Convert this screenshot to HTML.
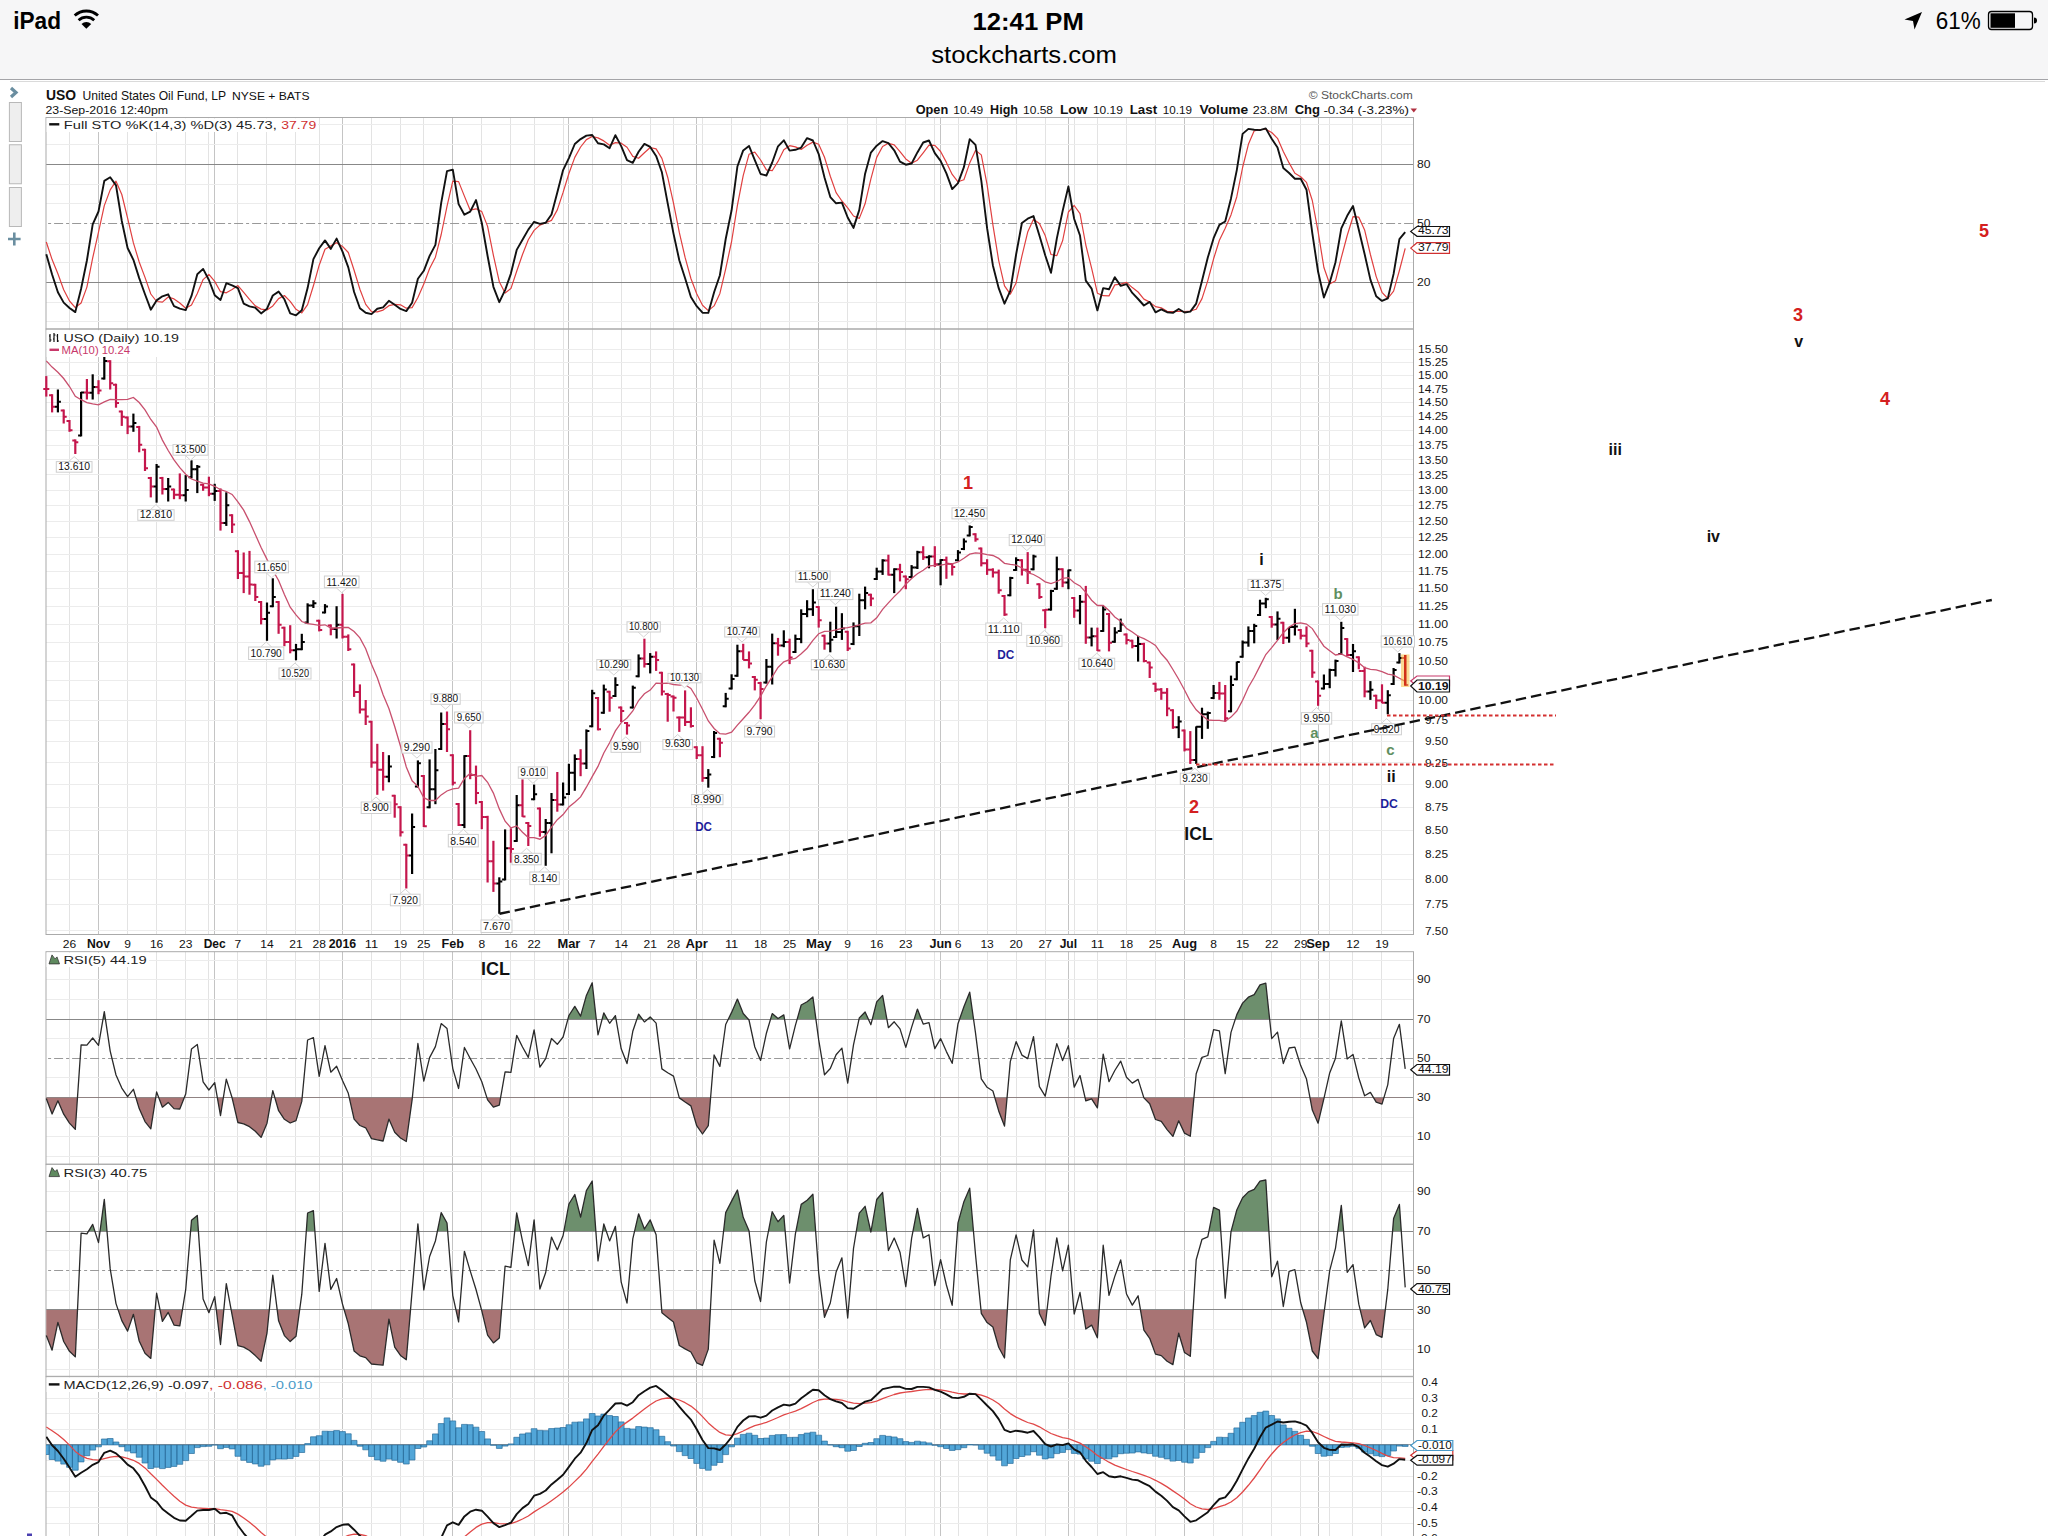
<!DOCTYPE html><html><head><meta charset="utf-8"><style>
html,body{margin:0;padding:0;width:2048px;height:1536px;overflow:hidden;background:#fff;font-family:"Liberation Sans",sans-serif}
#sb{position:absolute;left:0;top:0;width:2048px;height:79px;background:#f6f6f7;border-bottom:1px solid #a4a4a8}
#sh{position:absolute;left:10px;top:81px;width:2035px;height:1px;background:#dadada}
.t{position:absolute;white-space:nowrap;color:#000}
svg{position:absolute;left:0;top:0}
svg text{font-family:"Liberation Sans",sans-serif}
</style></head><body>
<div id="sb"></div><div id="sh"></div>
<svg width="2048" height="1536" viewBox="0 0 2048 1536">
<line x1="69.5" y1="117.5" x2="69.5" y2="329.0" stroke="#e3e3e3" stroke-width="1" />
<line x1="127.5" y1="117.5" x2="127.5" y2="329.0" stroke="#e3e3e3" stroke-width="1" />
<line x1="156.5" y1="117.5" x2="156.5" y2="329.0" stroke="#e3e3e3" stroke-width="1" />
<line x1="185.5" y1="117.5" x2="185.5" y2="329.0" stroke="#e3e3e3" stroke-width="1" />
<line x1="208.5" y1="117.5" x2="208.5" y2="329.0" stroke="#e3e3e3" stroke-width="1" />
<line x1="237.5" y1="117.5" x2="237.5" y2="329.0" stroke="#e3e3e3" stroke-width="1" />
<line x1="266.5" y1="117.5" x2="266.5" y2="329.0" stroke="#e3e3e3" stroke-width="1" />
<line x1="295.5" y1="117.5" x2="295.5" y2="329.0" stroke="#e3e3e3" stroke-width="1" />
<line x1="319.5" y1="117.5" x2="319.5" y2="329.0" stroke="#e3e3e3" stroke-width="1" />
<line x1="371.5" y1="117.5" x2="371.5" y2="329.0" stroke="#e3e3e3" stroke-width="1" />
<line x1="400.5" y1="117.5" x2="400.5" y2="329.0" stroke="#e3e3e3" stroke-width="1" />
<line x1="423.5" y1="117.5" x2="423.5" y2="329.0" stroke="#e3e3e3" stroke-width="1" />
<line x1="481.5" y1="117.5" x2="481.5" y2="329.0" stroke="#e3e3e3" stroke-width="1" />
<line x1="510.5" y1="117.5" x2="510.5" y2="329.0" stroke="#e3e3e3" stroke-width="1" />
<line x1="534.5" y1="117.5" x2="534.5" y2="329.0" stroke="#e3e3e3" stroke-width="1" />
<line x1="563.5" y1="117.5" x2="563.5" y2="329.0" stroke="#e3e3e3" stroke-width="1" />
<line x1="592.5" y1="117.5" x2="592.5" y2="329.0" stroke="#e3e3e3" stroke-width="1" />
<line x1="621.5" y1="117.5" x2="621.5" y2="329.0" stroke="#e3e3e3" stroke-width="1" />
<line x1="650.5" y1="117.5" x2="650.5" y2="329.0" stroke="#e3e3e3" stroke-width="1" />
<line x1="673.5" y1="117.5" x2="673.5" y2="329.0" stroke="#e3e3e3" stroke-width="1" />
<line x1="702.5" y1="117.5" x2="702.5" y2="329.0" stroke="#e3e3e3" stroke-width="1" />
<line x1="731.5" y1="117.5" x2="731.5" y2="329.0" stroke="#e3e3e3" stroke-width="1" />
<line x1="760.5" y1="117.5" x2="760.5" y2="329.0" stroke="#e3e3e3" stroke-width="1" />
<line x1="789.5" y1="117.5" x2="789.5" y2="329.0" stroke="#e3e3e3" stroke-width="1" />
<line x1="847.5" y1="117.5" x2="847.5" y2="329.0" stroke="#e3e3e3" stroke-width="1" />
<line x1="876.5" y1="117.5" x2="876.5" y2="329.0" stroke="#e3e3e3" stroke-width="1" />
<line x1="905.5" y1="117.5" x2="905.5" y2="329.0" stroke="#e3e3e3" stroke-width="1" />
<line x1="934.5" y1="117.5" x2="934.5" y2="329.0" stroke="#e3e3e3" stroke-width="1" />
<line x1="958.5" y1="117.5" x2="958.5" y2="329.0" stroke="#e3e3e3" stroke-width="1" />
<line x1="987.5" y1="117.5" x2="987.5" y2="329.0" stroke="#e3e3e3" stroke-width="1" />
<line x1="1016.5" y1="117.5" x2="1016.5" y2="329.0" stroke="#e3e3e3" stroke-width="1" />
<line x1="1045.5" y1="117.5" x2="1045.5" y2="329.0" stroke="#e3e3e3" stroke-width="1" />
<line x1="1074.5" y1="117.5" x2="1074.5" y2="329.0" stroke="#e3e3e3" stroke-width="1" />
<line x1="1097.5" y1="117.5" x2="1097.5" y2="329.0" stroke="#e3e3e3" stroke-width="1" />
<line x1="1126.5" y1="117.5" x2="1126.5" y2="329.0" stroke="#e3e3e3" stroke-width="1" />
<line x1="1155.5" y1="117.5" x2="1155.5" y2="329.0" stroke="#e3e3e3" stroke-width="1" />
<line x1="1213.5" y1="117.5" x2="1213.5" y2="329.0" stroke="#e3e3e3" stroke-width="1" />
<line x1="1242.5" y1="117.5" x2="1242.5" y2="329.0" stroke="#e3e3e3" stroke-width="1" />
<line x1="1271.5" y1="117.5" x2="1271.5" y2="329.0" stroke="#e3e3e3" stroke-width="1" />
<line x1="1300.5" y1="117.5" x2="1300.5" y2="329.0" stroke="#e3e3e3" stroke-width="1" />
<line x1="1329.5" y1="117.5" x2="1329.5" y2="329.0" stroke="#e3e3e3" stroke-width="1" />
<line x1="1352.5" y1="117.5" x2="1352.5" y2="329.0" stroke="#e3e3e3" stroke-width="1" />
<line x1="1381.5" y1="117.5" x2="1381.5" y2="329.0" stroke="#e3e3e3" stroke-width="1" />
<line x1="98.5" y1="117.5" x2="98.5" y2="329.0" stroke="#c4c4c4" stroke-width="1" />
<line x1="214.5" y1="117.5" x2="214.5" y2="329.0" stroke="#c4c4c4" stroke-width="1" />
<line x1="342.5" y1="117.5" x2="342.5" y2="329.0" stroke="#c4c4c4" stroke-width="1" />
<line x1="452.5" y1="117.5" x2="452.5" y2="329.0" stroke="#c4c4c4" stroke-width="1" />
<line x1="568.5" y1="117.5" x2="568.5" y2="329.0" stroke="#c4c4c4" stroke-width="1" />
<line x1="696.5" y1="117.5" x2="696.5" y2="329.0" stroke="#c4c4c4" stroke-width="1" />
<line x1="818.5" y1="117.5" x2="818.5" y2="329.0" stroke="#c4c4c4" stroke-width="1" />
<line x1="940.5" y1="117.5" x2="940.5" y2="329.0" stroke="#c4c4c4" stroke-width="1" />
<line x1="1068.5" y1="117.5" x2="1068.5" y2="329.0" stroke="#c4c4c4" stroke-width="1" />
<line x1="1184.5" y1="117.5" x2="1184.5" y2="329.0" stroke="#c4c4c4" stroke-width="1" />
<line x1="1318.5" y1="117.5" x2="1318.5" y2="329.0" stroke="#c4c4c4" stroke-width="1" />
<line x1="69.5" y1="329.0" x2="69.5" y2="934.5" stroke="#e3e3e3" stroke-width="1" />
<line x1="127.5" y1="329.0" x2="127.5" y2="934.5" stroke="#e3e3e3" stroke-width="1" />
<line x1="156.5" y1="329.0" x2="156.5" y2="934.5" stroke="#e3e3e3" stroke-width="1" />
<line x1="185.5" y1="329.0" x2="185.5" y2="934.5" stroke="#e3e3e3" stroke-width="1" />
<line x1="208.5" y1="329.0" x2="208.5" y2="934.5" stroke="#e3e3e3" stroke-width="1" />
<line x1="237.5" y1="329.0" x2="237.5" y2="934.5" stroke="#e3e3e3" stroke-width="1" />
<line x1="266.5" y1="329.0" x2="266.5" y2="934.5" stroke="#e3e3e3" stroke-width="1" />
<line x1="295.5" y1="329.0" x2="295.5" y2="934.5" stroke="#e3e3e3" stroke-width="1" />
<line x1="319.5" y1="329.0" x2="319.5" y2="934.5" stroke="#e3e3e3" stroke-width="1" />
<line x1="371.5" y1="329.0" x2="371.5" y2="934.5" stroke="#e3e3e3" stroke-width="1" />
<line x1="400.5" y1="329.0" x2="400.5" y2="934.5" stroke="#e3e3e3" stroke-width="1" />
<line x1="423.5" y1="329.0" x2="423.5" y2="934.5" stroke="#e3e3e3" stroke-width="1" />
<line x1="481.5" y1="329.0" x2="481.5" y2="934.5" stroke="#e3e3e3" stroke-width="1" />
<line x1="510.5" y1="329.0" x2="510.5" y2="934.5" stroke="#e3e3e3" stroke-width="1" />
<line x1="534.5" y1="329.0" x2="534.5" y2="934.5" stroke="#e3e3e3" stroke-width="1" />
<line x1="563.5" y1="329.0" x2="563.5" y2="934.5" stroke="#e3e3e3" stroke-width="1" />
<line x1="592.5" y1="329.0" x2="592.5" y2="934.5" stroke="#e3e3e3" stroke-width="1" />
<line x1="621.5" y1="329.0" x2="621.5" y2="934.5" stroke="#e3e3e3" stroke-width="1" />
<line x1="650.5" y1="329.0" x2="650.5" y2="934.5" stroke="#e3e3e3" stroke-width="1" />
<line x1="673.5" y1="329.0" x2="673.5" y2="934.5" stroke="#e3e3e3" stroke-width="1" />
<line x1="702.5" y1="329.0" x2="702.5" y2="934.5" stroke="#e3e3e3" stroke-width="1" />
<line x1="731.5" y1="329.0" x2="731.5" y2="934.5" stroke="#e3e3e3" stroke-width="1" />
<line x1="760.5" y1="329.0" x2="760.5" y2="934.5" stroke="#e3e3e3" stroke-width="1" />
<line x1="789.5" y1="329.0" x2="789.5" y2="934.5" stroke="#e3e3e3" stroke-width="1" />
<line x1="847.5" y1="329.0" x2="847.5" y2="934.5" stroke="#e3e3e3" stroke-width="1" />
<line x1="876.5" y1="329.0" x2="876.5" y2="934.5" stroke="#e3e3e3" stroke-width="1" />
<line x1="905.5" y1="329.0" x2="905.5" y2="934.5" stroke="#e3e3e3" stroke-width="1" />
<line x1="934.5" y1="329.0" x2="934.5" y2="934.5" stroke="#e3e3e3" stroke-width="1" />
<line x1="958.5" y1="329.0" x2="958.5" y2="934.5" stroke="#e3e3e3" stroke-width="1" />
<line x1="987.5" y1="329.0" x2="987.5" y2="934.5" stroke="#e3e3e3" stroke-width="1" />
<line x1="1016.5" y1="329.0" x2="1016.5" y2="934.5" stroke="#e3e3e3" stroke-width="1" />
<line x1="1045.5" y1="329.0" x2="1045.5" y2="934.5" stroke="#e3e3e3" stroke-width="1" />
<line x1="1074.5" y1="329.0" x2="1074.5" y2="934.5" stroke="#e3e3e3" stroke-width="1" />
<line x1="1097.5" y1="329.0" x2="1097.5" y2="934.5" stroke="#e3e3e3" stroke-width="1" />
<line x1="1126.5" y1="329.0" x2="1126.5" y2="934.5" stroke="#e3e3e3" stroke-width="1" />
<line x1="1155.5" y1="329.0" x2="1155.5" y2="934.5" stroke="#e3e3e3" stroke-width="1" />
<line x1="1213.5" y1="329.0" x2="1213.5" y2="934.5" stroke="#e3e3e3" stroke-width="1" />
<line x1="1242.5" y1="329.0" x2="1242.5" y2="934.5" stroke="#e3e3e3" stroke-width="1" />
<line x1="1271.5" y1="329.0" x2="1271.5" y2="934.5" stroke="#e3e3e3" stroke-width="1" />
<line x1="1300.5" y1="329.0" x2="1300.5" y2="934.5" stroke="#e3e3e3" stroke-width="1" />
<line x1="1329.5" y1="329.0" x2="1329.5" y2="934.5" stroke="#e3e3e3" stroke-width="1" />
<line x1="1352.5" y1="329.0" x2="1352.5" y2="934.5" stroke="#e3e3e3" stroke-width="1" />
<line x1="1381.5" y1="329.0" x2="1381.5" y2="934.5" stroke="#e3e3e3" stroke-width="1" />
<line x1="98.5" y1="329.0" x2="98.5" y2="934.5" stroke="#c4c4c4" stroke-width="1" />
<line x1="214.5" y1="329.0" x2="214.5" y2="934.5" stroke="#c4c4c4" stroke-width="1" />
<line x1="342.5" y1="329.0" x2="342.5" y2="934.5" stroke="#c4c4c4" stroke-width="1" />
<line x1="452.5" y1="329.0" x2="452.5" y2="934.5" stroke="#c4c4c4" stroke-width="1" />
<line x1="568.5" y1="329.0" x2="568.5" y2="934.5" stroke="#c4c4c4" stroke-width="1" />
<line x1="696.5" y1="329.0" x2="696.5" y2="934.5" stroke="#c4c4c4" stroke-width="1" />
<line x1="818.5" y1="329.0" x2="818.5" y2="934.5" stroke="#c4c4c4" stroke-width="1" />
<line x1="940.5" y1="329.0" x2="940.5" y2="934.5" stroke="#c4c4c4" stroke-width="1" />
<line x1="1068.5" y1="329.0" x2="1068.5" y2="934.5" stroke="#c4c4c4" stroke-width="1" />
<line x1="1184.5" y1="329.0" x2="1184.5" y2="934.5" stroke="#c4c4c4" stroke-width="1" />
<line x1="1318.5" y1="329.0" x2="1318.5" y2="934.5" stroke="#c4c4c4" stroke-width="1" />
<line x1="69.5" y1="951.7" x2="69.5" y2="1164.2" stroke="#e3e3e3" stroke-width="1" />
<line x1="127.5" y1="951.7" x2="127.5" y2="1164.2" stroke="#e3e3e3" stroke-width="1" />
<line x1="156.5" y1="951.7" x2="156.5" y2="1164.2" stroke="#e3e3e3" stroke-width="1" />
<line x1="185.5" y1="951.7" x2="185.5" y2="1164.2" stroke="#e3e3e3" stroke-width="1" />
<line x1="208.5" y1="951.7" x2="208.5" y2="1164.2" stroke="#e3e3e3" stroke-width="1" />
<line x1="237.5" y1="951.7" x2="237.5" y2="1164.2" stroke="#e3e3e3" stroke-width="1" />
<line x1="266.5" y1="951.7" x2="266.5" y2="1164.2" stroke="#e3e3e3" stroke-width="1" />
<line x1="295.5" y1="951.7" x2="295.5" y2="1164.2" stroke="#e3e3e3" stroke-width="1" />
<line x1="319.5" y1="951.7" x2="319.5" y2="1164.2" stroke="#e3e3e3" stroke-width="1" />
<line x1="371.5" y1="951.7" x2="371.5" y2="1164.2" stroke="#e3e3e3" stroke-width="1" />
<line x1="400.5" y1="951.7" x2="400.5" y2="1164.2" stroke="#e3e3e3" stroke-width="1" />
<line x1="423.5" y1="951.7" x2="423.5" y2="1164.2" stroke="#e3e3e3" stroke-width="1" />
<line x1="481.5" y1="951.7" x2="481.5" y2="1164.2" stroke="#e3e3e3" stroke-width="1" />
<line x1="510.5" y1="951.7" x2="510.5" y2="1164.2" stroke="#e3e3e3" stroke-width="1" />
<line x1="534.5" y1="951.7" x2="534.5" y2="1164.2" stroke="#e3e3e3" stroke-width="1" />
<line x1="563.5" y1="951.7" x2="563.5" y2="1164.2" stroke="#e3e3e3" stroke-width="1" />
<line x1="592.5" y1="951.7" x2="592.5" y2="1164.2" stroke="#e3e3e3" stroke-width="1" />
<line x1="621.5" y1="951.7" x2="621.5" y2="1164.2" stroke="#e3e3e3" stroke-width="1" />
<line x1="650.5" y1="951.7" x2="650.5" y2="1164.2" stroke="#e3e3e3" stroke-width="1" />
<line x1="673.5" y1="951.7" x2="673.5" y2="1164.2" stroke="#e3e3e3" stroke-width="1" />
<line x1="702.5" y1="951.7" x2="702.5" y2="1164.2" stroke="#e3e3e3" stroke-width="1" />
<line x1="731.5" y1="951.7" x2="731.5" y2="1164.2" stroke="#e3e3e3" stroke-width="1" />
<line x1="760.5" y1="951.7" x2="760.5" y2="1164.2" stroke="#e3e3e3" stroke-width="1" />
<line x1="789.5" y1="951.7" x2="789.5" y2="1164.2" stroke="#e3e3e3" stroke-width="1" />
<line x1="847.5" y1="951.7" x2="847.5" y2="1164.2" stroke="#e3e3e3" stroke-width="1" />
<line x1="876.5" y1="951.7" x2="876.5" y2="1164.2" stroke="#e3e3e3" stroke-width="1" />
<line x1="905.5" y1="951.7" x2="905.5" y2="1164.2" stroke="#e3e3e3" stroke-width="1" />
<line x1="934.5" y1="951.7" x2="934.5" y2="1164.2" stroke="#e3e3e3" stroke-width="1" />
<line x1="958.5" y1="951.7" x2="958.5" y2="1164.2" stroke="#e3e3e3" stroke-width="1" />
<line x1="987.5" y1="951.7" x2="987.5" y2="1164.2" stroke="#e3e3e3" stroke-width="1" />
<line x1="1016.5" y1="951.7" x2="1016.5" y2="1164.2" stroke="#e3e3e3" stroke-width="1" />
<line x1="1045.5" y1="951.7" x2="1045.5" y2="1164.2" stroke="#e3e3e3" stroke-width="1" />
<line x1="1074.5" y1="951.7" x2="1074.5" y2="1164.2" stroke="#e3e3e3" stroke-width="1" />
<line x1="1097.5" y1="951.7" x2="1097.5" y2="1164.2" stroke="#e3e3e3" stroke-width="1" />
<line x1="1126.5" y1="951.7" x2="1126.5" y2="1164.2" stroke="#e3e3e3" stroke-width="1" />
<line x1="1155.5" y1="951.7" x2="1155.5" y2="1164.2" stroke="#e3e3e3" stroke-width="1" />
<line x1="1213.5" y1="951.7" x2="1213.5" y2="1164.2" stroke="#e3e3e3" stroke-width="1" />
<line x1="1242.5" y1="951.7" x2="1242.5" y2="1164.2" stroke="#e3e3e3" stroke-width="1" />
<line x1="1271.5" y1="951.7" x2="1271.5" y2="1164.2" stroke="#e3e3e3" stroke-width="1" />
<line x1="1300.5" y1="951.7" x2="1300.5" y2="1164.2" stroke="#e3e3e3" stroke-width="1" />
<line x1="1329.5" y1="951.7" x2="1329.5" y2="1164.2" stroke="#e3e3e3" stroke-width="1" />
<line x1="1352.5" y1="951.7" x2="1352.5" y2="1164.2" stroke="#e3e3e3" stroke-width="1" />
<line x1="1381.5" y1="951.7" x2="1381.5" y2="1164.2" stroke="#e3e3e3" stroke-width="1" />
<line x1="98.5" y1="951.7" x2="98.5" y2="1164.2" stroke="#c4c4c4" stroke-width="1" />
<line x1="214.5" y1="951.7" x2="214.5" y2="1164.2" stroke="#c4c4c4" stroke-width="1" />
<line x1="342.5" y1="951.7" x2="342.5" y2="1164.2" stroke="#c4c4c4" stroke-width="1" />
<line x1="452.5" y1="951.7" x2="452.5" y2="1164.2" stroke="#c4c4c4" stroke-width="1" />
<line x1="568.5" y1="951.7" x2="568.5" y2="1164.2" stroke="#c4c4c4" stroke-width="1" />
<line x1="696.5" y1="951.7" x2="696.5" y2="1164.2" stroke="#c4c4c4" stroke-width="1" />
<line x1="818.5" y1="951.7" x2="818.5" y2="1164.2" stroke="#c4c4c4" stroke-width="1" />
<line x1="940.5" y1="951.7" x2="940.5" y2="1164.2" stroke="#c4c4c4" stroke-width="1" />
<line x1="1068.5" y1="951.7" x2="1068.5" y2="1164.2" stroke="#c4c4c4" stroke-width="1" />
<line x1="1184.5" y1="951.7" x2="1184.5" y2="1164.2" stroke="#c4c4c4" stroke-width="1" />
<line x1="1318.5" y1="951.7" x2="1318.5" y2="1164.2" stroke="#c4c4c4" stroke-width="1" />
<line x1="69.5" y1="1164.3" x2="69.5" y2="1376.3" stroke="#e3e3e3" stroke-width="1" />
<line x1="127.5" y1="1164.3" x2="127.5" y2="1376.3" stroke="#e3e3e3" stroke-width="1" />
<line x1="156.5" y1="1164.3" x2="156.5" y2="1376.3" stroke="#e3e3e3" stroke-width="1" />
<line x1="185.5" y1="1164.3" x2="185.5" y2="1376.3" stroke="#e3e3e3" stroke-width="1" />
<line x1="208.5" y1="1164.3" x2="208.5" y2="1376.3" stroke="#e3e3e3" stroke-width="1" />
<line x1="237.5" y1="1164.3" x2="237.5" y2="1376.3" stroke="#e3e3e3" stroke-width="1" />
<line x1="266.5" y1="1164.3" x2="266.5" y2="1376.3" stroke="#e3e3e3" stroke-width="1" />
<line x1="295.5" y1="1164.3" x2="295.5" y2="1376.3" stroke="#e3e3e3" stroke-width="1" />
<line x1="319.5" y1="1164.3" x2="319.5" y2="1376.3" stroke="#e3e3e3" stroke-width="1" />
<line x1="371.5" y1="1164.3" x2="371.5" y2="1376.3" stroke="#e3e3e3" stroke-width="1" />
<line x1="400.5" y1="1164.3" x2="400.5" y2="1376.3" stroke="#e3e3e3" stroke-width="1" />
<line x1="423.5" y1="1164.3" x2="423.5" y2="1376.3" stroke="#e3e3e3" stroke-width="1" />
<line x1="481.5" y1="1164.3" x2="481.5" y2="1376.3" stroke="#e3e3e3" stroke-width="1" />
<line x1="510.5" y1="1164.3" x2="510.5" y2="1376.3" stroke="#e3e3e3" stroke-width="1" />
<line x1="534.5" y1="1164.3" x2="534.5" y2="1376.3" stroke="#e3e3e3" stroke-width="1" />
<line x1="563.5" y1="1164.3" x2="563.5" y2="1376.3" stroke="#e3e3e3" stroke-width="1" />
<line x1="592.5" y1="1164.3" x2="592.5" y2="1376.3" stroke="#e3e3e3" stroke-width="1" />
<line x1="621.5" y1="1164.3" x2="621.5" y2="1376.3" stroke="#e3e3e3" stroke-width="1" />
<line x1="650.5" y1="1164.3" x2="650.5" y2="1376.3" stroke="#e3e3e3" stroke-width="1" />
<line x1="673.5" y1="1164.3" x2="673.5" y2="1376.3" stroke="#e3e3e3" stroke-width="1" />
<line x1="702.5" y1="1164.3" x2="702.5" y2="1376.3" stroke="#e3e3e3" stroke-width="1" />
<line x1="731.5" y1="1164.3" x2="731.5" y2="1376.3" stroke="#e3e3e3" stroke-width="1" />
<line x1="760.5" y1="1164.3" x2="760.5" y2="1376.3" stroke="#e3e3e3" stroke-width="1" />
<line x1="789.5" y1="1164.3" x2="789.5" y2="1376.3" stroke="#e3e3e3" stroke-width="1" />
<line x1="847.5" y1="1164.3" x2="847.5" y2="1376.3" stroke="#e3e3e3" stroke-width="1" />
<line x1="876.5" y1="1164.3" x2="876.5" y2="1376.3" stroke="#e3e3e3" stroke-width="1" />
<line x1="905.5" y1="1164.3" x2="905.5" y2="1376.3" stroke="#e3e3e3" stroke-width="1" />
<line x1="934.5" y1="1164.3" x2="934.5" y2="1376.3" stroke="#e3e3e3" stroke-width="1" />
<line x1="958.5" y1="1164.3" x2="958.5" y2="1376.3" stroke="#e3e3e3" stroke-width="1" />
<line x1="987.5" y1="1164.3" x2="987.5" y2="1376.3" stroke="#e3e3e3" stroke-width="1" />
<line x1="1016.5" y1="1164.3" x2="1016.5" y2="1376.3" stroke="#e3e3e3" stroke-width="1" />
<line x1="1045.5" y1="1164.3" x2="1045.5" y2="1376.3" stroke="#e3e3e3" stroke-width="1" />
<line x1="1074.5" y1="1164.3" x2="1074.5" y2="1376.3" stroke="#e3e3e3" stroke-width="1" />
<line x1="1097.5" y1="1164.3" x2="1097.5" y2="1376.3" stroke="#e3e3e3" stroke-width="1" />
<line x1="1126.5" y1="1164.3" x2="1126.5" y2="1376.3" stroke="#e3e3e3" stroke-width="1" />
<line x1="1155.5" y1="1164.3" x2="1155.5" y2="1376.3" stroke="#e3e3e3" stroke-width="1" />
<line x1="1213.5" y1="1164.3" x2="1213.5" y2="1376.3" stroke="#e3e3e3" stroke-width="1" />
<line x1="1242.5" y1="1164.3" x2="1242.5" y2="1376.3" stroke="#e3e3e3" stroke-width="1" />
<line x1="1271.5" y1="1164.3" x2="1271.5" y2="1376.3" stroke="#e3e3e3" stroke-width="1" />
<line x1="1300.5" y1="1164.3" x2="1300.5" y2="1376.3" stroke="#e3e3e3" stroke-width="1" />
<line x1="1329.5" y1="1164.3" x2="1329.5" y2="1376.3" stroke="#e3e3e3" stroke-width="1" />
<line x1="1352.5" y1="1164.3" x2="1352.5" y2="1376.3" stroke="#e3e3e3" stroke-width="1" />
<line x1="1381.5" y1="1164.3" x2="1381.5" y2="1376.3" stroke="#e3e3e3" stroke-width="1" />
<line x1="98.5" y1="1164.3" x2="98.5" y2="1376.3" stroke="#c4c4c4" stroke-width="1" />
<line x1="214.5" y1="1164.3" x2="214.5" y2="1376.3" stroke="#c4c4c4" stroke-width="1" />
<line x1="342.5" y1="1164.3" x2="342.5" y2="1376.3" stroke="#c4c4c4" stroke-width="1" />
<line x1="452.5" y1="1164.3" x2="452.5" y2="1376.3" stroke="#c4c4c4" stroke-width="1" />
<line x1="568.5" y1="1164.3" x2="568.5" y2="1376.3" stroke="#c4c4c4" stroke-width="1" />
<line x1="696.5" y1="1164.3" x2="696.5" y2="1376.3" stroke="#c4c4c4" stroke-width="1" />
<line x1="818.5" y1="1164.3" x2="818.5" y2="1376.3" stroke="#c4c4c4" stroke-width="1" />
<line x1="940.5" y1="1164.3" x2="940.5" y2="1376.3" stroke="#c4c4c4" stroke-width="1" />
<line x1="1068.5" y1="1164.3" x2="1068.5" y2="1376.3" stroke="#c4c4c4" stroke-width="1" />
<line x1="1184.5" y1="1164.3" x2="1184.5" y2="1376.3" stroke="#c4c4c4" stroke-width="1" />
<line x1="1318.5" y1="1164.3" x2="1318.5" y2="1376.3" stroke="#c4c4c4" stroke-width="1" />
<line x1="69.5" y1="1376.7" x2="69.5" y2="1540.0" stroke="#e3e3e3" stroke-width="1" />
<line x1="127.5" y1="1376.7" x2="127.5" y2="1540.0" stroke="#e3e3e3" stroke-width="1" />
<line x1="156.5" y1="1376.7" x2="156.5" y2="1540.0" stroke="#e3e3e3" stroke-width="1" />
<line x1="185.5" y1="1376.7" x2="185.5" y2="1540.0" stroke="#e3e3e3" stroke-width="1" />
<line x1="208.5" y1="1376.7" x2="208.5" y2="1540.0" stroke="#e3e3e3" stroke-width="1" />
<line x1="237.5" y1="1376.7" x2="237.5" y2="1540.0" stroke="#e3e3e3" stroke-width="1" />
<line x1="266.5" y1="1376.7" x2="266.5" y2="1540.0" stroke="#e3e3e3" stroke-width="1" />
<line x1="295.5" y1="1376.7" x2="295.5" y2="1540.0" stroke="#e3e3e3" stroke-width="1" />
<line x1="319.5" y1="1376.7" x2="319.5" y2="1540.0" stroke="#e3e3e3" stroke-width="1" />
<line x1="371.5" y1="1376.7" x2="371.5" y2="1540.0" stroke="#e3e3e3" stroke-width="1" />
<line x1="400.5" y1="1376.7" x2="400.5" y2="1540.0" stroke="#e3e3e3" stroke-width="1" />
<line x1="423.5" y1="1376.7" x2="423.5" y2="1540.0" stroke="#e3e3e3" stroke-width="1" />
<line x1="481.5" y1="1376.7" x2="481.5" y2="1540.0" stroke="#e3e3e3" stroke-width="1" />
<line x1="510.5" y1="1376.7" x2="510.5" y2="1540.0" stroke="#e3e3e3" stroke-width="1" />
<line x1="534.5" y1="1376.7" x2="534.5" y2="1540.0" stroke="#e3e3e3" stroke-width="1" />
<line x1="563.5" y1="1376.7" x2="563.5" y2="1540.0" stroke="#e3e3e3" stroke-width="1" />
<line x1="592.5" y1="1376.7" x2="592.5" y2="1540.0" stroke="#e3e3e3" stroke-width="1" />
<line x1="621.5" y1="1376.7" x2="621.5" y2="1540.0" stroke="#e3e3e3" stroke-width="1" />
<line x1="650.5" y1="1376.7" x2="650.5" y2="1540.0" stroke="#e3e3e3" stroke-width="1" />
<line x1="673.5" y1="1376.7" x2="673.5" y2="1540.0" stroke="#e3e3e3" stroke-width="1" />
<line x1="702.5" y1="1376.7" x2="702.5" y2="1540.0" stroke="#e3e3e3" stroke-width="1" />
<line x1="731.5" y1="1376.7" x2="731.5" y2="1540.0" stroke="#e3e3e3" stroke-width="1" />
<line x1="760.5" y1="1376.7" x2="760.5" y2="1540.0" stroke="#e3e3e3" stroke-width="1" />
<line x1="789.5" y1="1376.7" x2="789.5" y2="1540.0" stroke="#e3e3e3" stroke-width="1" />
<line x1="847.5" y1="1376.7" x2="847.5" y2="1540.0" stroke="#e3e3e3" stroke-width="1" />
<line x1="876.5" y1="1376.7" x2="876.5" y2="1540.0" stroke="#e3e3e3" stroke-width="1" />
<line x1="905.5" y1="1376.7" x2="905.5" y2="1540.0" stroke="#e3e3e3" stroke-width="1" />
<line x1="934.5" y1="1376.7" x2="934.5" y2="1540.0" stroke="#e3e3e3" stroke-width="1" />
<line x1="958.5" y1="1376.7" x2="958.5" y2="1540.0" stroke="#e3e3e3" stroke-width="1" />
<line x1="987.5" y1="1376.7" x2="987.5" y2="1540.0" stroke="#e3e3e3" stroke-width="1" />
<line x1="1016.5" y1="1376.7" x2="1016.5" y2="1540.0" stroke="#e3e3e3" stroke-width="1" />
<line x1="1045.5" y1="1376.7" x2="1045.5" y2="1540.0" stroke="#e3e3e3" stroke-width="1" />
<line x1="1074.5" y1="1376.7" x2="1074.5" y2="1540.0" stroke="#e3e3e3" stroke-width="1" />
<line x1="1097.5" y1="1376.7" x2="1097.5" y2="1540.0" stroke="#e3e3e3" stroke-width="1" />
<line x1="1126.5" y1="1376.7" x2="1126.5" y2="1540.0" stroke="#e3e3e3" stroke-width="1" />
<line x1="1155.5" y1="1376.7" x2="1155.5" y2="1540.0" stroke="#e3e3e3" stroke-width="1" />
<line x1="1213.5" y1="1376.7" x2="1213.5" y2="1540.0" stroke="#e3e3e3" stroke-width="1" />
<line x1="1242.5" y1="1376.7" x2="1242.5" y2="1540.0" stroke="#e3e3e3" stroke-width="1" />
<line x1="1271.5" y1="1376.7" x2="1271.5" y2="1540.0" stroke="#e3e3e3" stroke-width="1" />
<line x1="1300.5" y1="1376.7" x2="1300.5" y2="1540.0" stroke="#e3e3e3" stroke-width="1" />
<line x1="1329.5" y1="1376.7" x2="1329.5" y2="1540.0" stroke="#e3e3e3" stroke-width="1" />
<line x1="1352.5" y1="1376.7" x2="1352.5" y2="1540.0" stroke="#e3e3e3" stroke-width="1" />
<line x1="1381.5" y1="1376.7" x2="1381.5" y2="1540.0" stroke="#e3e3e3" stroke-width="1" />
<line x1="98.5" y1="1376.7" x2="98.5" y2="1540.0" stroke="#c4c4c4" stroke-width="1" />
<line x1="214.5" y1="1376.7" x2="214.5" y2="1540.0" stroke="#c4c4c4" stroke-width="1" />
<line x1="342.5" y1="1376.7" x2="342.5" y2="1540.0" stroke="#c4c4c4" stroke-width="1" />
<line x1="452.5" y1="1376.7" x2="452.5" y2="1540.0" stroke="#c4c4c4" stroke-width="1" />
<line x1="568.5" y1="1376.7" x2="568.5" y2="1540.0" stroke="#c4c4c4" stroke-width="1" />
<line x1="696.5" y1="1376.7" x2="696.5" y2="1540.0" stroke="#c4c4c4" stroke-width="1" />
<line x1="818.5" y1="1376.7" x2="818.5" y2="1540.0" stroke="#c4c4c4" stroke-width="1" />
<line x1="940.5" y1="1376.7" x2="940.5" y2="1540.0" stroke="#c4c4c4" stroke-width="1" />
<line x1="1068.5" y1="1376.7" x2="1068.5" y2="1540.0" stroke="#c4c4c4" stroke-width="1" />
<line x1="1184.5" y1="1376.7" x2="1184.5" y2="1540.0" stroke="#c4c4c4" stroke-width="1" />
<line x1="1318.5" y1="1376.7" x2="1318.5" y2="1540.0" stroke="#c4c4c4" stroke-width="1" />
<line x1="46.0" y1="321.5" x2="1413.5" y2="321.5" stroke="#ececec" stroke-width="1" />
<line x1="46.0" y1="302.5" x2="1413.5" y2="302.5" stroke="#ececec" stroke-width="1" />
<line x1="46.0" y1="282.5" x2="1413.5" y2="282.5" stroke="#888" stroke-width="1.2" />
<line x1="46.0" y1="262.5" x2="1413.5" y2="262.5" stroke="#ececec" stroke-width="1" />
<line x1="46.0" y1="243.5" x2="1413.5" y2="243.5" stroke="#ececec" stroke-width="1" />
<line x1="46.0" y1="223.5" x2="1413.5" y2="223.5" stroke="#999" stroke-width="1.2" stroke-dasharray="9,3,3,3" stroke-dashoffset="9.9"/>
<line x1="46.0" y1="203.5" x2="1413.5" y2="203.5" stroke="#ececec" stroke-width="1" />
<line x1="46.0" y1="184.5" x2="1413.5" y2="184.5" stroke="#ececec" stroke-width="1" />
<line x1="46.0" y1="164.5" x2="1413.5" y2="164.5" stroke="#888" stroke-width="1.2" />
<line x1="46.0" y1="144.5" x2="1413.5" y2="144.5" stroke="#ececec" stroke-width="1" />
<line x1="46.0" y1="124.5" x2="1413.5" y2="124.5" stroke="#ececec" stroke-width="1" />
<line x1="46.0" y1="930.5" x2="1413.5" y2="930.5" stroke="#ececec" stroke-width="1" />
<line x1="46.0" y1="904.5" x2="1413.5" y2="904.5" stroke="#ececec" stroke-width="1" />
<line x1="46.0" y1="879.5" x2="1413.5" y2="879.5" stroke="#ececec" stroke-width="1" />
<line x1="46.0" y1="854.5" x2="1413.5" y2="854.5" stroke="#ececec" stroke-width="1" />
<line x1="46.0" y1="830.5" x2="1413.5" y2="830.5" stroke="#ececec" stroke-width="1" />
<line x1="46.0" y1="807.5" x2="1413.5" y2="807.5" stroke="#ececec" stroke-width="1" />
<line x1="46.0" y1="784.5" x2="1413.5" y2="784.5" stroke="#ececec" stroke-width="1" />
<line x1="46.0" y1="762.5" x2="1413.5" y2="762.5" stroke="#ececec" stroke-width="1" />
<line x1="46.0" y1="741.5" x2="1413.5" y2="741.5" stroke="#ececec" stroke-width="1" />
<line x1="46.0" y1="720.5" x2="1413.5" y2="720.5" stroke="#ececec" stroke-width="1" />
<line x1="46.0" y1="700.5" x2="1413.5" y2="700.5" stroke="#ececec" stroke-width="1" />
<line x1="46.0" y1="680.5" x2="1413.5" y2="680.5" stroke="#ececec" stroke-width="1" />
<line x1="46.0" y1="661.5" x2="1413.5" y2="661.5" stroke="#ececec" stroke-width="1" />
<line x1="46.0" y1="642.5" x2="1413.5" y2="642.5" stroke="#ececec" stroke-width="1" />
<line x1="46.0" y1="624.5" x2="1413.5" y2="624.5" stroke="#ececec" stroke-width="1" />
<line x1="46.0" y1="606.5" x2="1413.5" y2="606.5" stroke="#ececec" stroke-width="1" />
<line x1="46.0" y1="588.5" x2="1413.5" y2="588.5" stroke="#ececec" stroke-width="1" />
<line x1="46.0" y1="571.5" x2="1413.5" y2="571.5" stroke="#ececec" stroke-width="1" />
<line x1="46.0" y1="554.5" x2="1413.5" y2="554.5" stroke="#ececec" stroke-width="1" />
<line x1="46.0" y1="537.5" x2="1413.5" y2="537.5" stroke="#ececec" stroke-width="1" />
<line x1="46.0" y1="521.5" x2="1413.5" y2="521.5" stroke="#ececec" stroke-width="1" />
<line x1="46.0" y1="505.5" x2="1413.5" y2="505.5" stroke="#ececec" stroke-width="1" />
<line x1="46.0" y1="490.5" x2="1413.5" y2="490.5" stroke="#ececec" stroke-width="1" />
<line x1="46.0" y1="474.5" x2="1413.5" y2="474.5" stroke="#ececec" stroke-width="1" />
<line x1="46.0" y1="459.5" x2="1413.5" y2="459.5" stroke="#ececec" stroke-width="1" />
<line x1="46.0" y1="445.5" x2="1413.5" y2="445.5" stroke="#ececec" stroke-width="1" />
<line x1="46.0" y1="430.5" x2="1413.5" y2="430.5" stroke="#ececec" stroke-width="1" />
<line x1="46.0" y1="416.5" x2="1413.5" y2="416.5" stroke="#ececec" stroke-width="1" />
<line x1="46.0" y1="402.5" x2="1413.5" y2="402.5" stroke="#ececec" stroke-width="1" />
<line x1="46.0" y1="388.5" x2="1413.5" y2="388.5" stroke="#ececec" stroke-width="1" />
<line x1="46.0" y1="375.5" x2="1413.5" y2="375.5" stroke="#ececec" stroke-width="1" />
<line x1="46.0" y1="362.5" x2="1413.5" y2="362.5" stroke="#ececec" stroke-width="1" />
<line x1="46.0" y1="349.5" x2="1413.5" y2="349.5" stroke="#ececec" stroke-width="1" />
<line x1="46.0" y1="1156.5" x2="1413.5" y2="1156.5" stroke="#ececec" stroke-width="1" />
<line x1="46.0" y1="1136.5" x2="1413.5" y2="1136.5" stroke="#ececec" stroke-width="1" />
<line x1="46.0" y1="1117.5" x2="1413.5" y2="1117.5" stroke="#ececec" stroke-width="1" />
<line x1="46.0" y1="1097.5" x2="1413.5" y2="1097.5" stroke="#888" stroke-width="1.2" />
<line x1="46.0" y1="1077.5" x2="1413.5" y2="1077.5" stroke="#ececec" stroke-width="1" />
<line x1="46.0" y1="1058.5" x2="1413.5" y2="1058.5" stroke="#999" stroke-width="1.2" stroke-dasharray="9,3,3,3" stroke-dashoffset="9.9"/>
<line x1="46.0" y1="1038.5" x2="1413.5" y2="1038.5" stroke="#ececec" stroke-width="1" />
<line x1="46.0" y1="1019.5" x2="1413.5" y2="1019.5" stroke="#888" stroke-width="1.2" />
<line x1="46.0" y1="999.5" x2="1413.5" y2="999.5" stroke="#ececec" stroke-width="1" />
<line x1="46.0" y1="979.5" x2="1413.5" y2="979.5" stroke="#ececec" stroke-width="1" />
<line x1="46.0" y1="960.5" x2="1413.5" y2="960.5" stroke="#ececec" stroke-width="1" />
<line x1="46.0" y1="1369.5" x2="1413.5" y2="1369.5" stroke="#ececec" stroke-width="1" />
<line x1="46.0" y1="1349.5" x2="1413.5" y2="1349.5" stroke="#ececec" stroke-width="1" />
<line x1="46.0" y1="1329.5" x2="1413.5" y2="1329.5" stroke="#ececec" stroke-width="1" />
<line x1="46.0" y1="1309.5" x2="1413.5" y2="1309.5" stroke="#888" stroke-width="1.2" />
<line x1="46.0" y1="1290.5" x2="1413.5" y2="1290.5" stroke="#ececec" stroke-width="1" />
<line x1="46.0" y1="1270.5" x2="1413.5" y2="1270.5" stroke="#999" stroke-width="1.2" stroke-dasharray="9,3,3,3" stroke-dashoffset="9.9"/>
<line x1="46.0" y1="1250.5" x2="1413.5" y2="1250.5" stroke="#ececec" stroke-width="1" />
<line x1="46.0" y1="1231.5" x2="1413.5" y2="1231.5" stroke="#888" stroke-width="1.2" />
<line x1="46.0" y1="1211.5" x2="1413.5" y2="1211.5" stroke="#ececec" stroke-width="1" />
<line x1="46.0" y1="1191.5" x2="1413.5" y2="1191.5" stroke="#ececec" stroke-width="1" />
<line x1="46.0" y1="1171.5" x2="1413.5" y2="1171.5" stroke="#ececec" stroke-width="1" />
<line x1="46.0" y1="1538.5" x2="1413.5" y2="1538.5" stroke="#ececec" stroke-width="1" />
<line x1="46.0" y1="1523.5" x2="1413.5" y2="1523.5" stroke="#ececec" stroke-width="1" />
<line x1="46.0" y1="1507.5" x2="1413.5" y2="1507.5" stroke="#ececec" stroke-width="1" />
<line x1="46.0" y1="1491.5" x2="1413.5" y2="1491.5" stroke="#ececec" stroke-width="1" />
<line x1="46.0" y1="1476.5" x2="1413.5" y2="1476.5" stroke="#ececec" stroke-width="1" />
<line x1="46.0" y1="1460.5" x2="1413.5" y2="1460.5" stroke="#ececec" stroke-width="1" />
<line x1="46.0" y1="1444.5" x2="1413.5" y2="1444.5" stroke="#999" stroke-width="1" />
<line x1="46.0" y1="1429.5" x2="1413.5" y2="1429.5" stroke="#ececec" stroke-width="1" />
<line x1="46.0" y1="1413.5" x2="1413.5" y2="1413.5" stroke="#ececec" stroke-width="1" />
<line x1="46.0" y1="1398.5" x2="1413.5" y2="1398.5" stroke="#ececec" stroke-width="1" />
<line x1="46.0" y1="1382.5" x2="1413.5" y2="1382.5" stroke="#ececec" stroke-width="1" />
<rect x="46" y="117.5" width="1367.5" height="211.5" fill="none" stroke="#aaa" stroke-width="1"/>
<rect x="46" y="329" width="1367.5" height="605.5" fill="none" stroke="#aaa" stroke-width="1"/>
<rect x="46" y="951.7" width="1367.5" height="212.5" fill="none" stroke="#aaa" stroke-width="1"/>
<rect x="46" y="1164.3" width="1367.5" height="212.0" fill="none" stroke="#aaa" stroke-width="1"/>
<rect x="46" y="1376.7" width="1367.5" height="163.29999999999995" fill="none" stroke="#aaa" stroke-width="1"/>
<text x="1430.4" y="167.9" font-size="11.5" fill="#151515" text-anchor="end" textLength="13.5" lengthAdjust="spacingAndGlyphs">80</text>
<text x="1430.4" y="226.9" font-size="11.5" fill="#151515" text-anchor="end" textLength="13.5" lengthAdjust="spacingAndGlyphs">50</text>
<text x="1430.4" y="286.0" font-size="11.5" fill="#151515" text-anchor="end" textLength="13.5" lengthAdjust="spacingAndGlyphs">20</text>
<text x="1448.0" y="934.6" font-size="11.5" fill="#151515" text-anchor="end" textLength="23.1" lengthAdjust="spacingAndGlyphs">7.50</text>
<text x="1448.0" y="908.3" font-size="11.5" fill="#151515" text-anchor="end" textLength="23.1" lengthAdjust="spacingAndGlyphs">7.75</text>
<text x="1448.0" y="882.8" font-size="11.5" fill="#151515" text-anchor="end" textLength="23.1" lengthAdjust="spacingAndGlyphs">8.00</text>
<text x="1448.0" y="858.2" font-size="11.5" fill="#151515" text-anchor="end" textLength="23.1" lengthAdjust="spacingAndGlyphs">8.25</text>
<text x="1448.0" y="834.3" font-size="11.5" fill="#151515" text-anchor="end" textLength="23.1" lengthAdjust="spacingAndGlyphs">8.50</text>
<text x="1448.0" y="811.0" font-size="11.5" fill="#151515" text-anchor="end" textLength="23.1" lengthAdjust="spacingAndGlyphs">8.75</text>
<text x="1448.0" y="788.4" font-size="11.5" fill="#151515" text-anchor="end" textLength="23.1" lengthAdjust="spacingAndGlyphs">9.00</text>
<text x="1448.0" y="766.5" font-size="11.5" fill="#151515" text-anchor="end" textLength="23.1" lengthAdjust="spacingAndGlyphs">9.25</text>
<text x="1448.0" y="745.1" font-size="11.5" fill="#151515" text-anchor="end" textLength="23.1" lengthAdjust="spacingAndGlyphs">9.50</text>
<text x="1448.0" y="724.3" font-size="11.5" fill="#151515" text-anchor="end" textLength="23.1" lengthAdjust="spacingAndGlyphs">9.75</text>
<text x="1448.0" y="704.0" font-size="11.5" fill="#151515" text-anchor="end" textLength="29.9" lengthAdjust="spacingAndGlyphs">10.00</text>
<text x="1448.0" y="684.2" font-size="11.5" fill="#151515" text-anchor="end" textLength="29.9" lengthAdjust="spacingAndGlyphs">10.25</text>
<text x="1448.0" y="664.9" font-size="11.5" fill="#151515" text-anchor="end" textLength="29.9" lengthAdjust="spacingAndGlyphs">10.50</text>
<text x="1448.0" y="646.1" font-size="11.5" fill="#151515" text-anchor="end" textLength="29.9" lengthAdjust="spacingAndGlyphs">10.75</text>
<text x="1448.0" y="627.6" font-size="11.5" fill="#151515" text-anchor="end" textLength="29.9" lengthAdjust="spacingAndGlyphs">11.00</text>
<text x="1448.0" y="609.6" font-size="11.5" fill="#151515" text-anchor="end" textLength="29.9" lengthAdjust="spacingAndGlyphs">11.25</text>
<text x="1448.0" y="592.0" font-size="11.5" fill="#151515" text-anchor="end" textLength="29.9" lengthAdjust="spacingAndGlyphs">11.50</text>
<text x="1448.0" y="574.8" font-size="11.5" fill="#151515" text-anchor="end" textLength="29.9" lengthAdjust="spacingAndGlyphs">11.75</text>
<text x="1448.0" y="557.9" font-size="11.5" fill="#151515" text-anchor="end" textLength="29.9" lengthAdjust="spacingAndGlyphs">12.00</text>
<text x="1448.0" y="541.4" font-size="11.5" fill="#151515" text-anchor="end" textLength="29.9" lengthAdjust="spacingAndGlyphs">12.25</text>
<text x="1448.0" y="525.2" font-size="11.5" fill="#151515" text-anchor="end" textLength="29.9" lengthAdjust="spacingAndGlyphs">12.50</text>
<text x="1448.0" y="509.3" font-size="11.5" fill="#151515" text-anchor="end" textLength="29.9" lengthAdjust="spacingAndGlyphs">12.75</text>
<text x="1448.0" y="493.7" font-size="11.5" fill="#151515" text-anchor="end" textLength="29.9" lengthAdjust="spacingAndGlyphs">13.00</text>
<text x="1448.0" y="478.5" font-size="11.5" fill="#151515" text-anchor="end" textLength="29.9" lengthAdjust="spacingAndGlyphs">13.25</text>
<text x="1448.0" y="463.5" font-size="11.5" fill="#151515" text-anchor="end" textLength="29.9" lengthAdjust="spacingAndGlyphs">13.50</text>
<text x="1448.0" y="448.8" font-size="11.5" fill="#151515" text-anchor="end" textLength="29.9" lengthAdjust="spacingAndGlyphs">13.75</text>
<text x="1448.0" y="434.4" font-size="11.5" fill="#151515" text-anchor="end" textLength="29.9" lengthAdjust="spacingAndGlyphs">14.00</text>
<text x="1448.0" y="420.2" font-size="11.5" fill="#151515" text-anchor="end" textLength="29.9" lengthAdjust="spacingAndGlyphs">14.25</text>
<text x="1448.0" y="406.2" font-size="11.5" fill="#151515" text-anchor="end" textLength="29.9" lengthAdjust="spacingAndGlyphs">14.50</text>
<text x="1448.0" y="392.5" font-size="11.5" fill="#151515" text-anchor="end" textLength="29.9" lengthAdjust="spacingAndGlyphs">14.75</text>
<text x="1448.0" y="379.1" font-size="11.5" fill="#151515" text-anchor="end" textLength="29.9" lengthAdjust="spacingAndGlyphs">15.00</text>
<text x="1448.0" y="365.8" font-size="11.5" fill="#151515" text-anchor="end" textLength="29.9" lengthAdjust="spacingAndGlyphs">15.25</text>
<text x="1448.0" y="352.8" font-size="11.5" fill="#151515" text-anchor="end" textLength="29.9" lengthAdjust="spacingAndGlyphs">15.50</text>
<text x="1430.4" y="1140.4" font-size="11.5" fill="#151515" text-anchor="end" textLength="13.5" lengthAdjust="spacingAndGlyphs">10</text>
<text x="1430.4" y="1353.0" font-size="11.5" fill="#151515" text-anchor="end" textLength="13.5" lengthAdjust="spacingAndGlyphs">10</text>
<text x="1430.4" y="1101.1" font-size="11.5" fill="#151515" text-anchor="end" textLength="13.5" lengthAdjust="spacingAndGlyphs">30</text>
<text x="1430.4" y="1313.5" font-size="11.5" fill="#151515" text-anchor="end" textLength="13.5" lengthAdjust="spacingAndGlyphs">30</text>
<text x="1430.4" y="1061.9" font-size="11.5" fill="#151515" text-anchor="end" textLength="13.5" lengthAdjust="spacingAndGlyphs">50</text>
<text x="1430.4" y="1274.1" font-size="11.5" fill="#151515" text-anchor="end" textLength="13.5" lengthAdjust="spacingAndGlyphs">50</text>
<text x="1430.4" y="1022.6" font-size="11.5" fill="#151515" text-anchor="end" textLength="13.5" lengthAdjust="spacingAndGlyphs">70</text>
<text x="1430.4" y="1234.6" font-size="11.5" fill="#151515" text-anchor="end" textLength="13.5" lengthAdjust="spacingAndGlyphs">70</text>
<text x="1430.4" y="983.4" font-size="11.5" fill="#151515" text-anchor="end" textLength="13.5" lengthAdjust="spacingAndGlyphs">90</text>
<text x="1430.4" y="1195.2" font-size="11.5" fill="#151515" text-anchor="end" textLength="13.5" lengthAdjust="spacingAndGlyphs">90</text>
<text x="1437.8" y="1542.2" font-size="11.5" fill="#151515" text-anchor="end" textLength="20.7" lengthAdjust="spacingAndGlyphs">-0.6</text>
<text x="1437.8" y="1526.6" font-size="11.5" fill="#151515" text-anchor="end" textLength="20.7" lengthAdjust="spacingAndGlyphs">-0.5</text>
<text x="1437.8" y="1511.0" font-size="11.5" fill="#151515" text-anchor="end" textLength="20.7" lengthAdjust="spacingAndGlyphs">-0.4</text>
<text x="1437.8" y="1495.4" font-size="11.5" fill="#151515" text-anchor="end" textLength="20.7" lengthAdjust="spacingAndGlyphs">-0.3</text>
<text x="1437.8" y="1479.7" font-size="11.5" fill="#151515" text-anchor="end" textLength="20.7" lengthAdjust="spacingAndGlyphs">-0.2</text>
<text x="1437.8" y="1432.9" font-size="11.5" fill="#151515" text-anchor="end" textLength="16.4" lengthAdjust="spacingAndGlyphs">0.1</text>
<text x="1437.8" y="1417.3" font-size="11.5" fill="#151515" text-anchor="end" textLength="16.4" lengthAdjust="spacingAndGlyphs">0.2</text>
<text x="1437.8" y="1401.6" font-size="11.5" fill="#151515" text-anchor="end" textLength="16.4" lengthAdjust="spacingAndGlyphs">0.3</text>
<text x="1437.8" y="1386.0" font-size="11.5" fill="#151515" text-anchor="end" textLength="16.4" lengthAdjust="spacingAndGlyphs">0.4</text>
<text x="69.5" y="948" font-size="11.5" fill="#111" text-anchor="middle" textLength="13.4" lengthAdjust="spacingAndGlyphs">26</text>
<text x="98.5" y="948" font-size="12" fill="#111" font-weight="bold" text-anchor="middle" textLength="23" lengthAdjust="spacingAndGlyphs">Nov</text>
<text x="127.6" y="948" font-size="11.5" fill="#111" text-anchor="middle" textLength="6.7" lengthAdjust="spacingAndGlyphs">9</text>
<text x="156.6" y="948" font-size="11.5" fill="#111" text-anchor="middle" textLength="13.4" lengthAdjust="spacingAndGlyphs">16</text>
<text x="185.7" y="948" font-size="11.5" fill="#111" text-anchor="middle" textLength="13.4" lengthAdjust="spacingAndGlyphs">23</text>
<text x="214.7" y="948" font-size="12" fill="#111" font-weight="bold" text-anchor="middle" textLength="22" lengthAdjust="spacingAndGlyphs">Dec</text>
<text x="237.9" y="948" font-size="11.5" fill="#111" text-anchor="middle" textLength="6.7" lengthAdjust="spacingAndGlyphs">7</text>
<text x="267.0" y="948" font-size="11.5" fill="#111" text-anchor="middle" textLength="13.4" lengthAdjust="spacingAndGlyphs">14</text>
<text x="296.0" y="948" font-size="11.5" fill="#111" text-anchor="middle" textLength="13.4" lengthAdjust="spacingAndGlyphs">21</text>
<text x="319.2" y="948" font-size="11.5" fill="#111" text-anchor="middle" textLength="13.4" lengthAdjust="spacingAndGlyphs">28</text>
<text x="342.5" y="948" font-size="12" fill="#111" font-weight="bold" text-anchor="middle" textLength="27.5" lengthAdjust="spacingAndGlyphs">2016</text>
<text x="371.5" y="948" font-size="11.5" fill="#111" text-anchor="middle" textLength="13.4" lengthAdjust="spacingAndGlyphs">11</text>
<text x="400.5" y="948" font-size="11.5" fill="#111" text-anchor="middle" textLength="13.4" lengthAdjust="spacingAndGlyphs">19</text>
<text x="423.8" y="948" font-size="11.5" fill="#111" text-anchor="middle" textLength="13.4" lengthAdjust="spacingAndGlyphs">25</text>
<text x="452.8" y="948" font-size="12" fill="#111" font-weight="bold" text-anchor="middle" textLength="22.5" lengthAdjust="spacingAndGlyphs">Feb</text>
<text x="481.8" y="948" font-size="11.5" fill="#111" text-anchor="middle" textLength="6.7" lengthAdjust="spacingAndGlyphs">8</text>
<text x="510.9" y="948" font-size="11.5" fill="#111" text-anchor="middle" textLength="13.4" lengthAdjust="spacingAndGlyphs">16</text>
<text x="534.1" y="948" font-size="11.5" fill="#111" text-anchor="middle" textLength="13.4" lengthAdjust="spacingAndGlyphs">22</text>
<text x="568.9" y="948" font-size="12" fill="#111" font-weight="bold" text-anchor="middle" textLength="22.9" lengthAdjust="spacingAndGlyphs">Mar</text>
<text x="592.2" y="948" font-size="11.5" fill="#111" text-anchor="middle" textLength="6.7" lengthAdjust="spacingAndGlyphs">7</text>
<text x="621.2" y="948" font-size="11.5" fill="#111" text-anchor="middle" textLength="13.4" lengthAdjust="spacingAndGlyphs">14</text>
<text x="650.2" y="948" font-size="11.5" fill="#111" text-anchor="middle" textLength="13.4" lengthAdjust="spacingAndGlyphs">21</text>
<text x="673.5" y="948" font-size="11.5" fill="#111" text-anchor="middle" textLength="13.4" lengthAdjust="spacingAndGlyphs">28</text>
<text x="696.7" y="948" font-size="12" fill="#111" font-weight="bold" text-anchor="middle" textLength="22.5" lengthAdjust="spacingAndGlyphs">Apr</text>
<text x="731.6" y="948" font-size="11.5" fill="#111" text-anchor="middle" textLength="13.4" lengthAdjust="spacingAndGlyphs">11</text>
<text x="760.6" y="948" font-size="11.5" fill="#111" text-anchor="middle" textLength="13.4" lengthAdjust="spacingAndGlyphs">18</text>
<text x="789.6" y="948" font-size="11.5" fill="#111" text-anchor="middle" textLength="13.4" lengthAdjust="spacingAndGlyphs">25</text>
<text x="818.7" y="948" font-size="12" fill="#111" font-weight="bold" text-anchor="middle" textLength="25.4" lengthAdjust="spacingAndGlyphs">May</text>
<text x="847.7" y="948" font-size="11.5" fill="#111" text-anchor="middle" textLength="6.7" lengthAdjust="spacingAndGlyphs">9</text>
<text x="876.7" y="948" font-size="11.5" fill="#111" text-anchor="middle" textLength="13.4" lengthAdjust="spacingAndGlyphs">16</text>
<text x="905.8" y="948" font-size="11.5" fill="#111" text-anchor="middle" textLength="13.4" lengthAdjust="spacingAndGlyphs">23</text>
<text x="940.6" y="948" font-size="12" fill="#111" font-weight="bold" text-anchor="middle" textLength="22.4" lengthAdjust="spacingAndGlyphs">Jun</text>
<text x="958.0" y="948" font-size="11.5" fill="#111" text-anchor="middle" textLength="6.7" lengthAdjust="spacingAndGlyphs">6</text>
<text x="987.1" y="948" font-size="11.5" fill="#111" text-anchor="middle" textLength="13.4" lengthAdjust="spacingAndGlyphs">13</text>
<text x="1016.1" y="948" font-size="11.5" fill="#111" text-anchor="middle" textLength="13.4" lengthAdjust="spacingAndGlyphs">20</text>
<text x="1045.2" y="948" font-size="11.5" fill="#111" text-anchor="middle" textLength="13.4" lengthAdjust="spacingAndGlyphs">27</text>
<text x="1068.4" y="948" font-size="12" fill="#111" font-weight="bold" text-anchor="middle" textLength="17.5" lengthAdjust="spacingAndGlyphs">Jul</text>
<text x="1097.4" y="948" font-size="11.5" fill="#111" text-anchor="middle" textLength="13.4" lengthAdjust="spacingAndGlyphs">11</text>
<text x="1126.5" y="948" font-size="11.5" fill="#111" text-anchor="middle" textLength="13.4" lengthAdjust="spacingAndGlyphs">18</text>
<text x="1155.5" y="948" font-size="11.5" fill="#111" text-anchor="middle" textLength="13.4" lengthAdjust="spacingAndGlyphs">25</text>
<text x="1184.5" y="948" font-size="12" fill="#111" font-weight="bold" text-anchor="middle" textLength="25" lengthAdjust="spacingAndGlyphs">Aug</text>
<text x="1213.6" y="948" font-size="11.5" fill="#111" text-anchor="middle" textLength="6.7" lengthAdjust="spacingAndGlyphs">8</text>
<text x="1242.6" y="948" font-size="11.5" fill="#111" text-anchor="middle" textLength="13.4" lengthAdjust="spacingAndGlyphs">15</text>
<text x="1271.7" y="948" font-size="11.5" fill="#111" text-anchor="middle" textLength="13.4" lengthAdjust="spacingAndGlyphs">22</text>
<text x="1300.7" y="948" font-size="11.5" fill="#111" text-anchor="middle" textLength="13.4" lengthAdjust="spacingAndGlyphs">29</text>
<text x="1318.1" y="948" font-size="12" fill="#111" font-weight="bold" text-anchor="middle" textLength="23.75" lengthAdjust="spacingAndGlyphs">Sep</text>
<text x="1353.0" y="948" font-size="11.5" fill="#111" text-anchor="middle" textLength="13.4" lengthAdjust="spacingAndGlyphs">12</text>
<text x="1382.0" y="948" font-size="11.5" fill="#111" text-anchor="middle" textLength="13.4" lengthAdjust="spacingAndGlyphs">19</text>
<path d="M46.3,376.1V396.6" stroke="#c4164c" stroke-width="2.2"/>
<path d="M43.3,389.1H46.3M46.3,389.1H49.3" stroke="#c4164c" stroke-width="2"/>
<path d="M52.1,394.2V412.4" stroke="#c4164c" stroke-width="2.2"/>
<path d="M49.1,395.2H52.1M52.1,406.8H55.1" stroke="#c4164c" stroke-width="2"/>
<path d="M57.9,389.5V412.4" stroke="#000" stroke-width="2.2"/>
<path d="M54.9,406.8H57.9M57.9,401.8H60.9" stroke="#000" stroke-width="2"/>
<path d="M63.7,409.5V423.5" stroke="#c4164c" stroke-width="2.2"/>
<path d="M60.7,410.5H63.7M63.7,416.7H66.7" stroke="#c4164c" stroke-width="2"/>
<path d="M69.5,420.0V431.8" stroke="#c4164c" stroke-width="2.2"/>
<path d="M66.5,421.0H69.5M69.5,430.2H72.5" stroke="#c4164c" stroke-width="2"/>
<path d="M75.3,439.4V454.0" stroke="#c4164c" stroke-width="2.2"/>
<path d="M72.3,440.4H75.3M75.3,442.2H78.3" stroke="#c4164c" stroke-width="2"/>
<path d="M81.1,391.9V436.4" stroke="#000" stroke-width="2.2"/>
<path d="M78.1,435.4H81.1M81.1,392.5H84.1" stroke="#000" stroke-width="2"/>
<path d="M86.9,379.0V399.5" stroke="#c4164c" stroke-width="2.2"/>
<path d="M83.9,392.5H86.9M86.9,392.7H89.9" stroke="#c4164c" stroke-width="2"/>
<path d="M92.7,374.3V399.5" stroke="#000" stroke-width="2.2"/>
<path d="M89.7,392.7H92.7M92.7,387.0H95.7" stroke="#000" stroke-width="2"/>
<path d="M98.5,380.2V394.2" stroke="#c4164c" stroke-width="2.2"/>
<path d="M95.5,387.0H98.5M98.5,390.6H101.5" stroke="#c4164c" stroke-width="2"/>
<path d="M104.3,356.7V379.6" stroke="#000" stroke-width="2.2"/>
<path d="M101.3,378.6H104.3M104.3,360.9H107.3" stroke="#000" stroke-width="2"/>
<path d="M110.2,360.2V389.5" stroke="#c4164c" stroke-width="2.2"/>
<path d="M107.2,361.2H110.2M110.2,383.3H113.2" stroke="#c4164c" stroke-width="2"/>
<path d="M116.0,383.7V407.7" stroke="#c4164c" stroke-width="2.2"/>
<path d="M113.0,384.7H116.0M116.0,403.1H119.0" stroke="#c4164c" stroke-width="2"/>
<path d="M121.8,410.6V425.9" stroke="#c4164c" stroke-width="2.2"/>
<path d="M118.8,411.6H121.8M121.8,416.7H124.8" stroke="#c4164c" stroke-width="2"/>
<path d="M127.6,416.5V434.1" stroke="#c4164c" stroke-width="2.2"/>
<path d="M124.6,417.5H127.6M127.6,426.6H130.6" stroke="#c4164c" stroke-width="2"/>
<path d="M133.4,413.6V431.8" stroke="#000" stroke-width="2.2"/>
<path d="M130.4,426.6H133.4M133.4,423.0H136.4" stroke="#000" stroke-width="2"/>
<path d="M139.2,425.9V452.3" stroke="#c4164c" stroke-width="2.2"/>
<path d="M136.2,426.9H139.2M139.2,444.8H142.2" stroke="#c4164c" stroke-width="2"/>
<path d="M145.0,448.8V471.0" stroke="#c4164c" stroke-width="2.2"/>
<path d="M142.0,449.8H145.0M145.0,468.2H148.0" stroke="#c4164c" stroke-width="2"/>
<path d="M150.8,476.9V497.4" stroke="#c4164c" stroke-width="2.2"/>
<path d="M147.8,477.9H150.8M150.8,486.5H153.8" stroke="#c4164c" stroke-width="2"/>
<path d="M156.6,464.0V502.7" stroke="#000" stroke-width="2.2"/>
<path d="M153.6,486.5H156.6M156.6,466.7H159.6" stroke="#000" stroke-width="2"/>
<path d="M162.4,476.9V494.5" stroke="#c4164c" stroke-width="2.2"/>
<path d="M159.4,477.9H162.4M162.4,489.1H165.4" stroke="#c4164c" stroke-width="2"/>
<path d="M168.2,478.0V501.5" stroke="#000" stroke-width="2.2"/>
<path d="M165.2,489.1H168.2M168.2,486.5H171.2" stroke="#000" stroke-width="2"/>
<path d="M174.0,488.6V499.2" stroke="#c4164c" stroke-width="2.2"/>
<path d="M171.0,489.6H174.0M174.0,494.8H177.0" stroke="#c4164c" stroke-width="2"/>
<path d="M179.8,473.4V499.2" stroke="#c4164c" stroke-width="2.2"/>
<path d="M176.8,494.8H179.8M179.8,495.3H182.8" stroke="#c4164c" stroke-width="2"/>
<path d="M185.7,475.1V501.5" stroke="#000" stroke-width="2.2"/>
<path d="M182.7,495.3H185.7M185.7,490.1H188.7" stroke="#000" stroke-width="2"/>
<path d="M191.5,460.3V478.3" stroke="#000" stroke-width="2.2"/>
<path d="M188.5,477.3H191.5M191.5,469.3H194.5" stroke="#000" stroke-width="2"/>
<path d="M197.3,465.0V493.1" stroke="#000" stroke-width="2.2"/>
<path d="M194.3,469.3H197.3M197.3,466.7H200.3" stroke="#000" stroke-width="2"/>
<path d="M203.1,483.8V490.8" stroke="#c4164c" stroke-width="2.2"/>
<path d="M200.1,484.8H203.1M203.1,487.5H206.1" stroke="#c4164c" stroke-width="2"/>
<path d="M208.9,476.7V496.2" stroke="#c4164c" stroke-width="2.2"/>
<path d="M205.9,487.5H208.9M208.9,493.8H211.9" stroke="#c4164c" stroke-width="2"/>
<path d="M214.7,483.8V500.9" stroke="#000" stroke-width="2.2"/>
<path d="M211.7,493.8H214.7M214.7,491.0H217.7" stroke="#000" stroke-width="2"/>
<path d="M220.5,488.4V530.6" stroke="#c4164c" stroke-width="2.2"/>
<path d="M217.5,491.0H220.5M220.5,522.9H223.5" stroke="#c4164c" stroke-width="2"/>
<path d="M226.3,492.3V525.9" stroke="#000" stroke-width="2.2"/>
<path d="M223.3,522.9H226.3M226.3,505.2H229.3" stroke="#000" stroke-width="2"/>
<path d="M232.1,514.2V533.0" stroke="#c4164c" stroke-width="2.2"/>
<path d="M229.1,515.2H232.1M232.1,524.5H235.1" stroke="#c4164c" stroke-width="2"/>
<path d="M237.9,550.2V579.0" stroke="#c4164c" stroke-width="2.2"/>
<path d="M234.9,551.2H237.9M237.9,572.9H240.9" stroke="#c4164c" stroke-width="2"/>
<path d="M243.7,552.5V593.1" stroke="#c4164c" stroke-width="2.2"/>
<path d="M240.7,572.9H243.7M243.7,576.6H246.7" stroke="#c4164c" stroke-width="2"/>
<path d="M249.5,550.9V594.7" stroke="#c4164c" stroke-width="2.2"/>
<path d="M246.5,576.6H249.5M249.5,584.4H252.5" stroke="#c4164c" stroke-width="2"/>
<path d="M255.3,583.8V601.0" stroke="#c4164c" stroke-width="2.2"/>
<path d="M252.3,584.8H255.3M255.3,596.9H258.3" stroke="#c4164c" stroke-width="2"/>
<path d="M261.1,601.0V624.4" stroke="#c4164c" stroke-width="2.2"/>
<path d="M258.1,602.0H261.1M261.1,619.0H264.1" stroke="#c4164c" stroke-width="2"/>
<path d="M267.0,602.5V640.8" stroke="#000" stroke-width="2.2"/>
<path d="M264.0,619.0H267.0M267.0,612.7H270.0" stroke="#000" stroke-width="2"/>
<path d="M272.8,578.3V607.2" stroke="#000" stroke-width="2.2"/>
<path d="M269.8,606.2H272.8M272.8,597.1H275.8" stroke="#000" stroke-width="2"/>
<path d="M278.6,601.0V633.8" stroke="#c4164c" stroke-width="2.2"/>
<path d="M275.6,602.0H278.6M278.6,624.7H281.6" stroke="#c4164c" stroke-width="2"/>
<path d="M284.4,626.7V646.2" stroke="#c4164c" stroke-width="2.2"/>
<path d="M281.4,627.7H284.4M284.4,641.9H287.4" stroke="#c4164c" stroke-width="2"/>
<path d="M290.2,625.2V653.3" stroke="#c4164c" stroke-width="2.2"/>
<path d="M287.2,641.9H290.2M290.2,650.2H293.2" stroke="#c4164c" stroke-width="2"/>
<path d="M296.0,643.9V660.3" stroke="#000" stroke-width="2.2"/>
<path d="M293.0,650.2H296.0M296.0,649.2H299.0" stroke="#000" stroke-width="2"/>
<path d="M301.8,633.8V650.2" stroke="#000" stroke-width="2.2"/>
<path d="M298.8,649.2H301.8M301.8,641.9H304.8" stroke="#000" stroke-width="2"/>
<path d="M307.6,603.3V623.6" stroke="#000" stroke-width="2.2"/>
<path d="M304.6,622.6H307.6M307.6,605.4H310.6" stroke="#000" stroke-width="2"/>
<path d="M313.4,600.2V608.0" stroke="#000" stroke-width="2.2"/>
<path d="M310.4,605.4H313.4M313.4,603.3H316.4" stroke="#000" stroke-width="2"/>
<path d="M319.2,619.7V631.4" stroke="#c4164c" stroke-width="2.2"/>
<path d="M316.2,620.7H319.2M319.2,629.9H322.2" stroke="#c4164c" stroke-width="2"/>
<path d="M325.0,604.1V613.4" stroke="#000" stroke-width="2.2"/>
<path d="M322.0,612.4H325.0M325.0,606.5H328.0" stroke="#000" stroke-width="2"/>
<path d="M330.8,624.4V635.3" stroke="#c4164c" stroke-width="2.2"/>
<path d="M327.8,625.4H330.8M330.8,628.9H333.8" stroke="#c4164c" stroke-width="2"/>
<path d="M336.6,606.2V638.5" stroke="#000" stroke-width="2.2"/>
<path d="M333.6,628.9H336.6M336.6,624.7H339.6" stroke="#000" stroke-width="2"/>
<path d="M342.5,593.9V638.5" stroke="#c4164c" stroke-width="2.2"/>
<path d="M339.5,624.7H342.5M342.5,636.7H345.5" stroke="#c4164c" stroke-width="2"/>
<path d="M348.3,634.4V651.0" stroke="#c4164c" stroke-width="2.2"/>
<path d="M345.3,636.7H348.3M348.3,649.2H351.3" stroke="#c4164c" stroke-width="2"/>
<path d="M354.1,663.5V696.9" stroke="#c4164c" stroke-width="2.2"/>
<path d="M351.1,664.5H354.1M354.1,691.9H357.1" stroke="#c4164c" stroke-width="2"/>
<path d="M359.9,684.4V713.5" stroke="#c4164c" stroke-width="2.2"/>
<path d="M356.9,691.9H359.9M359.9,709.6H362.9" stroke="#c4164c" stroke-width="2"/>
<path d="M365.7,700.0V725.0" stroke="#c4164c" stroke-width="2.2"/>
<path d="M362.7,709.6H365.7M365.7,716.6H368.7" stroke="#c4164c" stroke-width="2"/>
<path d="M371.5,720.8V767.7" stroke="#c4164c" stroke-width="2.2"/>
<path d="M368.5,721.8H371.5M371.5,762.5H374.5" stroke="#c4164c" stroke-width="2"/>
<path d="M377.3,743.8V794.8" stroke="#c4164c" stroke-width="2.2"/>
<path d="M374.3,762.5H377.3M377.3,769.7H380.3" stroke="#c4164c" stroke-width="2"/>
<path d="M383.1,752.0V790.6" stroke="#c4164c" stroke-width="2.2"/>
<path d="M380.1,769.7H383.1M383.1,776.8H386.1" stroke="#c4164c" stroke-width="2"/>
<path d="M388.9,755.2V782.3" stroke="#000" stroke-width="2.2"/>
<path d="M385.9,776.8H388.9M388.9,766.4H391.9" stroke="#000" stroke-width="2"/>
<path d="M394.7,794.8V817.7" stroke="#c4164c" stroke-width="2.2"/>
<path d="M391.7,795.8H394.7M394.7,804.2H397.7" stroke="#c4164c" stroke-width="2"/>
<path d="M400.5,806.2V836.5" stroke="#c4164c" stroke-width="2.2"/>
<path d="M397.5,807.2H400.5M400.5,832.2H403.5" stroke="#c4164c" stroke-width="2"/>
<path d="M406.3,843.8V888.5" stroke="#c4164c" stroke-width="2.2"/>
<path d="M403.3,844.8H406.3M406.3,855.6H409.3" stroke="#c4164c" stroke-width="2"/>
<path d="M412.1,813.5V874.0" stroke="#000" stroke-width="2.2"/>
<path d="M409.1,855.6H412.1M412.1,827.0H415.1" stroke="#000" stroke-width="2"/>
<path d="M417.9,760.4V787.5" stroke="#000" stroke-width="2.2"/>
<path d="M414.9,786.5H417.9M417.9,763.2H420.9" stroke="#000" stroke-width="2"/>
<path d="M423.8,775.0V827.0" stroke="#c4164c" stroke-width="2.2"/>
<path d="M420.8,776.0H423.8M423.8,826.3H426.8" stroke="#c4164c" stroke-width="2"/>
<path d="M429.6,759.4V808.3" stroke="#000" stroke-width="2.2"/>
<path d="M426.6,807.3H429.6M429.6,789.2H432.6" stroke="#000" stroke-width="2"/>
<path d="M435.4,749.0V804.2" stroke="#000" stroke-width="2.2"/>
<path d="M432.4,789.2H435.4M435.4,770.3H438.4" stroke="#000" stroke-width="2"/>
<path d="M441.2,712.5V750.0" stroke="#000" stroke-width="2.2"/>
<path d="M438.2,749.0H441.2M441.2,724.1H444.2" stroke="#000" stroke-width="2"/>
<path d="M447.0,711.5V752.0" stroke="#c4164c" stroke-width="2.2"/>
<path d="M444.0,724.1H447.0M447.0,729.3H450.0" stroke="#c4164c" stroke-width="2"/>
<path d="M452.8,754.2V785.4" stroke="#c4164c" stroke-width="2.2"/>
<path d="M449.8,755.2H452.8M452.8,782.7H455.8" stroke="#c4164c" stroke-width="2"/>
<path d="M458.6,803.0V826.0" stroke="#c4164c" stroke-width="2.2"/>
<path d="M455.6,804.0H458.6M458.6,825.0H461.6" stroke="#c4164c" stroke-width="2"/>
<path d="M464.4,755.2V828.1" stroke="#000" stroke-width="2.2"/>
<path d="M461.4,825.0H464.4M464.4,756.0H467.4" stroke="#000" stroke-width="2"/>
<path d="M470.2,730.2V779.2" stroke="#c4164c" stroke-width="2.2"/>
<path d="M467.2,756.0H470.2M470.2,774.9H473.2" stroke="#c4164c" stroke-width="2"/>
<path d="M476.0,765.6V804.2" stroke="#c4164c" stroke-width="2.2"/>
<path d="M473.0,774.9H476.0M476.0,793.1H479.0" stroke="#c4164c" stroke-width="2"/>
<path d="M481.8,801.0V829.2" stroke="#c4164c" stroke-width="2.2"/>
<path d="M478.8,802.0H481.8M481.8,817.0H484.8" stroke="#c4164c" stroke-width="2"/>
<path d="M487.6,815.8V882.5" stroke="#c4164c" stroke-width="2.2"/>
<path d="M484.6,817.0H487.6M487.6,861.3H490.6" stroke="#c4164c" stroke-width="2"/>
<path d="M493.4,840.8V891.9" stroke="#c4164c" stroke-width="2.2"/>
<path d="M490.4,861.3H493.4M493.4,883.4H496.4" stroke="#c4164c" stroke-width="2"/>
<path d="M499.3,877.3V913.8" stroke="#000" stroke-width="2.2"/>
<path d="M496.3,883.4H499.3M499.3,881.5H502.3" stroke="#000" stroke-width="2"/>
<path d="M505.1,829.4V880.4" stroke="#000" stroke-width="2.2"/>
<path d="M502.1,879.4H505.1M505.1,848.3H508.1" stroke="#000" stroke-width="2"/>
<path d="M510.9,828.3V862.7" stroke="#c4164c" stroke-width="2.2"/>
<path d="M507.9,848.3H510.9M510.9,848.9H513.9" stroke="#c4164c" stroke-width="2"/>
<path d="M516.7,795.0V841.9" stroke="#000" stroke-width="2.2"/>
<path d="M513.7,840.9H516.7M516.7,805.3H519.7" stroke="#000" stroke-width="2"/>
<path d="M522.5,779.4V816.9" stroke="#c4164c" stroke-width="2.2"/>
<path d="M519.5,805.3H522.5M522.5,816.4H525.5" stroke="#c4164c" stroke-width="2"/>
<path d="M528.3,822.0V846.0" stroke="#c4164c" stroke-width="2.2"/>
<path d="M525.3,823.0H528.3M528.3,826.1H531.3" stroke="#c4164c" stroke-width="2"/>
<path d="M534.1,784.6V800.2" stroke="#000" stroke-width="2.2"/>
<path d="M531.1,799.2H534.1M534.1,794.2H537.1" stroke="#000" stroke-width="2"/>
<path d="M539.9,807.5V836.7" stroke="#c4164c" stroke-width="2.2"/>
<path d="M536.9,808.5H539.9M539.9,832.0H542.9" stroke="#c4164c" stroke-width="2"/>
<path d="M545.7,819.0V865.8" stroke="#000" stroke-width="2.2"/>
<path d="M542.7,832.0H545.7M545.7,822.9H548.7" stroke="#000" stroke-width="2"/>
<path d="M551.5,793.0V853.3" stroke="#000" stroke-width="2.2"/>
<path d="M548.5,822.9H551.5M551.5,800.0H554.5" stroke="#000" stroke-width="2"/>
<path d="M557.3,772.0V811.7" stroke="#c4164c" stroke-width="2.2"/>
<path d="M554.3,800.0H557.3M557.3,804.6H560.3" stroke="#c4164c" stroke-width="2"/>
<path d="M563.1,782.5V805.4" stroke="#000" stroke-width="2.2"/>
<path d="M560.1,804.4H563.1M563.1,797.5H566.1" stroke="#000" stroke-width="2"/>
<path d="M568.9,763.8V795.0" stroke="#000" stroke-width="2.2"/>
<path d="M565.9,794.0H568.9M568.9,772.7H571.9" stroke="#000" stroke-width="2"/>
<path d="M574.8,754.4V790.8" stroke="#000" stroke-width="2.2"/>
<path d="M571.8,772.7H574.8M574.8,759.0H577.8" stroke="#000" stroke-width="2"/>
<path d="M580.6,749.2V776.2" stroke="#c4164c" stroke-width="2.2"/>
<path d="M577.6,759.0H580.6M580.6,763.6H583.6" stroke="#c4164c" stroke-width="2"/>
<path d="M586.4,729.4V769.0" stroke="#000" stroke-width="2.2"/>
<path d="M583.4,763.6H586.4M586.4,730.9H589.4" stroke="#000" stroke-width="2"/>
<path d="M592.2,689.8V727.3" stroke="#000" stroke-width="2.2"/>
<path d="M589.2,726.3H592.2M592.2,693.3H595.2" stroke="#000" stroke-width="2"/>
<path d="M598.0,697.0V730.4" stroke="#c4164c" stroke-width="2.2"/>
<path d="M595.0,698.0H598.0M598.0,729.3H601.0" stroke="#c4164c" stroke-width="2"/>
<path d="M603.8,684.6V713.8" stroke="#000" stroke-width="2.2"/>
<path d="M600.8,712.8H603.8M603.8,689.4H606.8" stroke="#000" stroke-width="2"/>
<path d="M609.6,690.8V711.7" stroke="#c4164c" stroke-width="2.2"/>
<path d="M606.6,691.8H609.6M609.6,697.7H612.6" stroke="#c4164c" stroke-width="2"/>
<path d="M615.4,677.3V697.0" stroke="#000" stroke-width="2.2"/>
<path d="M612.4,696.0H615.4M615.4,685.0H618.4" stroke="#000" stroke-width="2"/>
<path d="M621.2,706.5V722.0" stroke="#c4164c" stroke-width="2.2"/>
<path d="M618.2,707.5H621.2M621.2,711.0H624.2" stroke="#c4164c" stroke-width="2"/>
<path d="M627.0,722.0V734.6" stroke="#c4164c" stroke-width="2.2"/>
<path d="M624.0,723.0H627.0M627.0,725.4H630.0" stroke="#c4164c" stroke-width="2"/>
<path d="M632.8,685.6V708.5" stroke="#000" stroke-width="2.2"/>
<path d="M629.8,707.5H632.8M632.8,687.8H635.8" stroke="#000" stroke-width="2"/>
<path d="M638.6,654.4V677.3" stroke="#000" stroke-width="2.2"/>
<path d="M635.6,676.3H638.6M638.6,658.4H641.6" stroke="#000" stroke-width="2"/>
<path d="M644.4,638.7V667.5" stroke="#c4164c" stroke-width="2.2"/>
<path d="M641.4,658.4H644.4M644.4,664.0H647.4" stroke="#c4164c" stroke-width="2"/>
<path d="M650.2,653.1V673.4" stroke="#000" stroke-width="2.2"/>
<path d="M647.2,664.0H650.2M650.2,656.8H653.2" stroke="#000" stroke-width="2"/>
<path d="M656.1,651.4V670.9" stroke="#c4164c" stroke-width="2.2"/>
<path d="M653.1,656.8H656.1M656.1,660.1H659.1" stroke="#c4164c" stroke-width="2"/>
<path d="M661.9,671.8V695.5" stroke="#c4164c" stroke-width="2.2"/>
<path d="M658.9,672.8H661.9M661.9,691.6H664.9" stroke="#c4164c" stroke-width="2"/>
<path d="M667.7,692.9V721.7" stroke="#c4164c" stroke-width="2.2"/>
<path d="M664.7,693.9H667.7M667.7,695.0H670.7" stroke="#c4164c" stroke-width="2"/>
<path d="M673.5,695.5V711.5" stroke="#c4164c" stroke-width="2.2"/>
<path d="M670.5,696.5H673.5M673.5,697.7H676.5" stroke="#c4164c" stroke-width="2"/>
<path d="M679.3,716.6V731.9" stroke="#c4164c" stroke-width="2.2"/>
<path d="M676.3,717.6H679.3M679.3,717.6H682.3" stroke="#c4164c" stroke-width="2"/>
<path d="M685.1,690.4V726.0" stroke="#c4164c" stroke-width="2.2"/>
<path d="M682.1,717.6H685.1M685.1,722.1H688.1" stroke="#c4164c" stroke-width="2"/>
<path d="M690.9,707.3V727.6" stroke="#c4164c" stroke-width="2.2"/>
<path d="M687.9,722.1H690.9M690.9,726.0H693.9" stroke="#c4164c" stroke-width="2"/>
<path d="M696.7,746.2V759.0" stroke="#c4164c" stroke-width="2.2"/>
<path d="M693.7,747.2H696.7M696.7,755.3H699.7" stroke="#c4164c" stroke-width="2"/>
<path d="M702.5,746.2V781.8" stroke="#c4164c" stroke-width="2.2"/>
<path d="M699.5,755.3H702.5M702.5,778.0H705.5" stroke="#c4164c" stroke-width="2"/>
<path d="M708.3,769.1V787.7" stroke="#000" stroke-width="2.2"/>
<path d="M705.3,778.0H708.3M708.3,774.6H711.3" stroke="#000" stroke-width="2"/>
<path d="M714.1,731.0V758.1" stroke="#000" stroke-width="2.2"/>
<path d="M711.1,757.1H714.1M714.1,733.0H717.1" stroke="#000" stroke-width="2"/>
<path d="M719.9,737.8V757.2" stroke="#c4164c" stroke-width="2.2"/>
<path d="M716.9,738.8H719.9M719.9,742.7H722.9" stroke="#c4164c" stroke-width="2"/>
<path d="M725.7,692.9V707.3" stroke="#000" stroke-width="2.2"/>
<path d="M722.7,706.3H725.7M725.7,698.8H728.7" stroke="#000" stroke-width="2"/>
<path d="M731.6,674.3V689.5" stroke="#000" stroke-width="2.2"/>
<path d="M728.6,688.5H731.6M731.6,679.0H734.6" stroke="#000" stroke-width="2"/>
<path d="M737.4,644.7V676.8" stroke="#000" stroke-width="2.2"/>
<path d="M734.4,675.8H737.4M737.4,651.2H740.4" stroke="#000" stroke-width="2"/>
<path d="M743.2,643.8V659.9" stroke="#c4164c" stroke-width="2.2"/>
<path d="M740.2,651.2H743.2M743.2,659.9H746.2" stroke="#c4164c" stroke-width="2"/>
<path d="M749.0,651.4V668.4" stroke="#c4164c" stroke-width="2.2"/>
<path d="M746.0,659.9H749.0M749.0,663.6H752.0" stroke="#c4164c" stroke-width="2"/>
<path d="M754.8,676.0V690.4" stroke="#c4164c" stroke-width="2.2"/>
<path d="M751.8,677.0H754.8M754.8,679.7H757.8" stroke="#c4164c" stroke-width="2"/>
<path d="M760.6,681.9V719.2" stroke="#c4164c" stroke-width="2.2"/>
<path d="M757.6,682.9H760.6M760.6,688.9H763.6" stroke="#c4164c" stroke-width="2"/>
<path d="M766.4,659.0V683.6" stroke="#000" stroke-width="2.2"/>
<path d="M763.4,682.6H766.4M766.4,666.7H769.4" stroke="#000" stroke-width="2"/>
<path d="M772.2,633.6V684.5" stroke="#000" stroke-width="2.2"/>
<path d="M769.2,666.7H772.2M772.2,643.2H775.2" stroke="#000" stroke-width="2"/>
<path d="M778.0,637.9V655.7" stroke="#c4164c" stroke-width="2.2"/>
<path d="M775.0,643.2H778.0M778.0,645.6H781.0" stroke="#c4164c" stroke-width="2"/>
<path d="M783.8,630.3V647.2" stroke="#000" stroke-width="2.2"/>
<path d="M780.8,645.6H783.8M783.8,641.9H786.8" stroke="#000" stroke-width="2"/>
<path d="M789.6,638.7V664.1" stroke="#c4164c" stroke-width="2.2"/>
<path d="M786.6,641.9H789.6M789.6,657.4H792.6" stroke="#c4164c" stroke-width="2"/>
<path d="M795.4,634.6V653.0" stroke="#000" stroke-width="2.2"/>
<path d="M792.4,652.0H795.4M795.4,638.9H798.4" stroke="#000" stroke-width="2"/>
<path d="M801.2,609.3V643.2" stroke="#000" stroke-width="2.2"/>
<path d="M798.2,638.9H801.2M801.2,614.1H804.2" stroke="#000" stroke-width="2"/>
<path d="M807.1,600.2V617.2" stroke="#000" stroke-width="2.2"/>
<path d="M804.1,614.1H807.1M807.1,609.2H810.1" stroke="#000" stroke-width="2"/>
<path d="M812.9,589.2V615.9" stroke="#000" stroke-width="2.2"/>
<path d="M809.9,609.2H812.9M812.9,602.4H815.9" stroke="#000" stroke-width="2"/>
<path d="M818.7,606.1V627.6" stroke="#c4164c" stroke-width="2.2"/>
<path d="M815.7,607.1H818.7M818.7,620.2H821.7" stroke="#c4164c" stroke-width="2"/>
<path d="M824.5,634.7V649.7" stroke="#c4164c" stroke-width="2.2"/>
<path d="M821.5,635.7H824.5M824.5,643.5H827.5" stroke="#c4164c" stroke-width="2"/>
<path d="M830.3,621.7V652.3" stroke="#000" stroke-width="2.2"/>
<path d="M827.3,643.5H830.3M830.3,639.8H833.3" stroke="#000" stroke-width="2"/>
<path d="M836.1,606.7V638.0" stroke="#000" stroke-width="2.2"/>
<path d="M833.1,637.0H836.1M836.1,632.1H839.1" stroke="#000" stroke-width="2"/>
<path d="M841.9,613.2V639.9" stroke="#000" stroke-width="2.2"/>
<path d="M838.9,632.1H841.9M841.9,628.5H844.9" stroke="#000" stroke-width="2"/>
<path d="M847.7,630.8V651.0" stroke="#c4164c" stroke-width="2.2"/>
<path d="M844.7,631.8H847.7M847.7,648.5H850.7" stroke="#c4164c" stroke-width="2"/>
<path d="M853.5,622.4V645.1" stroke="#000" stroke-width="2.2"/>
<path d="M850.5,644.1H853.5M853.5,626.2H856.5" stroke="#000" stroke-width="2"/>
<path d="M859.3,593.7V636.0" stroke="#000" stroke-width="2.2"/>
<path d="M856.3,626.2H859.3M859.3,600.2H862.3" stroke="#000" stroke-width="2"/>
<path d="M865.1,586.6V609.3" stroke="#000" stroke-width="2.2"/>
<path d="M862.1,600.2H865.1M865.1,592.9H868.1" stroke="#000" stroke-width="2"/>
<path d="M870.9,593.7V606.1" stroke="#c4164c" stroke-width="2.2"/>
<path d="M867.9,594.7H870.9M870.9,598.4H873.9" stroke="#c4164c" stroke-width="2"/>
<path d="M876.7,567.7V580.0" stroke="#000" stroke-width="2.2"/>
<path d="M873.7,579.0H876.7M876.7,571.5H879.7" stroke="#000" stroke-width="2"/>
<path d="M882.6,559.2V574.9" stroke="#000" stroke-width="2.2"/>
<path d="M879.6,571.5H882.6M882.6,560.5H885.6" stroke="#000" stroke-width="2"/>
<path d="M888.4,554.7V575.5" stroke="#c4164c" stroke-width="2.2"/>
<path d="M885.4,560.5H888.4M888.4,574.7H891.4" stroke="#c4164c" stroke-width="2"/>
<path d="M894.2,568.3V593.1" stroke="#000" stroke-width="2.2"/>
<path d="M891.2,574.7H894.2M894.2,569.2H897.2" stroke="#000" stroke-width="2"/>
<path d="M900.0,563.8V581.4" stroke="#c4164c" stroke-width="2.2"/>
<path d="M897.0,569.2H900.0M900.0,572.0H903.0" stroke="#c4164c" stroke-width="2"/>
<path d="M905.8,575.5V589.2" stroke="#c4164c" stroke-width="2.2"/>
<path d="M902.8,576.5H905.8M905.8,579.2H908.8" stroke="#c4164c" stroke-width="2"/>
<path d="M911.6,565.1V578.1" stroke="#000" stroke-width="2.2"/>
<path d="M908.6,577.1H911.6M911.6,567.4H914.6" stroke="#000" stroke-width="2"/>
<path d="M917.4,550.8V569.0" stroke="#000" stroke-width="2.2"/>
<path d="M914.4,567.4H917.4M917.4,552.3H920.4" stroke="#000" stroke-width="2"/>
<path d="M923.2,546.2V559.9" stroke="#c4164c" stroke-width="2.2"/>
<path d="M920.2,552.3H923.2M923.2,557.3H926.2" stroke="#c4164c" stroke-width="2"/>
<path d="M929.0,555.3V568.3" stroke="#000" stroke-width="2.2"/>
<path d="M926.0,557.3H929.0M929.0,556.4H932.0" stroke="#000" stroke-width="2"/>
<path d="M934.8,546.2V567.0" stroke="#c4164c" stroke-width="2.2"/>
<path d="M931.8,556.4H934.8M934.8,564.2H937.8" stroke="#c4164c" stroke-width="2"/>
<path d="M940.6,559.2V585.3" stroke="#000" stroke-width="2.2"/>
<path d="M937.6,564.2H940.6M940.6,560.1H943.6" stroke="#000" stroke-width="2"/>
<path d="M946.4,556.6V578.8" stroke="#c4164c" stroke-width="2.2"/>
<path d="M943.4,560.1H946.4M946.4,563.7H949.4" stroke="#c4164c" stroke-width="2"/>
<path d="M952.2,563.1V575.5" stroke="#c4164c" stroke-width="2.2"/>
<path d="M949.2,564.1H952.2M952.2,567.0H955.2" stroke="#c4164c" stroke-width="2"/>
<path d="M958.0,550.1V561.2" stroke="#000" stroke-width="2.2"/>
<path d="M955.0,560.2H958.0M958.0,552.4H961.0" stroke="#000" stroke-width="2"/>
<path d="M963.9,538.4V550.1" stroke="#000" stroke-width="2.2"/>
<path d="M960.9,549.1H963.9M963.9,541.4H966.9" stroke="#000" stroke-width="2"/>
<path d="M969.7,525.4V536.4" stroke="#000" stroke-width="2.2"/>
<path d="M966.7,535.4H969.7M969.7,526.9H972.7" stroke="#000" stroke-width="2"/>
<path d="M975.5,533.2V541.7" stroke="#c4164c" stroke-width="2.2"/>
<path d="M972.5,534.2H975.5M975.5,539.2H978.5" stroke="#c4164c" stroke-width="2"/>
<path d="M981.3,547.5V566.4" stroke="#c4164c" stroke-width="2.2"/>
<path d="M978.3,548.5H981.3M981.3,563.3H984.3" stroke="#c4164c" stroke-width="2"/>
<path d="M987.1,559.2V574.9" stroke="#c4164c" stroke-width="2.2"/>
<path d="M984.1,563.3H987.1M987.1,569.7H990.1" stroke="#c4164c" stroke-width="2"/>
<path d="M992.9,568.3V577.5" stroke="#c4164c" stroke-width="2.2"/>
<path d="M989.9,569.7H992.9M992.9,572.4H995.9" stroke="#c4164c" stroke-width="2"/>
<path d="M998.7,569.6V593.7" stroke="#c4164c" stroke-width="2.2"/>
<path d="M995.7,572.4H998.7M998.7,590.2H1001.7" stroke="#c4164c" stroke-width="2"/>
<path d="M1004.5,595.0V615.9" stroke="#c4164c" stroke-width="2.2"/>
<path d="M1001.5,596.0H1004.5M1004.5,614.4H1007.5" stroke="#c4164c" stroke-width="2"/>
<path d="M1010.3,576.8V596.3" stroke="#000" stroke-width="2.2"/>
<path d="M1007.3,595.3H1010.3M1010.3,577.9H1013.3" stroke="#000" stroke-width="2"/>
<path d="M1016.1,557.3V570.9" stroke="#000" stroke-width="2.2"/>
<path d="M1013.1,569.9H1016.1M1016.1,560.1H1019.1" stroke="#000" stroke-width="2"/>
<path d="M1021.9,559.2V575.5" stroke="#c4164c" stroke-width="2.2"/>
<path d="M1018.9,560.2H1021.9M1021.9,569.7H1024.9" stroke="#c4164c" stroke-width="2"/>
<path d="M1027.7,552.1V584.0" stroke="#c4164c" stroke-width="2.2"/>
<path d="M1024.7,569.7H1027.7M1027.7,572.0H1030.7" stroke="#c4164c" stroke-width="2"/>
<path d="M1033.5,554.7V570.3" stroke="#000" stroke-width="2.2"/>
<path d="M1030.5,569.3H1033.5M1033.5,556.5H1036.5" stroke="#000" stroke-width="2"/>
<path d="M1039.4,583.3V598.9" stroke="#c4164c" stroke-width="2.2"/>
<path d="M1036.4,584.3H1039.4M1039.4,597.0H1042.4" stroke="#c4164c" stroke-width="2"/>
<path d="M1045.2,609.3V628.2" stroke="#c4164c" stroke-width="2.2"/>
<path d="M1042.2,610.3H1045.2M1045.2,609.8H1048.2" stroke="#c4164c" stroke-width="2"/>
<path d="M1051.0,589.8V610.6" stroke="#000" stroke-width="2.2"/>
<path d="M1048.0,609.6H1051.0M1051.0,591.1H1054.0" stroke="#000" stroke-width="2"/>
<path d="M1056.8,556.6V589.8" stroke="#000" stroke-width="2.2"/>
<path d="M1053.8,588.8H1056.8M1056.8,569.2H1059.8" stroke="#000" stroke-width="2"/>
<path d="M1062.6,568.3V587.2" stroke="#c4164c" stroke-width="2.2"/>
<path d="M1059.6,569.3H1062.6M1062.6,582.5H1065.6" stroke="#c4164c" stroke-width="2"/>
<path d="M1068.4,569.6V589.2" stroke="#000" stroke-width="2.2"/>
<path d="M1065.4,582.5H1068.4M1068.4,570.2H1071.4" stroke="#000" stroke-width="2"/>
<path d="M1074.2,597.0V617.8" stroke="#c4164c" stroke-width="2.2"/>
<path d="M1071.2,598.0H1074.2M1074.2,610.5H1077.2" stroke="#c4164c" stroke-width="2"/>
<path d="M1080.0,595.0V624.3" stroke="#000" stroke-width="2.2"/>
<path d="M1077.0,610.5H1080.0M1080.0,601.7H1083.0" stroke="#000" stroke-width="2"/>
<path d="M1085.8,585.9V643.8" stroke="#c4164c" stroke-width="2.2"/>
<path d="M1082.8,601.7H1085.8M1085.8,637.5H1088.8" stroke="#c4164c" stroke-width="2"/>
<path d="M1091.6,627.6V646.4" stroke="#000" stroke-width="2.2"/>
<path d="M1088.6,637.5H1091.6M1091.6,636.2H1094.6" stroke="#000" stroke-width="2"/>
<path d="M1097.4,627.6V651.0" stroke="#c4164c" stroke-width="2.2"/>
<path d="M1094.4,636.2H1097.4M1097.4,650.5H1100.4" stroke="#c4164c" stroke-width="2"/>
<path d="M1103.2,606.1V631.9" stroke="#000" stroke-width="2.2"/>
<path d="M1100.2,630.9H1103.2M1103.2,609.5H1106.2" stroke="#000" stroke-width="2"/>
<path d="M1109.0,613.1V651.4" stroke="#c4164c" stroke-width="2.2"/>
<path d="M1106.0,614.1H1109.0M1109.0,642.7H1112.0" stroke="#c4164c" stroke-width="2"/>
<path d="M1114.8,627.2V642.8" stroke="#000" stroke-width="2.2"/>
<path d="M1111.8,641.8H1114.8M1114.8,632.6H1117.8" stroke="#000" stroke-width="2"/>
<path d="M1120.7,618.6V631.9" stroke="#000" stroke-width="2.2"/>
<path d="M1117.7,630.9H1120.7M1120.7,624.5H1123.7" stroke="#000" stroke-width="2"/>
<path d="M1126.5,633.4V644.4" stroke="#c4164c" stroke-width="2.2"/>
<path d="M1123.5,634.4H1126.5M1126.5,640.1H1129.5" stroke="#c4164c" stroke-width="2"/>
<path d="M1132.3,639.7V648.3" stroke="#c4164c" stroke-width="2.2"/>
<path d="M1129.3,640.7H1132.3M1132.3,646.0H1135.3" stroke="#c4164c" stroke-width="2"/>
<path d="M1138.1,635.8V661.6" stroke="#000" stroke-width="2.2"/>
<path d="M1135.1,646.0H1138.1M1138.1,644.0H1141.1" stroke="#000" stroke-width="2"/>
<path d="M1143.9,642.8V662.3" stroke="#c4164c" stroke-width="2.2"/>
<path d="M1140.9,644.0H1143.9M1143.9,661.0H1146.9" stroke="#c4164c" stroke-width="2"/>
<path d="M1149.7,661.6V678.0" stroke="#c4164c" stroke-width="2.2"/>
<path d="M1146.7,662.6H1149.7M1149.7,667.4H1152.7" stroke="#c4164c" stroke-width="2"/>
<path d="M1155.5,682.7V692.0" stroke="#c4164c" stroke-width="2.2"/>
<path d="M1152.5,683.7H1155.5M1155.5,689.6H1158.5" stroke="#c4164c" stroke-width="2"/>
<path d="M1161.3,688.1V699.8" stroke="#c4164c" stroke-width="2.2"/>
<path d="M1158.3,689.6H1161.3M1161.3,692.8H1164.3" stroke="#c4164c" stroke-width="2"/>
<path d="M1167.1,688.1V716.2" stroke="#c4164c" stroke-width="2.2"/>
<path d="M1164.1,692.8H1167.1M1167.1,708.5H1170.1" stroke="#c4164c" stroke-width="2"/>
<path d="M1172.9,709.2V728.8" stroke="#c4164c" stroke-width="2.2"/>
<path d="M1169.9,710.2H1172.9M1172.9,727.3H1175.9" stroke="#c4164c" stroke-width="2"/>
<path d="M1178.7,716.2V738.1" stroke="#000" stroke-width="2.2"/>
<path d="M1175.7,727.3H1178.7M1178.7,721.5H1181.7" stroke="#000" stroke-width="2"/>
<path d="M1184.5,729.5V751.4" stroke="#c4164c" stroke-width="2.2"/>
<path d="M1181.5,730.5H1184.5M1184.5,749.5H1187.5" stroke="#c4164c" stroke-width="2"/>
<path d="M1190.3,731.1V763.9" stroke="#c4164c" stroke-width="2.2"/>
<path d="M1187.3,749.5H1190.3M1190.3,759.9H1193.3" stroke="#c4164c" stroke-width="2"/>
<path d="M1196.2,726.4V763.9" stroke="#000" stroke-width="2.2"/>
<path d="M1193.2,759.9H1196.2M1196.2,726.7H1199.2" stroke="#000" stroke-width="2"/>
<path d="M1202.0,707.7V738.9" stroke="#000" stroke-width="2.2"/>
<path d="M1199.0,726.7H1202.0M1202.0,714.3H1205.0" stroke="#000" stroke-width="2"/>
<path d="M1207.8,711.6V728.8" stroke="#000" stroke-width="2.2"/>
<path d="M1204.8,714.3H1207.8M1207.8,713.0H1210.8" stroke="#000" stroke-width="2"/>
<path d="M1213.6,685.0V699.1" stroke="#000" stroke-width="2.2"/>
<path d="M1210.6,698.1H1213.6M1213.6,692.9H1216.6" stroke="#000" stroke-width="2"/>
<path d="M1219.4,681.9V699.8" stroke="#c4164c" stroke-width="2.2"/>
<path d="M1216.4,692.9H1219.4M1219.4,693.4H1222.4" stroke="#c4164c" stroke-width="2"/>
<path d="M1225.2,685.0V721.7" stroke="#c4164c" stroke-width="2.2"/>
<path d="M1222.2,693.4H1225.2M1225.2,718.3H1228.2" stroke="#c4164c" stroke-width="2"/>
<path d="M1231.0,675.6V712.3" stroke="#000" stroke-width="2.2"/>
<path d="M1228.0,711.3H1231.0M1231.0,685.1H1234.0" stroke="#000" stroke-width="2"/>
<path d="M1236.8,661.6V680.3" stroke="#000" stroke-width="2.2"/>
<path d="M1233.8,679.3H1236.8M1236.8,662.1H1239.8" stroke="#000" stroke-width="2"/>
<path d="M1242.6,640.5V657.7" stroke="#000" stroke-width="2.2"/>
<path d="M1239.6,656.7H1242.6M1242.6,642.6H1245.6" stroke="#000" stroke-width="2"/>
<path d="M1248.4,626.4V646.7" stroke="#000" stroke-width="2.2"/>
<path d="M1245.4,642.6H1248.4M1248.4,630.9H1251.4" stroke="#000" stroke-width="2"/>
<path d="M1254.2,623.8V643.3" stroke="#000" stroke-width="2.2"/>
<path d="M1251.2,630.9H1254.2M1254.2,626.0H1257.2" stroke="#000" stroke-width="2"/>
<path d="M1260.0,599.7V616.0" stroke="#000" stroke-width="2.2"/>
<path d="M1257.0,615.0H1260.0M1260.0,603.5H1263.0" stroke="#000" stroke-width="2"/>
<path d="M1265.8,597.8V608.2" stroke="#000" stroke-width="2.2"/>
<path d="M1262.8,603.5H1265.8M1265.8,599.2H1268.8" stroke="#000" stroke-width="2"/>
<path d="M1271.7,616.0V627.7" stroke="#c4164c" stroke-width="2.2"/>
<path d="M1268.7,617.0H1271.7M1271.7,624.5H1274.7" stroke="#c4164c" stroke-width="2"/>
<path d="M1277.5,611.4V640.0" stroke="#000" stroke-width="2.2"/>
<path d="M1274.5,624.5H1277.5M1277.5,618.7H1280.5" stroke="#000" stroke-width="2"/>
<path d="M1283.3,621.8V644.0" stroke="#c4164c" stroke-width="2.2"/>
<path d="M1280.3,622.8H1283.3M1283.3,637.7H1286.3" stroke="#c4164c" stroke-width="2"/>
<path d="M1289.1,627.0V642.7" stroke="#000" stroke-width="2.2"/>
<path d="M1286.1,637.7H1289.1M1289.1,627.0H1292.1" stroke="#000" stroke-width="2"/>
<path d="M1294.9,608.8V635.5" stroke="#000" stroke-width="2.2"/>
<path d="M1291.9,627.0H1294.9M1294.9,626.5H1297.9" stroke="#000" stroke-width="2"/>
<path d="M1300.7,629.0V639.4" stroke="#c4164c" stroke-width="2.2"/>
<path d="M1297.7,630.0H1300.7M1300.7,635.8H1303.7" stroke="#c4164c" stroke-width="2"/>
<path d="M1306.5,626.4V647.2" stroke="#c4164c" stroke-width="2.2"/>
<path d="M1303.5,635.8H1306.5M1306.5,643.6H1309.5" stroke="#c4164c" stroke-width="2"/>
<path d="M1312.3,649.8V677.8" stroke="#c4164c" stroke-width="2.2"/>
<path d="M1309.3,650.8H1312.3M1312.3,672.4H1315.3" stroke="#c4164c" stroke-width="2"/>
<path d="M1318.1,680.4V705.8" stroke="#c4164c" stroke-width="2.2"/>
<path d="M1315.1,681.4H1318.1M1318.1,695.8H1321.1" stroke="#c4164c" stroke-width="2"/>
<path d="M1323.9,674.5V689.5" stroke="#000" stroke-width="2.2"/>
<path d="M1320.9,688.5H1323.9M1323.9,684.0H1326.9" stroke="#000" stroke-width="2"/>
<path d="M1329.7,668.7V688.2" stroke="#000" stroke-width="2.2"/>
<path d="M1326.7,684.0H1329.7M1329.7,669.9H1332.7" stroke="#000" stroke-width="2"/>
<path d="M1335.5,659.6V676.5" stroke="#000" stroke-width="2.2"/>
<path d="M1332.5,669.9H1335.5M1335.5,660.9H1338.5" stroke="#000" stroke-width="2"/>
<path d="M1341.3,621.8V655.0" stroke="#000" stroke-width="2.2"/>
<path d="M1338.3,654.0H1341.3M1341.3,628.0H1344.3" stroke="#000" stroke-width="2"/>
<path d="M1347.2,638.1V656.3" stroke="#c4164c" stroke-width="2.2"/>
<path d="M1344.2,639.1H1347.2M1347.2,654.9H1350.2" stroke="#c4164c" stroke-width="2"/>
<path d="M1353.0,644.0V672.0" stroke="#000" stroke-width="2.2"/>
<path d="M1350.0,654.9H1353.0M1353.0,651.2H1356.0" stroke="#000" stroke-width="2"/>
<path d="M1358.8,656.3V669.3" stroke="#c4164c" stroke-width="2.2"/>
<path d="M1355.8,657.3H1358.8M1358.8,671.0H1361.8" stroke="#c4164c" stroke-width="2"/>
<path d="M1364.6,666.7V697.3" stroke="#c4164c" stroke-width="2.2"/>
<path d="M1361.6,671.0H1364.6M1364.6,691.6H1367.6" stroke="#c4164c" stroke-width="2"/>
<path d="M1370.4,681.1V699.9" stroke="#000" stroke-width="2.2"/>
<path d="M1367.4,691.6H1370.4M1370.4,689.7H1373.4" stroke="#000" stroke-width="2"/>
<path d="M1376.2,694.7V709.0" stroke="#c4164c" stroke-width="2.2"/>
<path d="M1373.2,695.7H1376.2M1376.2,700.6H1379.2" stroke="#c4164c" stroke-width="2"/>
<path d="M1382.0,684.3V703.2" stroke="#c4164c" stroke-width="2.2"/>
<path d="M1379.0,700.6H1382.0M1382.0,702.8H1385.0" stroke="#c4164c" stroke-width="2"/>
<path d="M1387.8,690.2V714.3" stroke="#000" stroke-width="2.2"/>
<path d="M1384.8,702.8H1387.8M1387.8,695.3H1390.8" stroke="#000" stroke-width="2"/>
<path d="M1393.6,668.0V685.0" stroke="#000" stroke-width="2.2"/>
<path d="M1390.6,684.0H1393.6M1393.6,669.9H1396.6" stroke="#000" stroke-width="2"/>
<path d="M1399.4,653.1V663.5" stroke="#000" stroke-width="2.2"/>
<path d="M1396.4,662.5H1399.4M1399.4,657.9H1402.4" stroke="#000" stroke-width="2"/>
<path d="M1405.2,655.0V685.6" stroke="#c4164c" stroke-width="2.2"/>
<path d="M1402.2,657.9H1405.2M1405.2,684.9H1408.2" stroke="#c4164c" stroke-width="2"/>
<polyline points="46.3,360.9 52.1,367.1 57.9,372.3 63.7,378.5 69.5,386.5 75.3,396.3 81.1,399.7 86.9,402.6 92.7,403.8 98.5,404.8 104.3,401.8 110.2,399.5 116.0,399.6 121.8,399.6 127.6,399.3 133.4,397.4 139.2,402.5 145.0,409.9 150.8,419.5 156.6,427.1 162.4,440.1 168.2,450.5 174.0,459.8 179.8,467.7 185.7,474.2 191.5,479.0 197.3,481.2 203.1,483.2 208.9,483.9 214.7,486.3 220.5,489.7 226.3,491.5 232.1,494.4 237.9,501.8 243.7,510.2 249.5,521.6 255.3,534.5 261.1,547.5 267.0,559.4 272.8,570.3 278.6,580.5 284.4,594.4 290.2,607.2 296.0,614.9 301.8,621.5 307.6,623.7 313.4,624.3 319.2,625.4 325.0,624.8 330.8,628.0 336.6,628.0 342.5,627.5 348.3,627.4 354.1,631.5 359.9,637.9 365.7,648.8 371.5,664.2 377.3,677.7 383.1,694.7 388.9,708.5 394.7,726.5 400.5,746.2 406.3,767.0 412.1,780.8 417.9,786.4 423.8,797.7 429.6,800.5 435.4,800.5 441.2,794.9 447.0,791.0 452.8,788.9 458.6,788.2 464.4,778.5 470.2,773.4 476.0,776.4 481.8,775.5 487.6,782.3 493.4,793.1 499.3,808.9 505.1,821.2 510.9,827.9 516.7,825.9 522.5,832.2 528.3,837.6 534.1,837.7 539.9,839.2 545.7,835.4 551.5,827.2 557.3,819.7 563.1,814.6 568.9,807.0 574.8,802.2 580.6,796.9 586.4,787.2 592.2,776.6 598.0,766.4 603.8,753.0 609.6,742.8 615.4,730.9 621.2,722.6 627.0,718.0 632.8,711.0 638.6,700.5 644.4,693.8 650.2,690.1 656.1,683.2 661.9,683.5 667.7,683.2 673.5,684.5 679.3,685.1 685.1,684.8 690.9,688.5 696.7,698.0 702.5,709.2 708.3,721.0 714.1,728.5 719.9,733.7 725.7,734.1 731.6,732.2 737.4,725.1 743.2,718.7 749.0,712.3 754.8,704.8 760.6,696.2 766.4,685.8 772.2,676.9 778.0,667.5 783.8,661.8 789.6,659.7 795.4,658.4 801.2,653.7 807.1,648.2 812.9,640.4 818.7,633.7 824.5,631.4 830.3,631.1 836.1,629.8 841.9,628.4 847.7,627.6 853.5,626.3 859.3,624.9 865.1,623.2 870.9,622.8 876.7,617.8 882.6,609.4 888.4,602.9 894.2,596.6 900.0,591.0 905.8,584.3 911.6,578.5 917.4,573.7 923.2,570.2 929.0,566.0 934.8,565.3 940.6,565.2 946.4,564.1 952.2,563.9 958.0,562.0 963.9,558.2 969.7,554.1 975.5,552.8 981.3,553.4 987.1,554.7 992.9,555.5 998.7,558.4 1004.5,563.3 1010.3,564.4 1016.1,565.2 1021.9,568.0 1027.7,572.7 1033.5,574.5 1039.4,577.8 1045.2,581.8 1051.0,583.6 1056.8,581.5 1062.6,578.4 1068.4,577.6 1074.2,582.7 1080.0,585.9 1085.8,592.3 1091.6,600.2 1097.4,605.5 1103.2,605.4 1109.0,610.5 1114.8,617.0 1120.7,621.3 1126.5,628.4 1132.3,632.0 1138.1,636.3 1143.9,638.6 1149.7,641.7 1155.5,645.5 1161.3,653.8 1167.1,660.2 1172.9,669.5 1178.7,679.2 1184.5,690.0 1190.3,701.3 1196.2,709.8 1202.0,715.3 1207.8,720.0 1213.6,720.4 1219.4,720.4 1225.2,721.4 1231.0,717.1 1236.8,711.0 1242.6,700.2 1248.4,687.3 1254.2,677.2 1260.0,665.9 1265.8,654.5 1271.7,647.7 1277.5,640.3 1283.3,632.7 1289.1,627.0 1294.9,623.6 1300.7,622.9 1306.5,624.1 1312.3,628.6 1318.1,637.7 1323.9,646.2 1329.7,650.7 1335.5,655.0 1341.3,654.0 1347.2,656.9 1353.0,659.4 1358.8,662.9 1364.6,667.7 1370.4,669.4 1376.2,669.9 1382.0,671.7 1387.8,674.2 1393.6,675.2 1399.4,678.3 1405.2,681.3" fill="none" stroke="#c8506e" stroke-width="1.3"/>
<defs>
<clipPath id="r5hi"><rect x="46" y="951.7" width="1367.5" height="67.3"/></clipPath>
<clipPath id="r5lo"><rect x="46" y="1097.5" width="1367.5" height="66.7"/></clipPath>
<clipPath id="r3hi"><rect x="46" y="1164.3" width="1367.5" height="66.7"/></clipPath>
<clipPath id="r3lo"><rect x="46" y="1309.9" width="1367.5" height="66.4"/></clipPath>
<clipPath id="mcclip"><rect x="46" y="1376.7" width="1367.5" height="159.29999999999995"/></clipPath>
</defs>
<polygon points="46.3,1019.0 46.3,1098.4 52.1,1114.0 57.9,1100.8 63.7,1114.2 69.5,1123.1 75.3,1129.4 81.1,1044.9 86.9,1045.2 92.7,1038.0 98.5,1045.4 104.3,1011.6 110.2,1051.1 116.0,1075.0 121.8,1088.1 127.6,1096.7 133.4,1089.3 139.2,1108.6 145.0,1121.6 150.8,1128.8 156.6,1092.0 162.4,1107.2 168.2,1102.4 174.0,1108.6 179.8,1109.0 185.7,1094.1 191.5,1048.9 197.3,1044.4 203.1,1081.8 208.9,1090.0 214.7,1082.6 220.5,1115.6 226.3,1079.1 232.1,1097.8 237.9,1122.5 243.7,1123.8 249.5,1126.7 255.3,1131.2 261.1,1137.4 267.0,1123.2 272.8,1090.6 278.6,1110.7 284.4,1119.3 290.2,1123.0 296.0,1120.6 301.8,1101.4 307.6,1040.0 313.4,1037.6 319.2,1076.3 325.0,1045.7 330.8,1072.2 336.6,1066.3 342.5,1080.5 348.3,1093.3 354.1,1119.1 359.9,1125.5 365.7,1127.8 371.5,1138.6 377.3,1139.8 383.1,1141.0 388.9,1119.1 394.7,1132.2 400.5,1138.0 406.3,1141.5 412.1,1099.9 417.9,1043.5 423.8,1081.1 429.6,1057.6 435.4,1046.6 441.2,1023.6 447.0,1028.5 452.8,1068.6 458.6,1088.5 464.4,1047.5 470.2,1058.5 476.0,1069.0 481.8,1081.7 487.6,1099.9 493.4,1107.1 499.3,1105.2 505.1,1071.9 510.9,1072.3 516.7,1035.4 522.5,1047.0 528.3,1057.4 534.1,1029.9 539.9,1067.1 545.7,1058.6 551.5,1038.5 557.3,1044.3 563.1,1037.0 568.9,1015.5 574.8,1006.4 580.6,1016.1 586.4,995.4 592.2,982.8 598.0,1034.9 603.8,1012.9 609.6,1023.3 615.4,1015.6 621.2,1048.8 627.0,1063.6 632.8,1031.3 638.6,1014.1 644.4,1021.9 650.2,1016.9 656.1,1023.1 661.9,1068.9 667.7,1072.7 673.5,1076.1 679.3,1097.9 685.1,1102.0 690.9,1105.9 696.7,1125.7 702.5,1134.0 708.3,1125.7 714.1,1055.0 719.9,1066.4 725.7,1024.5 731.6,1012.4 737.4,999.1 743.2,1013.5 749.0,1020.0 754.8,1047.0 760.6,1060.4 766.4,1033.2 772.2,1013.6 778.0,1018.5 783.8,1014.9 789.6,1048.9 795.4,1025.4 801.2,1005.0 807.1,1001.7 812.9,997.0 818.7,1039.9 824.5,1074.8 830.3,1068.5 836.1,1054.7 841.9,1048.1 847.7,1083.1 853.5,1044.9 859.3,1017.9 865.1,1012.0 870.9,1024.7 876.7,1001.9 882.6,995.4 888.4,1027.7 894.2,1021.8 900.0,1028.9 905.8,1047.4 911.6,1027.4 917.4,1009.1 923.2,1024.1 929.0,1022.7 934.8,1048.6 940.6,1038.6 946.4,1051.6 952.2,1063.3 958.0,1023.7 963.9,1006.7 969.7,992.2 975.5,1032.9 981.3,1078.9 987.1,1087.3 992.9,1091.0 998.7,1110.9 1004.5,1126.1 1010.3,1061.6 1016.1,1041.6 1021.9,1055.1 1027.7,1058.6 1033.5,1036.6 1039.4,1086.6 1045.2,1096.2 1051.0,1068.8 1056.8,1043.6 1062.6,1060.6 1068.4,1045.7 1074.2,1087.1 1080.0,1075.5 1085.8,1100.8 1091.6,1098.9 1097.4,1107.9 1103.2,1054.1 1109.0,1081.7 1114.8,1070.5 1120.7,1061.1 1126.5,1077.3 1132.3,1083.1 1138.1,1079.4 1143.9,1097.9 1149.7,1103.8 1155.5,1119.5 1161.3,1121.4 1167.1,1129.6 1172.9,1136.4 1178.7,1120.8 1184.5,1133.1 1190.3,1136.3 1196.2,1073.8 1202.0,1057.3 1207.8,1055.5 1213.6,1029.7 1219.4,1030.8 1225.2,1073.6 1231.0,1032.4 1236.8,1014.6 1242.6,1003.1 1248.4,997.2 1254.2,994.6 1260.0,984.8 1265.8,983.2 1271.7,1038.6 1277.5,1032.1 1283.3,1063.5 1289.1,1048.0 1294.9,1047.2 1300.7,1065.6 1306.5,1079.1 1312.3,1110.1 1318.1,1123.2 1323.9,1098.7 1329.7,1072.9 1335.5,1058.2 1341.3,1020.9 1347.2,1058.9 1353.0,1054.4 1358.8,1078.0 1364.6,1095.8 1370.4,1092.4 1376.2,1102.1 1382.0,1104.1 1387.8,1084.6 1393.6,1038.6 1399.4,1024.3 1405.2,1068.8 1405.2,1019.0" fill="#6d8f6d" clip-path="url(#r5hi)"/>
<polygon points="46.3,1097.5 46.3,1098.4 52.1,1114.0 57.9,1100.8 63.7,1114.2 69.5,1123.1 75.3,1129.4 81.1,1044.9 86.9,1045.2 92.7,1038.0 98.5,1045.4 104.3,1011.6 110.2,1051.1 116.0,1075.0 121.8,1088.1 127.6,1096.7 133.4,1089.3 139.2,1108.6 145.0,1121.6 150.8,1128.8 156.6,1092.0 162.4,1107.2 168.2,1102.4 174.0,1108.6 179.8,1109.0 185.7,1094.1 191.5,1048.9 197.3,1044.4 203.1,1081.8 208.9,1090.0 214.7,1082.6 220.5,1115.6 226.3,1079.1 232.1,1097.8 237.9,1122.5 243.7,1123.8 249.5,1126.7 255.3,1131.2 261.1,1137.4 267.0,1123.2 272.8,1090.6 278.6,1110.7 284.4,1119.3 290.2,1123.0 296.0,1120.6 301.8,1101.4 307.6,1040.0 313.4,1037.6 319.2,1076.3 325.0,1045.7 330.8,1072.2 336.6,1066.3 342.5,1080.5 348.3,1093.3 354.1,1119.1 359.9,1125.5 365.7,1127.8 371.5,1138.6 377.3,1139.8 383.1,1141.0 388.9,1119.1 394.7,1132.2 400.5,1138.0 406.3,1141.5 412.1,1099.9 417.9,1043.5 423.8,1081.1 429.6,1057.6 435.4,1046.6 441.2,1023.6 447.0,1028.5 452.8,1068.6 458.6,1088.5 464.4,1047.5 470.2,1058.5 476.0,1069.0 481.8,1081.7 487.6,1099.9 493.4,1107.1 499.3,1105.2 505.1,1071.9 510.9,1072.3 516.7,1035.4 522.5,1047.0 528.3,1057.4 534.1,1029.9 539.9,1067.1 545.7,1058.6 551.5,1038.5 557.3,1044.3 563.1,1037.0 568.9,1015.5 574.8,1006.4 580.6,1016.1 586.4,995.4 592.2,982.8 598.0,1034.9 603.8,1012.9 609.6,1023.3 615.4,1015.6 621.2,1048.8 627.0,1063.6 632.8,1031.3 638.6,1014.1 644.4,1021.9 650.2,1016.9 656.1,1023.1 661.9,1068.9 667.7,1072.7 673.5,1076.1 679.3,1097.9 685.1,1102.0 690.9,1105.9 696.7,1125.7 702.5,1134.0 708.3,1125.7 714.1,1055.0 719.9,1066.4 725.7,1024.5 731.6,1012.4 737.4,999.1 743.2,1013.5 749.0,1020.0 754.8,1047.0 760.6,1060.4 766.4,1033.2 772.2,1013.6 778.0,1018.5 783.8,1014.9 789.6,1048.9 795.4,1025.4 801.2,1005.0 807.1,1001.7 812.9,997.0 818.7,1039.9 824.5,1074.8 830.3,1068.5 836.1,1054.7 841.9,1048.1 847.7,1083.1 853.5,1044.9 859.3,1017.9 865.1,1012.0 870.9,1024.7 876.7,1001.9 882.6,995.4 888.4,1027.7 894.2,1021.8 900.0,1028.9 905.8,1047.4 911.6,1027.4 917.4,1009.1 923.2,1024.1 929.0,1022.7 934.8,1048.6 940.6,1038.6 946.4,1051.6 952.2,1063.3 958.0,1023.7 963.9,1006.7 969.7,992.2 975.5,1032.9 981.3,1078.9 987.1,1087.3 992.9,1091.0 998.7,1110.9 1004.5,1126.1 1010.3,1061.6 1016.1,1041.6 1021.9,1055.1 1027.7,1058.6 1033.5,1036.6 1039.4,1086.6 1045.2,1096.2 1051.0,1068.8 1056.8,1043.6 1062.6,1060.6 1068.4,1045.7 1074.2,1087.1 1080.0,1075.5 1085.8,1100.8 1091.6,1098.9 1097.4,1107.9 1103.2,1054.1 1109.0,1081.7 1114.8,1070.5 1120.7,1061.1 1126.5,1077.3 1132.3,1083.1 1138.1,1079.4 1143.9,1097.9 1149.7,1103.8 1155.5,1119.5 1161.3,1121.4 1167.1,1129.6 1172.9,1136.4 1178.7,1120.8 1184.5,1133.1 1190.3,1136.3 1196.2,1073.8 1202.0,1057.3 1207.8,1055.5 1213.6,1029.7 1219.4,1030.8 1225.2,1073.6 1231.0,1032.4 1236.8,1014.6 1242.6,1003.1 1248.4,997.2 1254.2,994.6 1260.0,984.8 1265.8,983.2 1271.7,1038.6 1277.5,1032.1 1283.3,1063.5 1289.1,1048.0 1294.9,1047.2 1300.7,1065.6 1306.5,1079.1 1312.3,1110.1 1318.1,1123.2 1323.9,1098.7 1329.7,1072.9 1335.5,1058.2 1341.3,1020.9 1347.2,1058.9 1353.0,1054.4 1358.8,1078.0 1364.6,1095.8 1370.4,1092.4 1376.2,1102.1 1382.0,1104.1 1387.8,1084.6 1393.6,1038.6 1399.4,1024.3 1405.2,1068.8 1405.2,1097.5" fill="#a87474" clip-path="url(#r5lo)"/>
<polyline points="46.3,1098.4 52.1,1114.0 57.9,1100.8 63.7,1114.2 69.5,1123.1 75.3,1129.4 81.1,1044.9 86.9,1045.2 92.7,1038.0 98.5,1045.4 104.3,1011.6 110.2,1051.1 116.0,1075.0 121.8,1088.1 127.6,1096.7 133.4,1089.3 139.2,1108.6 145.0,1121.6 150.8,1128.8 156.6,1092.0 162.4,1107.2 168.2,1102.4 174.0,1108.6 179.8,1109.0 185.7,1094.1 191.5,1048.9 197.3,1044.4 203.1,1081.8 208.9,1090.0 214.7,1082.6 220.5,1115.6 226.3,1079.1 232.1,1097.8 237.9,1122.5 243.7,1123.8 249.5,1126.7 255.3,1131.2 261.1,1137.4 267.0,1123.2 272.8,1090.6 278.6,1110.7 284.4,1119.3 290.2,1123.0 296.0,1120.6 301.8,1101.4 307.6,1040.0 313.4,1037.6 319.2,1076.3 325.0,1045.7 330.8,1072.2 336.6,1066.3 342.5,1080.5 348.3,1093.3 354.1,1119.1 359.9,1125.5 365.7,1127.8 371.5,1138.6 377.3,1139.8 383.1,1141.0 388.9,1119.1 394.7,1132.2 400.5,1138.0 406.3,1141.5 412.1,1099.9 417.9,1043.5 423.8,1081.1 429.6,1057.6 435.4,1046.6 441.2,1023.6 447.0,1028.5 452.8,1068.6 458.6,1088.5 464.4,1047.5 470.2,1058.5 476.0,1069.0 481.8,1081.7 487.6,1099.9 493.4,1107.1 499.3,1105.2 505.1,1071.9 510.9,1072.3 516.7,1035.4 522.5,1047.0 528.3,1057.4 534.1,1029.9 539.9,1067.1 545.7,1058.6 551.5,1038.5 557.3,1044.3 563.1,1037.0 568.9,1015.5 574.8,1006.4 580.6,1016.1 586.4,995.4 592.2,982.8 598.0,1034.9 603.8,1012.9 609.6,1023.3 615.4,1015.6 621.2,1048.8 627.0,1063.6 632.8,1031.3 638.6,1014.1 644.4,1021.9 650.2,1016.9 656.1,1023.1 661.9,1068.9 667.7,1072.7 673.5,1076.1 679.3,1097.9 685.1,1102.0 690.9,1105.9 696.7,1125.7 702.5,1134.0 708.3,1125.7 714.1,1055.0 719.9,1066.4 725.7,1024.5 731.6,1012.4 737.4,999.1 743.2,1013.5 749.0,1020.0 754.8,1047.0 760.6,1060.4 766.4,1033.2 772.2,1013.6 778.0,1018.5 783.8,1014.9 789.6,1048.9 795.4,1025.4 801.2,1005.0 807.1,1001.7 812.9,997.0 818.7,1039.9 824.5,1074.8 830.3,1068.5 836.1,1054.7 841.9,1048.1 847.7,1083.1 853.5,1044.9 859.3,1017.9 865.1,1012.0 870.9,1024.7 876.7,1001.9 882.6,995.4 888.4,1027.7 894.2,1021.8 900.0,1028.9 905.8,1047.4 911.6,1027.4 917.4,1009.1 923.2,1024.1 929.0,1022.7 934.8,1048.6 940.6,1038.6 946.4,1051.6 952.2,1063.3 958.0,1023.7 963.9,1006.7 969.7,992.2 975.5,1032.9 981.3,1078.9 987.1,1087.3 992.9,1091.0 998.7,1110.9 1004.5,1126.1 1010.3,1061.6 1016.1,1041.6 1021.9,1055.1 1027.7,1058.6 1033.5,1036.6 1039.4,1086.6 1045.2,1096.2 1051.0,1068.8 1056.8,1043.6 1062.6,1060.6 1068.4,1045.7 1074.2,1087.1 1080.0,1075.5 1085.8,1100.8 1091.6,1098.9 1097.4,1107.9 1103.2,1054.1 1109.0,1081.7 1114.8,1070.5 1120.7,1061.1 1126.5,1077.3 1132.3,1083.1 1138.1,1079.4 1143.9,1097.9 1149.7,1103.8 1155.5,1119.5 1161.3,1121.4 1167.1,1129.6 1172.9,1136.4 1178.7,1120.8 1184.5,1133.1 1190.3,1136.3 1196.2,1073.8 1202.0,1057.3 1207.8,1055.5 1213.6,1029.7 1219.4,1030.8 1225.2,1073.6 1231.0,1032.4 1236.8,1014.6 1242.6,1003.1 1248.4,997.2 1254.2,994.6 1260.0,984.8 1265.8,983.2 1271.7,1038.6 1277.5,1032.1 1283.3,1063.5 1289.1,1048.0 1294.9,1047.2 1300.7,1065.6 1306.5,1079.1 1312.3,1110.1 1318.1,1123.2 1323.9,1098.7 1329.7,1072.9 1335.5,1058.2 1341.3,1020.9 1347.2,1058.9 1353.0,1054.4 1358.8,1078.0 1364.6,1095.8 1370.4,1092.4 1376.2,1102.1 1382.0,1104.1 1387.8,1084.6 1393.6,1038.6 1399.4,1024.3 1405.2,1068.8" fill="none" stroke="#2a2a2a" stroke-width="1.3" stroke-linejoin="round"/>
<polygon points="46.3,1231.0 46.3,1335.4 52.1,1350.2 57.9,1322.4 63.7,1341.5 69.5,1351.3 75.3,1356.9 81.1,1233.2 86.9,1233.8 92.7,1224.4 98.5,1242.6 104.3,1199.3 110.2,1268.9 116.0,1303.6 121.8,1320.6 127.6,1331.1 133.4,1314.3 139.2,1341.0 145.0,1353.2 150.8,1358.4 156.6,1293.2 162.4,1321.4 168.2,1312.4 174.0,1325.1 179.8,1325.9 185.7,1289.7 191.5,1220.3 197.3,1215.4 203.1,1299.1 208.9,1312.7 214.7,1296.7 220.5,1344.5 226.3,1283.6 232.1,1314.9 237.9,1345.7 243.7,1347.1 249.5,1350.5 255.3,1355.6 261.1,1361.2 267.0,1333.0 272.8,1275.1 278.6,1320.8 284.4,1335.6 290.2,1341.6 296.0,1336.3 301.8,1294.2 307.6,1213.0 313.4,1210.7 319.2,1291.4 325.0,1243.4 330.8,1289.4 336.6,1278.5 342.5,1304.1 348.3,1323.8 354.1,1351.0 359.9,1355.8 365.7,1357.6 371.5,1364.0 377.3,1364.6 383.1,1365.2 388.9,1319.1 394.7,1347.2 400.5,1355.4 406.3,1359.7 412.1,1291.1 417.9,1223.8 423.8,1290.0 429.6,1256.5 435.4,1241.0 441.2,1212.6 447.0,1223.0 452.8,1295.6 458.6,1321.9 464.4,1251.3 470.2,1270.9 476.0,1289.5 481.8,1310.8 487.6,1335.1 493.4,1342.9 499.3,1338.0 505.1,1266.1 510.9,1267.4 516.7,1212.9 522.5,1241.2 528.3,1265.7 534.1,1219.9 539.9,1289.0 545.7,1272.5 551.5,1237.1 557.3,1249.9 563.1,1235.5 568.9,1204.0 574.8,1194.5 580.6,1217.2 586.4,1190.7 592.2,1181.0 598.0,1260.9 603.8,1224.0 609.6,1240.9 615.4,1226.3 621.2,1282.2 627.0,1303.2 632.8,1238.9 638.6,1213.8 644.4,1229.0 650.2,1219.9 656.1,1234.7 661.9,1312.7 667.7,1317.4 673.5,1322.1 679.3,1345.5 685.1,1348.9 690.9,1352.0 696.7,1362.8 702.5,1365.4 708.3,1349.1 714.1,1240.2 719.9,1263.3 725.7,1212.6 731.6,1201.1 737.4,1190.0 743.2,1217.3 749.0,1230.7 754.8,1280.8 760.6,1301.5 766.4,1241.8 772.2,1211.7 778.0,1221.8 783.8,1215.4 789.6,1283.0 795.4,1233.9 801.2,1204.4 807.1,1200.3 812.9,1194.3 818.7,1272.8 824.5,1317.3 830.3,1303.0 836.1,1272.1 841.9,1257.8 847.7,1318.0 853.5,1248.5 859.3,1213.2 865.1,1206.3 870.9,1232.0 876.7,1199.5 882.6,1192.5 888.4,1250.5 894.2,1238.0 900.0,1252.2 905.8,1286.6 911.6,1238.4 917.4,1208.4 923.2,1237.9 929.0,1234.8 934.8,1285.7 940.6,1259.6 946.4,1285.0 952.2,1305.3 958.0,1222.9 963.9,1201.7 969.7,1188.2 975.5,1254.5 981.3,1313.3 987.1,1322.6 992.9,1327.0 998.7,1347.3 1004.5,1358.0 1010.3,1259.9 1016.1,1234.8 1021.9,1260.0 1027.7,1266.9 1033.5,1229.8 1039.4,1313.5 1045.2,1325.5 1051.0,1276.0 1056.8,1237.8 1062.6,1270.8 1068.4,1245.2 1074.2,1314.0 1080.0,1292.5 1085.8,1329.0 1091.6,1325.1 1097.4,1337.8 1103.2,1245.2 1109.0,1295.4 1114.8,1276.4 1120.7,1259.9 1126.5,1294.0 1132.3,1305.1 1138.1,1295.8 1143.9,1330.2 1149.7,1338.3 1155.5,1354.1 1161.3,1355.6 1167.1,1361.3 1172.9,1364.6 1178.7,1333.2 1184.5,1352.5 1190.3,1356.3 1196.2,1259.7 1202.0,1239.3 1207.8,1236.9 1213.6,1207.4 1219.4,1210.1 1225.2,1298.2 1231.0,1231.6 1236.8,1210.0 1242.6,1197.7 1248.4,1191.9 1254.2,1189.3 1260.0,1181.1 1265.8,1180.0 1271.7,1276.8 1277.5,1261.2 1283.3,1306.5 1289.1,1271.4 1294.9,1269.6 1300.7,1302.8 1306.5,1322.3 1312.3,1351.0 1318.1,1358.6 1323.9,1313.8 1329.7,1270.7 1335.5,1248.1 1341.3,1205.3 1347.2,1272.3 1353.0,1264.6 1358.8,1304.2 1364.6,1327.9 1370.4,1320.5 1376.2,1334.6 1382.0,1337.3 1387.8,1289.2 1393.6,1218.6 1399.4,1204.4 1405.2,1287.4 1405.2,1231.0" fill="#6d8f6d" clip-path="url(#r3hi)"/>
<polygon points="46.3,1309.9 46.3,1335.4 52.1,1350.2 57.9,1322.4 63.7,1341.5 69.5,1351.3 75.3,1356.9 81.1,1233.2 86.9,1233.8 92.7,1224.4 98.5,1242.6 104.3,1199.3 110.2,1268.9 116.0,1303.6 121.8,1320.6 127.6,1331.1 133.4,1314.3 139.2,1341.0 145.0,1353.2 150.8,1358.4 156.6,1293.2 162.4,1321.4 168.2,1312.4 174.0,1325.1 179.8,1325.9 185.7,1289.7 191.5,1220.3 197.3,1215.4 203.1,1299.1 208.9,1312.7 214.7,1296.7 220.5,1344.5 226.3,1283.6 232.1,1314.9 237.9,1345.7 243.7,1347.1 249.5,1350.5 255.3,1355.6 261.1,1361.2 267.0,1333.0 272.8,1275.1 278.6,1320.8 284.4,1335.6 290.2,1341.6 296.0,1336.3 301.8,1294.2 307.6,1213.0 313.4,1210.7 319.2,1291.4 325.0,1243.4 330.8,1289.4 336.6,1278.5 342.5,1304.1 348.3,1323.8 354.1,1351.0 359.9,1355.8 365.7,1357.6 371.5,1364.0 377.3,1364.6 383.1,1365.2 388.9,1319.1 394.7,1347.2 400.5,1355.4 406.3,1359.7 412.1,1291.1 417.9,1223.8 423.8,1290.0 429.6,1256.5 435.4,1241.0 441.2,1212.6 447.0,1223.0 452.8,1295.6 458.6,1321.9 464.4,1251.3 470.2,1270.9 476.0,1289.5 481.8,1310.8 487.6,1335.1 493.4,1342.9 499.3,1338.0 505.1,1266.1 510.9,1267.4 516.7,1212.9 522.5,1241.2 528.3,1265.7 534.1,1219.9 539.9,1289.0 545.7,1272.5 551.5,1237.1 557.3,1249.9 563.1,1235.5 568.9,1204.0 574.8,1194.5 580.6,1217.2 586.4,1190.7 592.2,1181.0 598.0,1260.9 603.8,1224.0 609.6,1240.9 615.4,1226.3 621.2,1282.2 627.0,1303.2 632.8,1238.9 638.6,1213.8 644.4,1229.0 650.2,1219.9 656.1,1234.7 661.9,1312.7 667.7,1317.4 673.5,1322.1 679.3,1345.5 685.1,1348.9 690.9,1352.0 696.7,1362.8 702.5,1365.4 708.3,1349.1 714.1,1240.2 719.9,1263.3 725.7,1212.6 731.6,1201.1 737.4,1190.0 743.2,1217.3 749.0,1230.7 754.8,1280.8 760.6,1301.5 766.4,1241.8 772.2,1211.7 778.0,1221.8 783.8,1215.4 789.6,1283.0 795.4,1233.9 801.2,1204.4 807.1,1200.3 812.9,1194.3 818.7,1272.8 824.5,1317.3 830.3,1303.0 836.1,1272.1 841.9,1257.8 847.7,1318.0 853.5,1248.5 859.3,1213.2 865.1,1206.3 870.9,1232.0 876.7,1199.5 882.6,1192.5 888.4,1250.5 894.2,1238.0 900.0,1252.2 905.8,1286.6 911.6,1238.4 917.4,1208.4 923.2,1237.9 929.0,1234.8 934.8,1285.7 940.6,1259.6 946.4,1285.0 952.2,1305.3 958.0,1222.9 963.9,1201.7 969.7,1188.2 975.5,1254.5 981.3,1313.3 987.1,1322.6 992.9,1327.0 998.7,1347.3 1004.5,1358.0 1010.3,1259.9 1016.1,1234.8 1021.9,1260.0 1027.7,1266.9 1033.5,1229.8 1039.4,1313.5 1045.2,1325.5 1051.0,1276.0 1056.8,1237.8 1062.6,1270.8 1068.4,1245.2 1074.2,1314.0 1080.0,1292.5 1085.8,1329.0 1091.6,1325.1 1097.4,1337.8 1103.2,1245.2 1109.0,1295.4 1114.8,1276.4 1120.7,1259.9 1126.5,1294.0 1132.3,1305.1 1138.1,1295.8 1143.9,1330.2 1149.7,1338.3 1155.5,1354.1 1161.3,1355.6 1167.1,1361.3 1172.9,1364.6 1178.7,1333.2 1184.5,1352.5 1190.3,1356.3 1196.2,1259.7 1202.0,1239.3 1207.8,1236.9 1213.6,1207.4 1219.4,1210.1 1225.2,1298.2 1231.0,1231.6 1236.8,1210.0 1242.6,1197.7 1248.4,1191.9 1254.2,1189.3 1260.0,1181.1 1265.8,1180.0 1271.7,1276.8 1277.5,1261.2 1283.3,1306.5 1289.1,1271.4 1294.9,1269.6 1300.7,1302.8 1306.5,1322.3 1312.3,1351.0 1318.1,1358.6 1323.9,1313.8 1329.7,1270.7 1335.5,1248.1 1341.3,1205.3 1347.2,1272.3 1353.0,1264.6 1358.8,1304.2 1364.6,1327.9 1370.4,1320.5 1376.2,1334.6 1382.0,1337.3 1387.8,1289.2 1393.6,1218.6 1399.4,1204.4 1405.2,1287.4 1405.2,1309.9" fill="#a87474" clip-path="url(#r3lo)"/>
<polyline points="46.3,1335.4 52.1,1350.2 57.9,1322.4 63.7,1341.5 69.5,1351.3 75.3,1356.9 81.1,1233.2 86.9,1233.8 92.7,1224.4 98.5,1242.6 104.3,1199.3 110.2,1268.9 116.0,1303.6 121.8,1320.6 127.6,1331.1 133.4,1314.3 139.2,1341.0 145.0,1353.2 150.8,1358.4 156.6,1293.2 162.4,1321.4 168.2,1312.4 174.0,1325.1 179.8,1325.9 185.7,1289.7 191.5,1220.3 197.3,1215.4 203.1,1299.1 208.9,1312.7 214.7,1296.7 220.5,1344.5 226.3,1283.6 232.1,1314.9 237.9,1345.7 243.7,1347.1 249.5,1350.5 255.3,1355.6 261.1,1361.2 267.0,1333.0 272.8,1275.1 278.6,1320.8 284.4,1335.6 290.2,1341.6 296.0,1336.3 301.8,1294.2 307.6,1213.0 313.4,1210.7 319.2,1291.4 325.0,1243.4 330.8,1289.4 336.6,1278.5 342.5,1304.1 348.3,1323.8 354.1,1351.0 359.9,1355.8 365.7,1357.6 371.5,1364.0 377.3,1364.6 383.1,1365.2 388.9,1319.1 394.7,1347.2 400.5,1355.4 406.3,1359.7 412.1,1291.1 417.9,1223.8 423.8,1290.0 429.6,1256.5 435.4,1241.0 441.2,1212.6 447.0,1223.0 452.8,1295.6 458.6,1321.9 464.4,1251.3 470.2,1270.9 476.0,1289.5 481.8,1310.8 487.6,1335.1 493.4,1342.9 499.3,1338.0 505.1,1266.1 510.9,1267.4 516.7,1212.9 522.5,1241.2 528.3,1265.7 534.1,1219.9 539.9,1289.0 545.7,1272.5 551.5,1237.1 557.3,1249.9 563.1,1235.5 568.9,1204.0 574.8,1194.5 580.6,1217.2 586.4,1190.7 592.2,1181.0 598.0,1260.9 603.8,1224.0 609.6,1240.9 615.4,1226.3 621.2,1282.2 627.0,1303.2 632.8,1238.9 638.6,1213.8 644.4,1229.0 650.2,1219.9 656.1,1234.7 661.9,1312.7 667.7,1317.4 673.5,1322.1 679.3,1345.5 685.1,1348.9 690.9,1352.0 696.7,1362.8 702.5,1365.4 708.3,1349.1 714.1,1240.2 719.9,1263.3 725.7,1212.6 731.6,1201.1 737.4,1190.0 743.2,1217.3 749.0,1230.7 754.8,1280.8 760.6,1301.5 766.4,1241.8 772.2,1211.7 778.0,1221.8 783.8,1215.4 789.6,1283.0 795.4,1233.9 801.2,1204.4 807.1,1200.3 812.9,1194.3 818.7,1272.8 824.5,1317.3 830.3,1303.0 836.1,1272.1 841.9,1257.8 847.7,1318.0 853.5,1248.5 859.3,1213.2 865.1,1206.3 870.9,1232.0 876.7,1199.5 882.6,1192.5 888.4,1250.5 894.2,1238.0 900.0,1252.2 905.8,1286.6 911.6,1238.4 917.4,1208.4 923.2,1237.9 929.0,1234.8 934.8,1285.7 940.6,1259.6 946.4,1285.0 952.2,1305.3 958.0,1222.9 963.9,1201.7 969.7,1188.2 975.5,1254.5 981.3,1313.3 987.1,1322.6 992.9,1327.0 998.7,1347.3 1004.5,1358.0 1010.3,1259.9 1016.1,1234.8 1021.9,1260.0 1027.7,1266.9 1033.5,1229.8 1039.4,1313.5 1045.2,1325.5 1051.0,1276.0 1056.8,1237.8 1062.6,1270.8 1068.4,1245.2 1074.2,1314.0 1080.0,1292.5 1085.8,1329.0 1091.6,1325.1 1097.4,1337.8 1103.2,1245.2 1109.0,1295.4 1114.8,1276.4 1120.7,1259.9 1126.5,1294.0 1132.3,1305.1 1138.1,1295.8 1143.9,1330.2 1149.7,1338.3 1155.5,1354.1 1161.3,1355.6 1167.1,1361.3 1172.9,1364.6 1178.7,1333.2 1184.5,1352.5 1190.3,1356.3 1196.2,1259.7 1202.0,1239.3 1207.8,1236.9 1213.6,1207.4 1219.4,1210.1 1225.2,1298.2 1231.0,1231.6 1236.8,1210.0 1242.6,1197.7 1248.4,1191.9 1254.2,1189.3 1260.0,1181.1 1265.8,1180.0 1271.7,1276.8 1277.5,1261.2 1283.3,1306.5 1289.1,1271.4 1294.9,1269.6 1300.7,1302.8 1306.5,1322.3 1312.3,1351.0 1318.1,1358.6 1323.9,1313.8 1329.7,1270.7 1335.5,1248.1 1341.3,1205.3 1347.2,1272.3 1353.0,1264.6 1358.8,1304.2 1364.6,1327.9 1370.4,1320.5 1376.2,1334.6 1382.0,1337.3 1387.8,1289.2 1393.6,1218.6 1399.4,1204.4 1405.2,1287.4" fill="none" stroke="#2a2a2a" stroke-width="1.3" stroke-linejoin="round"/>
<polyline points="46.3,242.0 52.1,259.6 57.9,273.7 63.7,289.8 69.5,301.0 75.3,307.6 81.1,303.0 86.9,287.1 92.7,257.9 98.5,232.1 104.3,205.6 110.2,189.9 116.0,181.2 121.8,194.5 127.6,218.1 133.4,242.9 139.2,262.0 145.0,277.4 150.8,294.0 156.6,301.5 162.4,302.1 168.2,297.0 174.0,298.9 179.8,303.0 185.7,308.3 191.5,304.9 197.3,293.4 203.1,279.6 208.9,274.4 214.7,281.4 220.5,291.7 226.3,292.8 232.1,289.5 237.9,285.6 243.7,292.4 249.5,299.4 255.3,305.9 261.1,309.1 267.0,309.9 272.8,305.9 278.6,298.6 284.4,295.5 290.2,301.4 296.0,309.3 301.8,312.9 307.6,304.6 313.4,285.8 319.2,265.2 325.0,249.3 330.8,245.9 336.6,242.7 342.5,246.4 348.3,252.5 354.1,270.3 359.9,289.2 365.7,304.4 371.5,311.7 377.3,311.9 383.1,310.1 388.9,305.7 394.7,304.3 400.5,304.8 406.3,308.2 412.1,307.6 417.9,297.5 423.8,284.1 429.6,268.5 435.4,257.2 441.2,234.5 447.0,206.3 452.8,181.2 458.6,181.6 464.4,196.1 470.2,210.2 476.0,208.8 481.8,211.6 487.6,226.4 493.4,255.3 499.3,281.7 505.1,293.0 510.9,288.6 516.7,271.2 522.5,254.5 528.3,239.8 534.1,230.4 539.9,225.1 545.7,222.8 551.5,220.4 557.3,209.9 563.1,192.4 568.9,173.5 574.8,157.4 580.6,147.0 586.4,139.6 592.2,136.5 598.0,137.9 603.8,140.9 609.6,145.3 615.4,142.6 621.2,143.2 627.0,147.2 632.8,156.4 638.6,158.3 644.4,152.8 650.2,147.5 656.1,148.9 661.9,158.4 667.7,177.2 673.5,203.1 679.3,232.4 685.1,257.4 690.9,278.5 696.7,293.8 702.5,305.3 708.3,310.6 714.1,305.9 719.9,293.4 725.7,268.8 731.6,241.5 737.4,205.3 743.2,175.7 749.0,154.3 754.8,152.1 760.6,160.0 766.4,169.9 772.2,170.7 778.0,161.4 783.8,149.7 789.6,145.7 795.4,146.9 801.2,149.4 807.1,145.2 812.9,142.1 818.7,144.2 824.5,157.3 830.3,176.2 836.1,192.6 841.9,201.0 847.7,207.8 853.5,216.0 859.3,218.4 865.1,203.8 870.9,178.8 876.7,157.4 882.6,146.5 888.4,143.3 894.2,144.9 900.0,151.7 905.8,158.9 911.6,163.3 917.4,160.2 923.2,152.8 929.0,145.1 934.8,145.4 940.6,151.5 946.4,162.4 952.2,174.4 958.0,181.8 963.9,179.8 969.7,163.1 975.5,150.4 981.3,154.9 987.1,184.6 992.9,224.8 998.7,260.6 1004.5,285.8 1010.3,294.2 1016.1,283.0 1021.9,256.1 1027.7,232.1 1033.5,219.3 1039.4,223.4 1045.2,235.6 1051.0,254.5 1056.8,255.6 1062.6,240.8 1068.4,212.0 1074.2,205.5 1080.0,213.6 1085.8,245.0 1091.6,268.2 1097.4,293.2 1103.2,295.7 1109.0,295.9 1114.8,284.9 1120.7,284.1 1126.5,282.4 1132.3,287.6 1138.1,292.0 1143.9,299.1 1149.7,302.1 1155.5,306.6 1161.3,307.8 1167.1,311.3 1172.9,311.5 1178.7,311.4 1184.5,311.5 1190.3,311.0 1196.2,309.2 1202.0,298.6 1207.8,280.6 1213.6,258.8 1219.4,240.2 1225.2,228.2 1231.0,214.9 1236.8,196.7 1242.6,167.5 1248.4,144.3 1254.2,130.8 1260.0,129.5 1265.8,129.4 1271.7,132.5 1277.5,138.3 1283.3,151.5 1289.1,162.9 1294.9,173.3 1300.7,176.8 1306.5,182.4 1312.3,200.5 1318.1,231.6 1323.9,267.5 1329.7,284.0 1335.5,280.8 1341.3,257.7 1347.2,235.5 1353.0,216.7 1358.8,217.2 1364.6,229.9 1370.4,254.5 1376.2,276.6 1382.0,292.3 1387.8,298.5 1393.6,291.1 1399.4,270.5 1405.2,248.4" fill="none" stroke="#e04040" stroke-width="1.2" stroke-linejoin="round"/>
<polyline points="46.3,254.2 52.1,274.5 57.9,292.3 63.7,302.6 69.5,308.0 75.3,312.1 81.1,288.8 86.9,260.5 92.7,224.4 98.5,211.5 104.3,180.9 110.2,177.3 116.0,185.4 121.8,221.0 127.6,248.0 133.4,259.8 139.2,278.1 145.0,294.3 150.8,309.7 156.6,300.4 162.4,296.3 168.2,294.3 174.0,306.1 179.8,308.7 185.7,310.1 191.5,295.9 197.3,274.2 203.1,268.9 208.9,280.0 214.7,295.2 220.5,300.0 226.3,283.2 232.1,285.4 237.9,288.2 243.7,303.6 249.5,306.3 255.3,307.7 261.1,313.4 267.0,308.7 272.8,295.5 278.6,291.6 284.4,299.3 290.2,313.3 296.0,315.3 301.8,310.3 307.6,288.1 313.4,259.1 319.2,248.3 325.0,240.4 330.8,248.9 336.6,238.6 342.5,251.6 348.3,267.4 354.1,292.0 359.9,308.2 365.7,312.8 371.5,314.1 377.3,308.7 383.1,307.4 388.9,300.8 394.7,304.7 400.5,308.9 406.3,311.1 412.1,302.7 417.9,278.8 423.8,270.8 429.6,255.9 435.4,244.9 441.2,202.8 447.0,171.2 452.8,169.7 458.6,204.1 464.4,214.7 470.2,211.7 476.0,200.1 481.8,223.0 487.6,256.0 493.4,286.8 499.3,302.2 505.1,290.1 510.9,273.6 516.7,249.9 522.5,239.8 528.3,229.6 534.1,221.8 539.9,223.9 545.7,222.8 551.5,214.5 557.3,192.4 563.1,170.1 568.9,158.1 574.8,144.0 580.6,139.1 586.4,135.6 592.2,135.0 598.0,143.2 603.8,144.4 609.6,148.2 615.4,135.2 621.2,146.1 627.0,160.2 632.8,162.8 638.6,151.8 644.4,143.9 650.2,146.9 656.1,155.9 661.9,172.3 667.7,203.3 673.5,233.6 679.3,260.2 685.1,278.2 690.9,297.0 696.7,306.2 702.5,312.7 708.3,312.9 714.1,292.2 719.9,275.2 725.7,239.0 731.6,210.3 737.4,166.5 743.2,150.4 749.0,145.9 754.8,160.1 760.6,174.0 766.4,175.5 772.2,162.5 778.0,146.3 783.8,140.3 789.6,150.6 795.4,149.8 801.2,147.6 807.1,138.1 812.9,140.5 818.7,154.1 824.5,177.5 830.3,197.1 836.1,203.3 841.9,202.6 847.7,217.5 853.5,227.9 859.3,209.9 865.1,173.7 870.9,152.6 876.7,145.7 882.6,141.1 888.4,143.2 894.2,150.3 900.0,161.6 905.8,164.7 911.6,163.5 917.4,152.4 923.2,142.5 929.0,140.5 934.8,153.2 940.6,160.8 946.4,173.3 952.2,189.1 958.0,183.1 963.9,167.2 969.7,139.1 975.5,144.9 981.3,180.7 987.1,228.2 992.9,265.4 998.7,288.2 1004.5,303.7 1010.3,290.8 1016.1,254.5 1021.9,223.0 1027.7,218.7 1033.5,216.1 1039.4,235.5 1045.2,255.3 1051.0,272.8 1056.8,238.6 1062.6,211.1 1068.4,186.4 1074.2,219.0 1080.0,235.5 1085.8,280.6 1091.6,288.6 1097.4,310.4 1103.2,288.1 1109.0,289.3 1114.8,277.2 1120.7,285.9 1126.5,284.1 1132.3,292.9 1138.1,299.0 1143.9,305.5 1149.7,301.9 1155.5,312.3 1161.3,309.4 1167.1,312.2 1172.9,312.9 1178.7,309.0 1184.5,312.5 1190.3,311.6 1196.2,303.6 1202.0,280.7 1207.8,257.6 1213.6,238.2 1219.4,224.9 1225.2,221.5 1231.0,198.4 1236.8,170.1 1242.6,133.9 1248.4,128.9 1254.2,129.7 1260.0,130.1 1265.8,128.4 1271.7,138.8 1277.5,147.6 1283.3,168.1 1289.1,173.0 1294.9,178.7 1300.7,178.7 1306.5,189.7 1312.3,233.2 1318.1,271.8 1323.9,297.5 1329.7,282.7 1335.5,262.2 1341.3,228.4 1347.2,215.8 1353.0,206.0 1358.8,229.7 1364.6,254.0 1370.4,279.6 1376.2,296.2 1382.0,300.9 1387.8,298.4 1393.6,273.9 1399.4,239.2 1405.2,232.1" fill="none" stroke="#111" stroke-width="1.9" stroke-linejoin="round"/>
<g clip-path="url(#mcclip)">
<path d="M43.4,1444.9h5.8v9.6h-5.8zM49.2,1444.9h5.8v14.6h-5.8zM55.0,1444.9h5.8v16.2h-5.8zM60.8,1444.9h5.8v19.2h-5.8zM66.6,1444.9h5.8v22.4h-5.8zM72.4,1444.9h5.8v25.3h-5.8zM78.2,1444.9h5.8v17.0h-5.8zM84.0,1444.9h5.8v10.8h-5.8zM89.8,1444.9h5.8v5.2h-5.8zM95.6,1444.9h5.8v1.9h-5.8zM101.4,1439.0h5.8v5.9h-5.8zM107.3,1438.5h5.8v6.4h-5.8zM113.1,1442.0h5.8v2.9h-5.8zM118.9,1444.9h5.8v1.8h-5.8zM124.7,1444.9h5.8v6.2h-5.8zM130.5,1444.9h5.8v8.0h-5.8zM136.3,1444.9h5.8v12.3h-5.8zM142.1,1444.9h5.8v18.1h-5.8zM147.9,1444.9h5.8v23.6h-5.8zM153.7,1444.9h5.8v22.3h-5.8zM159.5,1444.9h5.8v23.7h-5.8zM165.3,1444.9h5.8v22.5h-5.8zM171.1,1444.9h5.8v21.5h-5.8zM176.9,1444.9h5.8v19.4h-5.8zM182.8,1444.9h5.8v15.7h-5.8zM188.6,1444.9h5.8v8.6h-5.8zM194.4,1444.9h5.8v2.7h-5.8zM200.2,1444.9h5.8v1.7h-5.8zM206.0,1444.9h5.8v1.4h-5.8zM211.8,1444.9h5.8v0.1h-5.8zM217.6,1444.9h5.8v3.8h-5.8zM223.4,1444.9h5.8v2.5h-5.8zM229.2,1444.9h5.8v4.0h-5.8zM235.0,1444.9h5.8v11.4h-5.8zM240.8,1444.9h5.8v15.4h-5.8zM246.6,1444.9h5.8v17.5h-5.8zM252.4,1444.9h5.8v19.0h-5.8zM258.2,1444.9h5.8v21.3h-5.8zM264.1,1444.9h5.8v19.9h-5.8zM269.9,1444.9h5.8v15.0h-5.8zM275.7,1444.9h5.8v14.1h-5.8zM281.5,1444.9h5.8v14.2h-5.8zM287.3,1444.9h5.8v13.7h-5.8zM293.1,1444.9h5.8v11.5h-5.8zM298.9,1444.9h5.8v7.6h-5.8zM304.7,1443.6h5.8v1.3h-5.8zM310.5,1436.8h5.8v8.1h-5.8zM316.3,1435.7h5.8v9.2h-5.8zM322.1,1431.2h5.8v13.7h-5.8zM327.9,1431.3h5.8v13.6h-5.8zM333.7,1430.6h5.8v14.3h-5.8zM339.6,1431.6h5.8v13.3h-5.8zM345.4,1433.8h5.8v11.1h-5.8zM351.2,1440.4h5.8v4.5h-5.8zM357.0,1444.9h5.8v1.3h-5.8zM362.8,1444.9h5.8v4.9h-5.8zM368.6,1444.9h5.8v11.5h-5.8zM374.4,1444.9h5.8v15.0h-5.8zM380.2,1444.9h5.8v16.3h-5.8zM386.0,1444.9h5.8v14.2h-5.8zM391.8,1444.9h5.8v15.4h-5.8zM397.6,1444.9h5.8v17.4h-5.8zM403.4,1444.9h5.8v19.1h-5.8zM409.2,1444.9h5.8v15.1h-5.8zM415.1,1444.9h5.8v3.6h-5.8zM420.9,1444.9h5.8v2.1h-5.8zM426.7,1440.8h5.8v4.1h-5.8zM432.5,1433.9h5.8v11.0h-5.8zM438.3,1423.6h5.8v21.3h-5.8zM444.1,1417.9h5.8v27.0h-5.8zM449.9,1420.9h5.8v24.0h-5.8zM455.7,1427.8h5.8v17.1h-5.8zM461.5,1424.4h5.8v20.5h-5.8zM467.3,1424.7h5.8v20.2h-5.8zM473.1,1427.2h5.8v17.7h-5.8zM478.9,1431.5h5.8v13.4h-5.8zM484.7,1438.9h5.8v6.0h-5.8zM490.5,1444.9h5.8v0.4h-5.8zM496.4,1444.9h5.8v3.5h-5.8zM502.2,1444.9h5.8v1.2h-5.8zM508.0,1443.9h5.8v1.0h-5.8zM513.8,1437.3h5.8v7.6h-5.8zM519.6,1434.0h5.8v10.9h-5.8zM525.4,1432.9h5.8v12.0h-5.8zM531.2,1428.7h5.8v16.2h-5.8zM537.0,1430.4h5.8v14.5h-5.8zM542.8,1430.7h5.8v14.2h-5.8zM548.6,1428.6h5.8v16.3h-5.8zM554.4,1428.1h5.8v16.8h-5.8zM560.2,1427.5h5.8v17.4h-5.8zM566.0,1424.8h5.8v20.1h-5.8zM571.9,1422.2h5.8v22.7h-5.8zM577.7,1421.9h5.8v23.0h-5.8zM583.5,1418.9h5.8v26.0h-5.8zM589.3,1413.5h5.8v31.4h-5.8zM595.1,1416.0h5.8v28.9h-5.8zM600.9,1414.1h5.8v30.8h-5.8zM606.7,1415.6h5.8v29.3h-5.8zM612.5,1416.5h5.8v28.4h-5.8zM618.3,1421.9h5.8v23.0h-5.8zM624.1,1428.4h5.8v16.5h-5.8zM629.9,1429.0h5.8v15.9h-5.8zM635.7,1426.6h5.8v18.3h-5.8zM641.5,1427.1h5.8v17.8h-5.8zM647.4,1427.7h5.8v17.2h-5.8zM653.2,1429.8h5.8v15.1h-5.8zM659.0,1436.3h5.8v8.6h-5.8zM664.8,1441.7h5.8v3.2h-5.8zM670.6,1444.9h5.8v1.1h-5.8zM676.4,1444.9h5.8v6.7h-5.8zM682.2,1444.9h5.8v10.7h-5.8zM688.0,1444.9h5.8v13.6h-5.8zM693.8,1444.9h5.8v18.5h-5.8zM699.6,1444.9h5.8v23.5h-5.8zM705.4,1444.9h5.8v25.3h-5.8zM711.2,1444.9h5.8v20.4h-5.8zM717.0,1444.9h5.8v17.6h-5.8zM722.8,1444.9h5.8v9.7h-5.8zM728.7,1444.9h5.8v1.9h-5.8zM734.5,1438.2h5.8v6.7h-5.8zM740.3,1434.4h5.8v10.5h-5.8zM746.1,1433.2h5.8v11.7h-5.8zM751.9,1435.3h5.8v9.6h-5.8zM757.7,1438.5h5.8v6.4h-5.8zM763.5,1438.1h5.8v6.8h-5.8zM769.3,1435.4h5.8v9.5h-5.8zM775.1,1434.7h5.8v10.2h-5.8zM780.9,1434.6h5.8v10.3h-5.8zM786.7,1437.4h5.8v7.5h-5.8zM792.5,1437.3h5.8v7.6h-5.8zM798.3,1434.6h5.8v10.3h-5.8zM804.2,1433.1h5.8v11.8h-5.8zM810.0,1432.2h5.8v12.7h-5.8zM815.8,1435.2h5.8v9.7h-5.8zM821.6,1441.1h5.8v3.8h-5.8zM827.4,1444.9h5.8v0.0h-5.8zM833.2,1444.9h5.8v1.8h-5.8zM839.0,1444.9h5.8v2.8h-5.8zM844.8,1444.9h5.8v6.3h-5.8zM850.6,1444.9h5.8v5.6h-5.8zM856.4,1444.9h5.8v1.6h-5.8zM862.2,1443.3h5.8v1.6h-5.8zM868.0,1442.5h5.8v2.4h-5.8zM873.8,1438.7h5.8v6.2h-5.8zM879.7,1435.4h5.8v9.5h-5.8zM885.5,1436.3h5.8v8.6h-5.8zM891.3,1437.0h5.8v7.9h-5.8zM897.1,1438.7h5.8v6.2h-5.8zM902.9,1441.6h5.8v3.3h-5.8zM908.7,1442.4h5.8v2.5h-5.8zM914.5,1441.2h5.8v3.7h-5.8zM920.3,1441.9h5.8v3.0h-5.8zM926.1,1442.9h5.8v2.0h-5.8zM931.9,1444.9h5.8v0.4h-5.8zM937.7,1444.9h5.8v1.8h-5.8zM943.5,1444.9h5.8v3.6h-5.8zM949.3,1444.9h5.8v5.5h-5.8zM955.1,1444.9h5.8v4.7h-5.8zM961.0,1444.9h5.8v2.8h-5.8zM966.8,1444.6h5.8v0.3h-5.8zM972.6,1444.9h5.8v0.1h-5.8zM978.4,1444.9h5.8v4.4h-5.8zM984.2,1444.9h5.8v8.3h-5.8zM990.0,1444.9h5.8v11.1h-5.8zM995.8,1444.9h5.8v15.3h-5.8zM1001.6,1444.9h5.8v20.9h-5.8zM1007.4,1444.9h5.8v18.5h-5.8zM1013.2,1444.9h5.8v13.6h-5.8zM1019.0,1444.9h5.8v11.6h-5.8zM1024.8,1444.9h5.8v10.2h-5.8zM1030.6,1444.9h5.8v6.8h-5.8zM1036.5,1444.9h5.8v10.3h-5.8zM1042.3,1444.9h5.8v14.0h-5.8zM1048.1,1444.9h5.8v13.0h-5.8zM1053.9,1444.9h5.8v8.7h-5.8zM1059.7,1444.9h5.8v7.5h-5.8zM1065.5,1444.9h5.8v4.7h-5.8zM1071.3,1444.9h5.8v8.5h-5.8zM1077.1,1444.9h5.8v9.2h-5.8zM1082.9,1444.9h5.8v14.1h-5.8zM1088.7,1444.9h5.8v16.3h-5.8zM1094.5,1444.9h5.8v18.6h-5.8zM1100.3,1444.9h5.8v13.5h-5.8zM1106.1,1444.9h5.8v13.9h-5.8zM1111.9,1444.9h5.8v12.0h-5.8zM1117.8,1444.9h5.8v8.8h-5.8zM1123.6,1444.9h5.8v8.3h-5.8zM1129.4,1444.9h5.8v8.1h-5.8zM1135.2,1444.9h5.8v7.0h-5.8zM1141.0,1444.9h5.8v8.0h-5.8zM1146.8,1444.9h5.8v8.7h-5.8zM1152.6,1444.9h5.8v11.3h-5.8zM1158.4,1444.9h5.8v12.4h-5.8zM1164.2,1444.9h5.8v14.0h-5.8zM1170.0,1444.9h5.8v16.2h-5.8zM1175.8,1444.9h5.8v15.6h-5.8zM1181.6,1444.9h5.8v17.3h-5.8zM1187.4,1444.9h5.8v18.1h-5.8zM1193.3,1444.9h5.8v13.3h-5.8zM1199.1,1444.9h5.8v7.5h-5.8zM1204.9,1444.9h5.8v2.7h-5.8zM1210.7,1441.4h5.8v3.5h-5.8zM1216.5,1437.2h5.8v7.7h-5.8zM1222.3,1437.4h5.8v7.5h-5.8zM1228.1,1433.3h5.8v11.6h-5.8zM1233.9,1427.9h5.8v17.0h-5.8zM1239.7,1422.3h5.8v22.6h-5.8zM1245.5,1418.0h5.8v26.9h-5.8zM1251.3,1415.6h5.8v29.3h-5.8zM1257.1,1412.3h5.8v32.6h-5.8zM1262.9,1411.1h5.8v33.8h-5.8zM1268.8,1415.5h5.8v29.4h-5.8zM1274.6,1418.9h5.8v26.0h-5.8zM1280.4,1424.9h5.8v20.0h-5.8zM1286.2,1428.3h5.8v16.6h-5.8zM1292.0,1431.3h5.8v13.6h-5.8zM1297.8,1435.3h5.8v9.6h-5.8zM1303.6,1439.4h5.8v5.5h-5.8zM1309.4,1444.9h5.8v1.3h-5.8zM1315.2,1444.9h5.8v8.6h-5.8zM1321.0,1444.9h5.8v11.3h-5.8zM1326.8,1444.9h5.8v10.7h-5.8zM1332.6,1444.9h5.8v8.6h-5.8zM1338.4,1444.9h5.8v2.5h-5.8zM1344.2,1444.9h5.8v2.2h-5.8zM1350.1,1444.9h5.8v1.4h-5.8zM1355.9,1444.9h5.8v3.4h-5.8zM1361.7,1444.9h5.8v7.2h-5.8zM1367.5,1444.9h5.8v8.9h-5.8zM1373.3,1444.9h5.8v10.8h-5.8zM1379.1,1444.9h5.8v11.7h-5.8zM1384.9,1444.9h5.8v10.6h-5.8zM1390.7,1444.9h5.8v6.1h-5.8zM1396.5,1444.9h5.8v1.2h-5.8zM1402.3,1444.9h5.8v1.5h-5.8z" fill="#52a6d8" stroke="#2b6f9c" stroke-width="0.7"/>
<polyline points="46.3,1427.0 52.1,1430.7 57.9,1434.7 63.7,1439.5 69.5,1445.1 75.3,1451.4 81.1,1455.7 86.9,1458.4 92.7,1459.7 98.5,1460.2 104.3,1458.7 110.2,1457.1 116.0,1456.3 121.8,1456.8 127.6,1458.3 133.4,1460.3 139.2,1463.4 145.0,1467.9 150.8,1473.8 156.6,1479.4 162.4,1485.3 168.2,1490.9 174.0,1496.3 179.8,1501.2 185.7,1505.1 191.5,1507.2 197.3,1507.9 203.1,1508.3 208.9,1508.7 214.7,1508.7 220.5,1509.6 226.3,1510.3 232.1,1511.3 237.9,1514.1 243.7,1518.0 249.5,1522.3 255.3,1527.1 261.1,1532.4 267.0,1537.4 272.8,1541.1 278.6,1544.7 284.4,1548.2 290.2,1551.6 296.0,1554.5 301.8,1556.4 307.6,1556.1 313.4,1554.1 319.2,1551.8 325.0,1548.4 330.8,1545.0 336.6,1541.4 342.5,1538.1 348.3,1535.3 354.1,1534.2 359.9,1534.5 365.7,1535.7 371.5,1538.6 377.3,1542.4 383.1,1546.4 388.9,1550.0 394.7,1553.9 400.5,1558.2 406.3,1563.0 412.1,1566.7 417.9,1567.6 423.8,1568.2 429.6,1567.1 435.4,1564.4 441.2,1559.1 447.0,1552.3 452.8,1546.3 458.6,1542.0 464.4,1536.9 470.2,1531.9 476.0,1527.4 481.8,1524.1 487.6,1522.6 493.4,1522.7 499.3,1523.6 505.1,1523.9 510.9,1523.6 516.7,1521.7 522.5,1519.0 528.3,1516.0 534.1,1511.9 539.9,1508.3 545.7,1504.8 551.5,1500.7 557.3,1496.5 563.1,1492.1 568.9,1487.1 574.8,1481.4 580.6,1475.7 586.4,1469.1 592.2,1461.3 598.0,1454.1 603.8,1446.4 609.6,1439.0 615.4,1431.9 621.2,1426.2 627.0,1422.1 632.8,1418.1 638.6,1413.5 644.4,1409.1 650.2,1404.8 656.1,1401.0 661.9,1398.8 667.7,1398.0 673.5,1398.3 679.3,1400.0 685.1,1402.7 690.9,1406.1 696.7,1410.7 702.5,1416.6 708.3,1422.9 714.1,1428.0 719.9,1432.4 725.7,1434.8 731.6,1435.3 737.4,1433.6 743.2,1431.0 749.0,1428.1 754.8,1425.7 760.6,1424.1 766.4,1422.4 772.2,1420.0 778.0,1417.5 783.8,1414.9 789.6,1413.0 795.4,1411.1 801.2,1408.6 807.1,1405.6 812.9,1402.5 818.7,1400.0 824.5,1399.1 830.3,1399.1 836.1,1399.5 841.9,1400.2 847.7,1401.8 853.5,1403.2 859.3,1403.6 865.1,1403.2 870.9,1402.6 876.7,1401.1 882.6,1398.7 888.4,1396.5 894.2,1394.5 900.0,1393.0 905.8,1392.2 911.6,1391.5 917.4,1390.6 923.2,1389.9 929.0,1389.4 934.8,1389.5 940.6,1389.9 946.4,1390.8 952.2,1392.2 958.0,1393.3 963.9,1394.0 969.7,1394.0 975.5,1394.0 981.3,1395.1 987.1,1397.2 992.9,1400.0 998.7,1403.8 1004.5,1409.0 1010.3,1413.6 1016.1,1417.1 1021.9,1419.9 1027.7,1422.5 1033.5,1424.2 1039.4,1426.8 1045.2,1430.3 1051.0,1433.5 1056.8,1435.7 1062.6,1437.6 1068.4,1438.7 1074.2,1440.8 1080.0,1443.1 1085.8,1446.7 1091.6,1450.7 1097.4,1455.4 1103.2,1458.8 1109.0,1462.2 1114.8,1465.2 1120.7,1467.4 1126.5,1469.5 1132.3,1471.5 1138.1,1473.3 1143.9,1475.3 1149.7,1477.5 1155.5,1480.3 1161.3,1483.4 1167.1,1486.9 1172.9,1490.9 1178.7,1494.8 1184.5,1499.1 1190.3,1503.7 1196.2,1507.0 1202.0,1508.9 1207.8,1509.5 1213.6,1508.7 1219.4,1506.7 1225.2,1504.9 1231.0,1502.0 1236.8,1497.7 1242.6,1492.0 1248.4,1485.3 1254.2,1478.0 1260.0,1469.8 1265.8,1461.4 1271.7,1454.0 1277.5,1447.5 1283.3,1442.5 1289.1,1438.4 1294.9,1435.0 1300.7,1432.6 1306.5,1431.2 1312.3,1431.5 1318.1,1433.7 1323.9,1436.5 1329.7,1439.2 1335.5,1441.3 1341.3,1442.0 1347.2,1442.5 1353.0,1442.9 1358.8,1443.7 1364.6,1445.5 1370.4,1447.8 1376.2,1450.5 1382.0,1453.4 1387.8,1456.1 1393.6,1457.6 1399.4,1457.9 1405.2,1458.3" fill="none" stroke="#e04848" stroke-width="1.3" stroke-linejoin="round"/>
<polyline points="46.3,1436.7 52.1,1445.3 57.9,1451.0 63.7,1458.7 69.5,1467.5 75.3,1476.8 81.1,1472.7 86.9,1469.2 92.7,1464.8 98.5,1462.1 104.3,1452.8 110.2,1450.6 116.0,1453.4 121.8,1458.5 127.6,1464.6 133.4,1468.3 139.2,1475.7 145.0,1486.0 150.8,1497.4 156.6,1501.7 162.4,1509.0 168.2,1513.4 174.0,1517.8 179.8,1520.5 185.7,1520.7 191.5,1515.8 197.3,1510.6 203.1,1510.0 208.9,1510.0 214.7,1508.8 220.5,1513.4 226.3,1512.8 232.1,1515.3 237.9,1525.5 243.7,1533.3 249.5,1539.8 255.3,1546.1 261.1,1553.7 267.0,1557.3 272.8,1556.1 278.6,1558.7 284.4,1562.4 290.2,1565.3 296.0,1566.0 301.8,1564.0 307.6,1554.8 313.4,1546.0 319.2,1542.6 325.0,1534.7 330.8,1531.4 336.6,1527.1 342.5,1524.8 348.3,1524.2 354.1,1529.7 359.9,1535.8 365.7,1540.6 371.5,1550.1 377.3,1557.4 383.1,1562.8 388.9,1564.2 394.7,1569.3 400.5,1575.5 406.3,1582.0 412.1,1581.8 417.9,1571.3 423.8,1570.3 429.6,1563.0 435.4,1553.4 441.2,1537.8 447.0,1525.3 452.8,1522.3 458.6,1524.9 464.4,1516.4 470.2,1511.7 476.0,1509.7 481.8,1510.7 487.6,1516.6 493.4,1523.1 499.3,1527.1 505.1,1525.1 510.9,1522.7 516.7,1514.1 522.5,1508.1 528.3,1504.0 534.1,1495.7 539.9,1493.8 545.7,1490.5 551.5,1484.4 557.3,1479.7 563.1,1474.7 568.9,1466.9 574.8,1458.7 580.6,1452.7 586.4,1443.1 592.2,1429.9 598.0,1425.2 603.8,1415.6 609.6,1409.7 615.4,1403.5 621.2,1403.2 627.0,1405.6 632.8,1402.2 638.6,1395.2 644.4,1391.2 650.2,1387.6 656.1,1385.9 661.9,1390.3 667.7,1394.9 673.5,1399.5 679.3,1406.7 685.1,1413.4 690.9,1419.6 696.7,1429.2 702.5,1440.0 708.3,1448.1 714.1,1448.4 719.9,1450.0 725.7,1444.5 731.6,1437.1 737.4,1426.9 743.2,1420.5 749.0,1416.4 754.8,1416.1 760.6,1417.7 766.4,1415.6 772.2,1410.5 778.0,1407.3 783.8,1404.6 789.6,1405.5 795.4,1403.6 801.2,1398.3 807.1,1393.9 812.9,1389.8 818.7,1390.3 824.5,1395.3 830.3,1399.1 836.1,1401.4 841.9,1403.0 847.7,1408.1 853.5,1408.8 859.3,1405.2 865.1,1401.6 870.9,1400.2 876.7,1394.8 882.6,1389.1 888.4,1387.9 894.2,1386.6 900.0,1386.8 905.8,1388.9 911.6,1389.0 917.4,1386.9 923.2,1386.9 929.0,1387.4 934.8,1389.9 940.6,1391.7 946.4,1394.4 952.2,1397.6 958.0,1398.1 963.9,1396.8 969.7,1393.7 975.5,1394.1 981.3,1399.6 987.1,1405.5 992.9,1411.1 998.7,1419.1 1004.5,1429.9 1010.3,1432.1 1016.1,1430.7 1021.9,1431.5 1027.7,1432.7 1033.5,1431.0 1039.4,1437.1 1045.2,1444.2 1051.0,1446.5 1056.8,1444.4 1062.6,1445.1 1068.4,1443.4 1074.2,1449.3 1080.0,1452.3 1085.8,1460.8 1091.6,1467.0 1097.4,1474.0 1103.2,1472.2 1109.0,1476.2 1114.8,1477.2 1120.7,1476.3 1126.5,1477.8 1132.3,1479.6 1138.1,1480.3 1143.9,1483.3 1149.7,1486.2 1155.5,1491.6 1161.3,1495.7 1167.1,1500.9 1172.9,1507.1 1178.7,1510.4 1184.5,1516.4 1190.3,1521.8 1196.2,1520.3 1202.0,1516.3 1207.8,1512.2 1213.6,1505.1 1219.4,1499.0 1225.2,1497.4 1231.0,1490.4 1236.8,1480.7 1242.6,1469.4 1248.4,1458.4 1254.2,1448.7 1260.0,1437.2 1265.8,1427.6 1271.7,1424.6 1277.5,1421.5 1283.3,1422.5 1289.1,1421.8 1294.9,1421.4 1300.7,1423.0 1306.5,1425.7 1312.3,1432.9 1318.1,1442.3 1323.9,1447.8 1329.7,1449.9 1335.5,1450.0 1341.3,1444.5 1347.2,1444.7 1353.0,1444.3 1358.8,1447.2 1364.6,1452.7 1370.4,1456.7 1376.2,1461.3 1382.0,1465.1 1387.8,1466.7 1393.6,1463.7 1399.4,1459.1 1405.2,1459.7" fill="none" stroke="#111" stroke-width="1.9" stroke-linejoin="round"/>
</g>
<path d="M68.7,461.6L74.2,456.6L79.7,461.6" fill="#fff" stroke="#d4d4d4" stroke-width="1"/>
<rect x="56.3" y="461.6" width="35.7" height="10.6" fill="#fff" stroke="#cfcfcf" stroke-width="1"/>
<text x="74.2" y="470.0" font-size="10" fill="#111" font-weight="normal" text-anchor="middle" font-family="Liberation Sans" textLength="31.7" lengthAdjust="spacingAndGlyphs" >13.610</text>
<path d="M150.4,509.7L155.9,504.7L161.4,509.7" fill="#fff" stroke="#d4d4d4" stroke-width="1"/>
<rect x="137.8" y="509.7" width="36.3" height="10.6" fill="#fff" stroke="#cfcfcf" stroke-width="1"/>
<text x="155.9" y="518.1" font-size="10" fill="#111" font-weight="normal" text-anchor="middle" font-family="Liberation Sans" textLength="32.3" lengthAdjust="spacingAndGlyphs" >12.810</text>
<path d="M185.0,455.2L190.5,460.2L196.0,455.2" fill="#fff" stroke="#d4d4d4" stroke-width="1"/>
<rect x="173.0" y="444.6" width="35.0" height="10.6" fill="#fff" stroke="#cfcfcf" stroke-width="1"/>
<text x="190.5" y="453.0" font-size="10" fill="#111" font-weight="normal" text-anchor="middle" font-family="Liberation Sans" textLength="31.0" lengthAdjust="spacingAndGlyphs" >13.500</text>
<path d="M266.1,572.8L271.6,577.8L277.1,572.8" fill="#fff" stroke="#d4d4d4" stroke-width="1"/>
<rect x="254.8" y="561.1" width="33.6" height="11.7" fill="#fff" stroke="#cfcfcf" stroke-width="1"/>
<text x="271.6" y="570.6" font-size="10" fill="#111" font-weight="normal" text-anchor="middle" font-family="Liberation Sans" textLength="29.6" lengthAdjust="spacingAndGlyphs" >11.650</text>
<path d="M260.7,647.0L266.2,642.0L271.7,647.0" fill="#fff" stroke="#d4d4d4" stroke-width="1"/>
<rect x="248.6" y="647.0" width="35.2" height="12.5" fill="#fff" stroke="#cfcfcf" stroke-width="1"/>
<text x="266.2" y="657.3" font-size="10" fill="#111" font-weight="normal" text-anchor="middle" font-family="Liberation Sans" textLength="31.2" lengthAdjust="spacingAndGlyphs" >10.790</text>
<path d="M289.5,668.0L295.0,663.0L300.5,668.0" fill="#fff" stroke="#d4d4d4" stroke-width="1"/>
<rect x="279.0" y="668.0" width="32.0" height="11.0" fill="#fff" stroke="#cfcfcf" stroke-width="1"/>
<text x="295.0" y="676.8" font-size="10" fill="#111" font-weight="normal" text-anchor="middle" font-family="Liberation Sans" textLength="28.0" lengthAdjust="spacingAndGlyphs" >10.520</text>
<path d="M336.2,587.7L341.7,592.7L347.2,587.7" fill="#fff" stroke="#d4d4d4" stroke-width="1"/>
<rect x="324.4" y="576.0" width="34.6" height="11.7" fill="#fff" stroke="#cfcfcf" stroke-width="1"/>
<text x="341.7" y="585.5" font-size="10" fill="#111" font-weight="normal" text-anchor="middle" font-family="Liberation Sans" textLength="30.6" lengthAdjust="spacingAndGlyphs" >11.420</text>
<path d="M411.4,753.1L416.9,758.1L422.4,753.1" fill="#fff" stroke="#d4d4d4" stroke-width="1"/>
<rect x="401.9" y="741.7" width="30.1" height="11.4" fill="#fff" stroke="#cfcfcf" stroke-width="1"/>
<text x="416.9" y="750.9" font-size="10" fill="#111" font-weight="normal" text-anchor="middle" font-family="Liberation Sans" textLength="26.1" lengthAdjust="spacingAndGlyphs" >9.290</text>
<path d="M440.1,704.2L445.6,709.2L451.1,704.2" fill="#fff" stroke="#d4d4d4" stroke-width="1"/>
<rect x="431.0" y="693.8" width="29.2" height="10.5" fill="#fff" stroke="#cfcfcf" stroke-width="1"/>
<text x="445.6" y="702.0" font-size="10" fill="#111" font-weight="normal" text-anchor="middle" font-family="Liberation Sans" textLength="25.2" lengthAdjust="spacingAndGlyphs" >9.880</text>
<path d="M463.4,723.0L468.9,728.0L474.4,723.0" fill="#fff" stroke="#d4d4d4" stroke-width="1"/>
<rect x="454.6" y="712.0" width="28.5" height="11.0" fill="#fff" stroke="#cfcfcf" stroke-width="1"/>
<text x="468.9" y="720.8" font-size="10" fill="#111" font-weight="normal" text-anchor="middle" font-family="Liberation Sans" textLength="24.5" lengthAdjust="spacingAndGlyphs" >9.650</text>
<path d="M370.5,802.0L376.0,797.0L381.5,802.0" fill="#fff" stroke="#d4d4d4" stroke-width="1"/>
<rect x="361.2" y="802.0" width="29.6" height="11.5" fill="#fff" stroke="#cfcfcf" stroke-width="1"/>
<text x="376.0" y="811.3" font-size="10" fill="#111" font-weight="normal" text-anchor="middle" font-family="Liberation Sans" textLength="25.6" lengthAdjust="spacingAndGlyphs" >8.900</text>
<path d="M399.7,894.2L405.2,889.2L410.7,894.2" fill="#fff" stroke="#d4d4d4" stroke-width="1"/>
<rect x="390.4" y="894.2" width="29.6" height="11.6" fill="#fff" stroke="#cfcfcf" stroke-width="1"/>
<text x="405.2" y="903.6" font-size="10" fill="#111" font-weight="normal" text-anchor="middle" font-family="Liberation Sans" textLength="25.6" lengthAdjust="spacingAndGlyphs" >7.920</text>
<path d="M457.8,834.4L463.3,829.4L468.8,834.4" fill="#fff" stroke="#d4d4d4" stroke-width="1"/>
<rect x="448.3" y="834.4" width="30.0" height="12.5" fill="#fff" stroke="#cfcfcf" stroke-width="1"/>
<text x="463.3" y="844.7" font-size="10" fill="#111" font-weight="normal" text-anchor="middle" font-family="Liberation Sans" textLength="26.0" lengthAdjust="spacingAndGlyphs" >8.540</text>
<path d="M491.0,920.0L496.5,915.0L502.0,920.0" fill="#fff" stroke="#d4d4d4" stroke-width="1"/>
<rect x="481.0" y="920.0" width="31.0" height="12.5" fill="#fff" stroke="#cfcfcf" stroke-width="1"/>
<text x="496.5" y="930.3" font-size="10" fill="#111" font-weight="normal" text-anchor="middle" font-family="Liberation Sans" textLength="27.0" lengthAdjust="spacingAndGlyphs" >7.670</text>
<path d="M527.4,778.3L532.9,783.3L538.4,778.3" fill="#fff" stroke="#d4d4d4" stroke-width="1"/>
<rect x="518.3" y="766.9" width="29.2" height="11.4" fill="#fff" stroke="#cfcfcf" stroke-width="1"/>
<text x="532.9" y="776.1" font-size="10" fill="#111" font-weight="normal" text-anchor="middle" font-family="Liberation Sans" textLength="25.2" lengthAdjust="spacingAndGlyphs" >9.010</text>
<path d="M521.1,853.3L526.6,848.3L532.1,853.3" fill="#fff" stroke="#d4d4d4" stroke-width="1"/>
<rect x="512.0" y="853.3" width="29.2" height="11.5" fill="#fff" stroke="#cfcfcf" stroke-width="1"/>
<text x="526.6" y="862.6" font-size="10" fill="#111" font-weight="normal" text-anchor="middle" font-family="Liberation Sans" textLength="25.2" lengthAdjust="spacingAndGlyphs" >8.350</text>
<path d="M539.0,872.0L544.5,867.0L550.0,872.0" fill="#fff" stroke="#d4d4d4" stroke-width="1"/>
<rect x="529.8" y="872.0" width="29.5" height="12.6" fill="#fff" stroke="#cfcfcf" stroke-width="1"/>
<text x="544.5" y="882.4" font-size="10" fill="#111" font-weight="normal" text-anchor="middle" font-family="Liberation Sans" textLength="25.5" lengthAdjust="spacingAndGlyphs" >8.140</text>
<path d="M608.3,670.0L613.8,675.0L619.3,670.0" fill="#fff" stroke="#d4d4d4" stroke-width="1"/>
<rect x="596.8" y="659.6" width="34.0" height="10.4" fill="#fff" stroke="#cfcfcf" stroke-width="1"/>
<text x="613.8" y="667.8" font-size="10" fill="#111" font-weight="normal" text-anchor="middle" font-family="Liberation Sans" textLength="30.0" lengthAdjust="spacingAndGlyphs" >10.290</text>
<path d="M620.3,741.9L625.8,736.9L631.3,741.9" fill="#fff" stroke="#d4d4d4" stroke-width="1"/>
<rect x="611.0" y="741.9" width="29.6" height="10.4" fill="#fff" stroke="#cfcfcf" stroke-width="1"/>
<text x="625.8" y="750.1" font-size="10" fill="#111" font-weight="normal" text-anchor="middle" font-family="Liberation Sans" textLength="25.6" lengthAdjust="spacingAndGlyphs" >9.590</text>
<path d="M638.1,632.0L643.6,637.0L649.1,632.0" fill="#fff" stroke="#d4d4d4" stroke-width="1"/>
<rect x="627.0" y="621.8" width="33.3" height="10.2" fill="#fff" stroke="#cfcfcf" stroke-width="1"/>
<text x="643.6" y="629.8" font-size="10" fill="#111" font-weight="normal" text-anchor="middle" font-family="Liberation Sans" textLength="29.3" lengthAdjust="spacingAndGlyphs" >10.800</text>
<path d="M679.0,682.8L684.5,687.8L690.0,682.8" fill="#fff" stroke="#d4d4d4" stroke-width="1"/>
<rect x="668.0" y="673.4" width="33.0" height="9.4" fill="#fff" stroke="#cfcfcf" stroke-width="1"/>
<text x="684.5" y="680.5" font-size="10" fill="#111" font-weight="normal" text-anchor="middle" font-family="Liberation Sans" textLength="29.0" lengthAdjust="spacingAndGlyphs" >10.130</text>
<path d="M672.2,739.5L677.7,734.5L683.2,739.5" fill="#fff" stroke="#d4d4d4" stroke-width="1"/>
<rect x="662.9" y="739.5" width="29.6" height="10.1" fill="#fff" stroke="#cfcfcf" stroke-width="1"/>
<text x="677.7" y="747.4" font-size="10" fill="#111" font-weight="normal" text-anchor="middle" font-family="Liberation Sans" textLength="25.6" lengthAdjust="spacingAndGlyphs" >9.630</text>
<path d="M701.8,794.5L707.3,789.5L712.8,794.5" fill="#fff" stroke="#d4d4d4" stroke-width="1"/>
<rect x="691.6" y="794.5" width="31.4" height="10.2" fill="#fff" stroke="#cfcfcf" stroke-width="1"/>
<text x="707.3" y="802.5" font-size="10" fill="#111" font-weight="normal" text-anchor="middle" font-family="Liberation Sans" textLength="27.4" lengthAdjust="spacingAndGlyphs" >8.990</text>
<path d="M736.5,637.0L742.0,642.0L747.5,637.0" fill="#fff" stroke="#d4d4d4" stroke-width="1"/>
<rect x="724.7" y="626.9" width="34.7" height="10.1" fill="#fff" stroke="#cfcfcf" stroke-width="1"/>
<text x="742.0" y="634.8" font-size="10" fill="#111" font-weight="normal" text-anchor="middle" font-family="Liberation Sans" textLength="30.7" lengthAdjust="spacingAndGlyphs" >10.740</text>
<path d="M754.1,726.0L759.6,721.0L765.1,726.0" fill="#fff" stroke="#d4d4d4" stroke-width="1"/>
<rect x="744.6" y="726.0" width="30.0" height="11.0" fill="#fff" stroke="#cfcfcf" stroke-width="1"/>
<text x="759.6" y="734.8" font-size="10" fill="#111" font-weight="normal" text-anchor="middle" font-family="Liberation Sans" textLength="26.0" lengthAdjust="spacingAndGlyphs" >9.790</text>
<path d="M807.4,582.0L812.9,587.0L818.4,582.0" fill="#fff" stroke="#d4d4d4" stroke-width="1"/>
<rect x="795.7" y="571.0" width="34.4" height="11.0" fill="#fff" stroke="#cfcfcf" stroke-width="1"/>
<text x="812.9" y="579.8" font-size="10" fill="#111" font-weight="normal" text-anchor="middle" font-family="Liberation Sans" textLength="30.4" lengthAdjust="spacingAndGlyphs" >11.500</text>
<path d="M829.8,599.6L835.3,604.6L840.8,599.6" fill="#fff" stroke="#d4d4d4" stroke-width="1"/>
<rect x="817.8" y="588.5" width="35.1" height="11.1" fill="#fff" stroke="#cfcfcf" stroke-width="1"/>
<text x="835.3" y="597.4" font-size="10" fill="#111" font-weight="normal" text-anchor="middle" font-family="Liberation Sans" textLength="31.1" lengthAdjust="spacingAndGlyphs" >11.240</text>
<path d="M823.7,659.5L829.2,654.5L834.7,659.5" fill="#fff" stroke="#d4d4d4" stroke-width="1"/>
<rect x="811.3" y="659.5" width="35.8" height="10.4" fill="#fff" stroke="#cfcfcf" stroke-width="1"/>
<text x="829.2" y="667.7" font-size="10" fill="#111" font-weight="normal" text-anchor="middle" font-family="Liberation Sans" textLength="31.8" lengthAdjust="spacingAndGlyphs" >10.630</text>
<path d="M964.0,518.9L969.5,523.9L975.0,518.9" fill="#fff" stroke="#d4d4d4" stroke-width="1"/>
<rect x="952.0" y="507.8" width="35.1" height="11.1" fill="#fff" stroke="#cfcfcf" stroke-width="1"/>
<text x="969.5" y="516.7" font-size="10" fill="#111" font-weight="normal" text-anchor="middle" font-family="Liberation Sans" textLength="31.1" lengthAdjust="spacingAndGlyphs" >12.450</text>
<path d="M1021.3,545.6L1026.8,550.6L1032.3,545.6" fill="#fff" stroke="#d4d4d4" stroke-width="1"/>
<rect x="1009.2" y="534.5" width="35.2" height="11.1" fill="#fff" stroke="#cfcfcf" stroke-width="1"/>
<text x="1026.8" y="543.4" font-size="10" fill="#111" font-weight="normal" text-anchor="middle" font-family="Liberation Sans" textLength="31.2" lengthAdjust="spacingAndGlyphs" >12.040</text>
<path d="M998.2,623.0L1003.7,618.0L1009.2,623.0" fill="#fff" stroke="#d4d4d4" stroke-width="1"/>
<rect x="985.8" y="623.0" width="35.8" height="12.4" fill="#fff" stroke="#cfcfcf" stroke-width="1"/>
<text x="1003.7" y="633.2" font-size="10" fill="#111" font-weight="normal" text-anchor="middle" font-family="Liberation Sans" textLength="31.8" lengthAdjust="spacingAndGlyphs" >11.110</text>
<path d="M1038.9,635.4L1044.4,630.4L1049.9,635.4" fill="#fff" stroke="#d4d4d4" stroke-width="1"/>
<rect x="1026.8" y="635.4" width="35.2" height="11.0" fill="#fff" stroke="#cfcfcf" stroke-width="1"/>
<text x="1044.4" y="644.2" font-size="10" fill="#111" font-weight="normal" text-anchor="middle" font-family="Liberation Sans" textLength="31.2" lengthAdjust="spacingAndGlyphs" >10.960</text>
<path d="M1091.3,658.2L1096.8,653.2L1102.3,658.2" fill="#fff" stroke="#d4d4d4" stroke-width="1"/>
<rect x="1078.9" y="658.2" width="35.8" height="11.0" fill="#fff" stroke="#cfcfcf" stroke-width="1"/>
<text x="1096.8" y="667.0" font-size="10" fill="#111" font-weight="normal" text-anchor="middle" font-family="Liberation Sans" textLength="31.8" lengthAdjust="spacingAndGlyphs" >10.640</text>
<path d="M1260.2,590.5L1265.7,595.5L1271.2,590.5" fill="#fff" stroke="#d4d4d4" stroke-width="1"/>
<rect x="1248.0" y="579.4" width="35.3" height="11.1" fill="#fff" stroke="#cfcfcf" stroke-width="1"/>
<text x="1265.7" y="588.3" font-size="10" fill="#111" font-weight="normal" text-anchor="middle" font-family="Liberation Sans" textLength="31.3" lengthAdjust="spacingAndGlyphs" >11.375</text>
<path d="M1334.8,615.1L1340.3,620.1L1345.8,615.1" fill="#fff" stroke="#d4d4d4" stroke-width="1"/>
<rect x="1322.6" y="603.6" width="35.4" height="11.5" fill="#fff" stroke="#cfcfcf" stroke-width="1"/>
<text x="1340.3" y="612.9" font-size="10" fill="#111" font-weight="normal" text-anchor="middle" font-family="Liberation Sans" textLength="31.4" lengthAdjust="spacingAndGlyphs" >11.030</text>
<path d="M1392.3,647.0L1397.8,652.0L1403.3,647.0" fill="#fff" stroke="#d4d4d4" stroke-width="1"/>
<rect x="1381.2" y="635.9" width="33.3" height="11.1" fill="#fff" stroke="#cfcfcf" stroke-width="1"/>
<text x="1397.8" y="644.8" font-size="10" fill="#111" font-weight="normal" text-anchor="middle" font-family="Liberation Sans" textLength="29.3" lengthAdjust="spacingAndGlyphs" >10.610</text>
<path d="M1311.1,712.6L1316.6,707.6L1322.1,712.6" fill="#fff" stroke="#d4d4d4" stroke-width="1"/>
<rect x="1301.4" y="712.6" width="30.3" height="11.5" fill="#fff" stroke="#cfcfcf" stroke-width="1"/>
<text x="1316.6" y="721.9" font-size="10" fill="#111" font-weight="normal" text-anchor="middle" font-family="Liberation Sans" textLength="26.3" lengthAdjust="spacingAndGlyphs" >9.950</text>
<path d="M1381.1,723.7L1386.6,718.7L1392.1,723.7" fill="#fff" stroke="#d4d4d4" stroke-width="1"/>
<rect x="1371.7" y="723.7" width="29.7" height="11.1" fill="#fff" stroke="#cfcfcf" stroke-width="1"/>
<text x="1386.6" y="732.6" font-size="10" fill="#111" font-weight="normal" text-anchor="middle" font-family="Liberation Sans" textLength="25.7" lengthAdjust="spacingAndGlyphs" >9.820</text>
<path d="M1189.4,773.2L1194.9,768.2L1200.4,773.2" fill="#fff" stroke="#d4d4d4" stroke-width="1"/>
<rect x="1180.3" y="773.2" width="29.3" height="11.1" fill="#fff" stroke="#cfcfcf" stroke-width="1"/>
<text x="1194.9" y="782.1" font-size="10" fill="#111" font-weight="normal" text-anchor="middle" font-family="Liberation Sans" textLength="25.3" lengthAdjust="spacingAndGlyphs" >9.230</text>
<line x1="499.5" y1="913.75" x2="1991.8" y2="600" stroke="#111" stroke-width="2.3" stroke-dasharray="10.5,5"/>
<line x1="1387" y1="715.5" x2="1556" y2="715.5" stroke="#d43030" stroke-width="1.8" stroke-dasharray="3.5,2.5"/>
<line x1="1196" y1="764.5" x2="1556" y2="764.5" stroke="#d43030" stroke-width="1.8" stroke-dasharray="3.5,2.5"/>
<rect x="1401" y="654.4" width="8.5" height="32.6" fill="#f8c040" opacity="0.55"/>
<path d="M1405.2,655V685.6" stroke="#d03018" stroke-width="2.4"/>
<text x="968.0" y="489.2" font-size="18" fill="#d42020" font-weight="bold" text-anchor="middle" font-family="Liberation Sans" >1</text>
<text x="1194.0" y="812.6" font-size="18" fill="#d42020" font-weight="bold" text-anchor="middle" font-family="Liberation Sans" >2</text>
<text x="1798.0" y="321.0" font-size="18" fill="#d42020" font-weight="bold" text-anchor="middle" font-family="Liberation Sans" >3</text>
<text x="1885.0" y="404.5" font-size="18" fill="#d42020" font-weight="bold" text-anchor="middle" font-family="Liberation Sans" >4</text>
<text x="1984.0" y="237.3" font-size="18" fill="#d42020" font-weight="bold" text-anchor="middle" font-family="Liberation Sans" >5</text>
<text x="1198.5" y="839.8" font-size="18" fill="#111" font-weight="bold" text-anchor="middle" font-family="Liberation Sans" textLength="28.3" lengthAdjust="spacingAndGlyphs" >ICL</text>
<text x="495.5" y="975.0" font-size="18" fill="#111" font-weight="bold" text-anchor="middle" font-family="Liberation Sans" textLength="29" lengthAdjust="spacingAndGlyphs" >ICL</text>
<text x="703.6" y="831.1" font-size="13" fill="#1e1e9a" font-weight="bold" text-anchor="middle" font-family="Liberation Sans" textLength="16.8" lengthAdjust="spacingAndGlyphs" >DC</text>
<text x="1005.7" y="659.2" font-size="13" fill="#1e1e9a" font-weight="bold" text-anchor="middle" font-family="Liberation Sans" textLength="17" lengthAdjust="spacingAndGlyphs" >DC</text>
<text x="1389.0" y="807.5" font-size="13" fill="#1e1e9a" font-weight="bold" text-anchor="middle" font-family="Liberation Sans" textLength="17.7" lengthAdjust="spacingAndGlyphs" >DC</text>
<text x="1261.4" y="565.2" font-size="16" fill="#111" font-weight="bold" text-anchor="middle" font-family="Liberation Sans" >i</text>
<text x="1391.3" y="782.3" font-size="16" fill="#111" font-weight="bold" text-anchor="middle" font-family="Liberation Sans" >ii</text>
<text x="1615.2" y="455.0" font-size="16" fill="#111" font-weight="bold" text-anchor="middle" font-family="Liberation Sans" >iii</text>
<text x="1713.3" y="542.0" font-size="16" fill="#111" font-weight="bold" text-anchor="middle" font-family="Liberation Sans" >iv</text>
<text x="1798.7" y="346.5" font-size="16" fill="#111" font-weight="bold" text-anchor="middle" font-family="Liberation Sans" >v</text>
<text x="1314.5" y="737.9" font-size="15" fill="#5f8f5f" font-weight="bold" text-anchor="middle" font-family="Liberation Sans" >a</text>
<text x="1338.2" y="598.5" font-size="15" fill="#5f8f5f" font-weight="bold" text-anchor="middle" font-family="Liberation Sans" >b</text>
<text x="1390.3" y="755.0" font-size="15" fill="#5f8f5f" font-weight="bold" text-anchor="middle" font-family="Liberation Sans" >c</text>
<text x="46.0" y="99.5" font-size="14.5" fill="#111" font-weight="bold" text-anchor="start" font-family="Liberation Sans" textLength="30" lengthAdjust="spacingAndGlyphs" >USO</text>
<text x="82.5" y="99.5" font-size="13" fill="#111" font-weight="normal" text-anchor="start" font-family="Liberation Sans" textLength="143.5" lengthAdjust="spacingAndGlyphs" >United States Oil Fund, LP</text>
<text x="232.0" y="99.5" font-size="10.5" fill="#111" font-weight="normal" text-anchor="start" font-family="Liberation Sans" textLength="77.5" lengthAdjust="spacingAndGlyphs" >NYSE + BATS</text>
<text x="45.5" y="113.8" font-size="11" fill="#111" font-weight="normal" text-anchor="start" font-family="Liberation Sans" textLength="122.5" lengthAdjust="spacingAndGlyphs" >23-Sep-2016 12:40pm</text>
<text x="1412.7" y="98.5" font-size="10.5" fill="#555" font-weight="normal" text-anchor="end" font-family="Liberation Sans" textLength="104" lengthAdjust="spacingAndGlyphs" >© StockCharts.com</text>
<text x="915.7" y="113.7" font-size="12" fill="#111" font-weight="bold" text-anchor="start" font-family="Liberation Sans" textLength="32.5" lengthAdjust="spacingAndGlyphs" >Open</text>
<text x="953.3" y="113.7" font-size="11" fill="#111" font-weight="normal" text-anchor="start" font-family="Liberation Sans" textLength="29.9" lengthAdjust="spacingAndGlyphs" >10.49</text>
<text x="990.1" y="113.7" font-size="12" fill="#111" font-weight="bold" text-anchor="start" font-family="Liberation Sans" textLength="27.9" lengthAdjust="spacingAndGlyphs" >High</text>
<text x="1023.1" y="113.7" font-size="11" fill="#111" font-weight="normal" text-anchor="start" font-family="Liberation Sans" textLength="29.9" lengthAdjust="spacingAndGlyphs" >10.58</text>
<text x="1059.9" y="113.7" font-size="12" fill="#111" font-weight="bold" text-anchor="start" font-family="Liberation Sans" textLength="27.4" lengthAdjust="spacingAndGlyphs" >Low</text>
<text x="1092.9" y="113.7" font-size="11" fill="#111" font-weight="normal" text-anchor="start" font-family="Liberation Sans" textLength="29.9" lengthAdjust="spacingAndGlyphs" >10.19</text>
<text x="1129.7" y="113.7" font-size="12" fill="#111" font-weight="bold" text-anchor="start" font-family="Liberation Sans" textLength="27.4" lengthAdjust="spacingAndGlyphs" >Last</text>
<text x="1162.7" y="113.7" font-size="11" fill="#111" font-weight="normal" text-anchor="start" font-family="Liberation Sans" textLength="29.2" lengthAdjust="spacingAndGlyphs" >10.19</text>
<text x="1199.5" y="113.7" font-size="12" fill="#111" font-weight="bold" text-anchor="start" font-family="Liberation Sans" textLength="48.7" lengthAdjust="spacingAndGlyphs" >Volume</text>
<text x="1252.8" y="113.7" font-size="11" fill="#111" font-weight="normal" text-anchor="start" font-family="Liberation Sans" textLength="34.8" lengthAdjust="spacingAndGlyphs" >23.8M</text>
<text x="1294.7" y="113.7" font-size="12" fill="#111" font-weight="bold" text-anchor="start" font-family="Liberation Sans" textLength="25.4" lengthAdjust="spacingAndGlyphs" >Chg</text>
<text x="1323.4" y="113.7" font-size="11" fill="#111" font-weight="normal" text-anchor="start" font-family="Liberation Sans" textLength="85.5" lengthAdjust="spacingAndGlyphs" >-0.34 (-3.23%)</text>
<path d="M1410.5,108.5h6.5l-3.25,4z" fill="#b03040"/>
<rect x="46.6" y="118.3" width="271.4" height="13.700000000000003" fill="#fff"/>
<rect x="46.6" y="330.2" width="135.4" height="26.80000000000001" fill="#fff"/>
<rect x="46.6" y="952.6" width="102.4" height="14.399999999999977" fill="#fff"/>
<rect x="46.6" y="1165.3" width="102.4" height="14.700000000000045" fill="#fff"/>
<rect x="46.6" y="1377.6" width="267.4" height="14.400000000000091" fill="#fff"/>
<path d="M49.2,124.3H59.3" stroke="#111" stroke-width="2.4"/>
<text x="63.8" y="128.8" font-size="11" fill="#222" font-weight="normal" text-anchor="start" font-family="Liberation Sans" textLength="213" lengthAdjust="spacingAndGlyphs" >Full STO %K(14,3) %D(3) 45.73,</text>
<text x="281.2" y="128.8" font-size="11" fill="#d03030" font-weight="normal" text-anchor="start" font-family="Liberation Sans" textLength="35" lengthAdjust="spacingAndGlyphs" >37.79</text>
<path d="M50,334v8M49,336h1M50,340h1.5M54,333v9M53,339h1M54,335h1.5M57.5,334v8M56.5,336h1M57.5,341h1.5" stroke="#111" stroke-width="1.2"/>
<text x="63.5" y="341.6" font-size="11.5" fill="#222" font-weight="normal" text-anchor="start" font-family="Liberation Sans" textLength="115.5" lengthAdjust="spacingAndGlyphs" >USO (Daily) 10.19</text>
<path d="M49.5,349.8H59" stroke="#c8386a" stroke-width="2.4"/>
<text x="61.6" y="354.3" font-size="11" fill="#c8386a" font-weight="normal" text-anchor="start" font-family="Liberation Sans" textLength="68.5" lengthAdjust="spacingAndGlyphs" >MA(10) 10.24</text>
<path d="M49,963.9L52,954.9L55,958.9L57,956.9L59.5,963.9Z" fill="#5f8a5f" stroke="#333" stroke-width="0.8"/>
<text x="63.5" y="963.9" font-size="11" fill="#222" font-weight="normal" text-anchor="start" font-family="Liberation Sans" textLength="83.1" lengthAdjust="spacingAndGlyphs" >RSI(5) 44.19</text>
<path d="M49,1176.6L52,1167.6L55,1171.6L57,1169.6L59.5,1176.6Z" fill="#5f8a5f" stroke="#333" stroke-width="0.8"/>
<text x="63.5" y="1176.6" font-size="11" fill="#222" font-weight="normal" text-anchor="start" font-family="Liberation Sans" textLength="83.75" lengthAdjust="spacingAndGlyphs" >RSI(3) 40.75</text>
<path d="M48.8,1384.4H59.5" stroke="#111" stroke-width="2.4"/>
<text x="63.4" y="1388.7" font-size="11" fill="#222" font-weight="normal" text-anchor="start" font-family="Liberation Sans" textLength="145.6" lengthAdjust="spacingAndGlyphs" >MACD(12,26,9) -0.097</text>
<text x="209.0" y="1388.7" font-size="11" fill="#d03030" font-weight="normal" text-anchor="start" font-family="Liberation Sans" textLength="53.7" lengthAdjust="spacingAndGlyphs" >, -0.086</text>
<text x="262.7" y="1388.7" font-size="11" fill="#4a9ac8" font-weight="normal" text-anchor="start" font-family="Liberation Sans" textLength="49.8" lengthAdjust="spacingAndGlyphs" >, -0.010</text>
<path d="M1410.7,231.4L1417.0,226.5H1449.5V236.3H1417Z" fill="#fff" stroke="#111" stroke-width="1.2"/>
<text x="1433.2" y="234.3" font-size="11" fill="#111" font-weight="normal" text-anchor="middle" font-family="Liberation Sans" textLength="30.5" lengthAdjust="spacingAndGlyphs" >45.73</text>
<path d="M1410.7,248.1L1417.0,242.7H1449.5V253.4H1417Z" fill="#fff" stroke="#d03030" stroke-width="1.2"/>
<text x="1433.2" y="251.4" font-size="11" fill="#111" font-weight="normal" text-anchor="middle" font-family="Liberation Sans" textLength="30.5" lengthAdjust="spacingAndGlyphs" >37.79</text>
<path d="M1410.7,681.0L1417.0,676.0H1449.5V686.0H1417Z" fill="#fff" stroke="#c8386a" stroke-width="1.2"/>
<path d="M1410.7,686.0L1417.0,680.0H1449.5V692.0H1417Z" fill="#fff" stroke="#111" stroke-width="1.2"/>
<text x="1433.2" y="690.0" font-size="11" fill="#111" font-weight="bold" text-anchor="middle" font-family="Liberation Sans" textLength="30.5" lengthAdjust="spacingAndGlyphs" >10.19</text>
<path d="M1410.7,1069.8L1417.0,1064.5H1449.5V1075.2H1417Z" fill="#fff" stroke="#111" stroke-width="1.2"/>
<text x="1433.2" y="1073.2" font-size="11" fill="#111" font-weight="normal" text-anchor="middle" font-family="Liberation Sans" textLength="30.5" lengthAdjust="spacingAndGlyphs" >44.19</text>
<path d="M1410.7,1289.0L1417.0,1283.6H1449.5V1294.5H1417Z" fill="#fff" stroke="#111" stroke-width="1.2"/>
<text x="1433.2" y="1292.5" font-size="11" fill="#111" font-weight="normal" text-anchor="middle" font-family="Liberation Sans" textLength="30.5" lengthAdjust="spacingAndGlyphs" >40.75</text>
<path d="M1410.7,1455.2L1417.0,1450.5H1452.8V1460.0H1417Z" fill="#fff" stroke="#d03030" stroke-width="1.2"/>
<path d="M1410.7,1445.5L1417.0,1440.5H1452.8V1450.5H1417Z" fill="#fff" stroke="#4a9ac8" stroke-width="1.2"/>
<text x="1434.9" y="1448.5" font-size="11" fill="#111" font-weight="normal" text-anchor="middle" font-family="Liberation Sans" textLength="33.8" lengthAdjust="spacingAndGlyphs" >-0.010</text>
<path d="M1410.7,1460.2L1417.0,1455.4H1452.8V1465.1H1417Z" fill="#fff" stroke="#111" stroke-width="1.2"/>
<text x="1434.9" y="1463.1" font-size="11" fill="#111" font-weight="normal" text-anchor="middle" font-family="Liberation Sans" textLength="33.8" lengthAdjust="spacingAndGlyphs" >-0.097</text>
<rect x="27" y="1533.5" width="5" height="3" fill="#4a3fb0"/>
<path d="M11,88L16,92.5L11,97" fill="none" stroke="#6a8ea0" stroke-width="3.2"/>
<rect x="9.4" y="102.5" width="12" height="39" fill="#eeeeee" stroke="#b8b8b8" stroke-width="1"/>
<rect x="9.4" y="144.75" width="12" height="39" fill="#eeeeee" stroke="#b8b8b8" stroke-width="1"/>
<rect x="9.4" y="187.5" width="12" height="39" fill="#eeeeee" stroke="#b8b8b8" stroke-width="1"/>
<path d="M14.3,232.5V245.6M8,239H20.6" stroke="#6a8ea0" stroke-width="2.6"/>
<path d="M74.7,15.6 A17,17 0 0 1 98,15.6" fill="none" stroke="#000" stroke-width="2.8"/>
<path d="M78.6,20.2 A11.5,11.5 0 0 1 94.2,20.2" fill="none" stroke="#000" stroke-width="2.8"/>
<path d="M81.5,24 L86.3,28.8 L91.2,24 A7,7 0 0 0 81.5,24Z" fill="#000"/>
<path d="M1904.5,19.5L1922,12L1914.5,29.5L1913,21Z" fill="#000"/>
<rect x="1988.5" y="11.5" width="44" height="18" rx="3" fill="none" stroke="#000" stroke-width="1.3"/>
<rect x="1990.5" y="13.3" width="24.5" height="14.5" fill="#000"/>
<path d="M2034,17.5a3,3 0 0 1 0,6z" fill="#000"/>
<text x="13.2" y="28.8" font-size="24" fill="#000" font-weight="bold" text-anchor="start" font-family="Liberation Sans" textLength="47.8" lengthAdjust="spacingAndGlyphs" >iPad</text>
<text x="972.5" y="29.5" font-size="24" fill="#000" font-weight="bold" text-anchor="start" font-family="Liberation Sans" textLength="111.3" lengthAdjust="spacingAndGlyphs" >12:41 PM</text>
<text x="931.2" y="63.0" font-size="23" fill="#000" font-weight="normal" text-anchor="start" font-family="Liberation Sans" textLength="185.7" lengthAdjust="spacingAndGlyphs" >stockcharts.com</text>
<text x="1935.7" y="29.4" font-size="24" fill="#000" font-weight="normal" text-anchor="start" font-family="Liberation Sans" textLength="45" lengthAdjust="spacingAndGlyphs" >61%</text>
</svg>
</body></html>
